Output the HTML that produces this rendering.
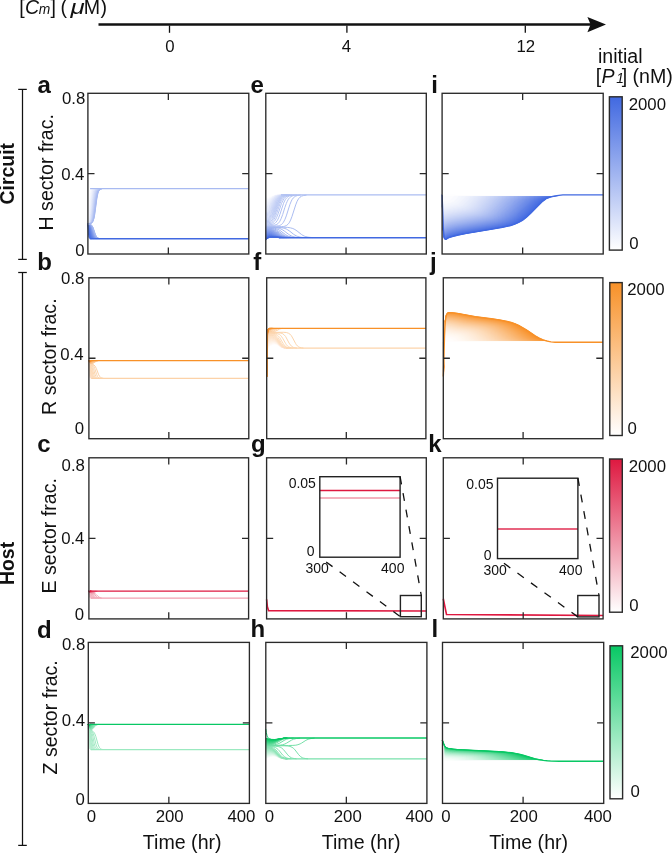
<!DOCTYPE html>
<html><head><meta charset="utf-8"><style>
html,body{margin:0;padding:0;background:#fff;width:672px;height:853px;overflow:hidden}
svg{display:block;font-family:"Liberation Sans",sans-serif;will-change:transform}
</style></head><body>
<svg width="672" height="853" viewBox="0 0 672 853" font-family="Liberation Sans, sans-serif" fill="#111">
<rect width="672" height="853" fill="#fff"/>
<defs></defs>
<line x1="98.5" y1="24.55" x2="592" y2="24.55" stroke="#111" stroke-width="2.6"/>
<polygon points="587.4,17 606,24.6 587.4,32.3 590.6,24.6" fill="#111"/>
<line x1="169.5" y1="25.5" x2="169.5" y2="32.8" stroke="#111" stroke-width="1.3"/>
<line x1="346.9" y1="25.5" x2="346.9" y2="32.8" stroke="#111" stroke-width="1.3"/>
<line x1="525.3" y1="25.5" x2="525.3" y2="32.8" stroke="#111" stroke-width="1.3"/>
<text x="165.24" y="52.10" font-size="16.8" font-weight="normal" font-style="normal" >0</text>
<text x="341.81" y="52.10" font-size="16.8" font-weight="normal" font-style="normal" >4</text>
<text x="516.52" y="52.10" font-size="16.8" font-weight="normal" font-style="normal" >12</text>
<text x="19.20" y="14.10" font-size="19.6" font-weight="normal" font-style="normal" >[</text>
<text x="24.92" y="14.10" font-size="19.6" font-weight="normal" font-style="italic" >C</text>
<text x="38.67" y="14.10" font-size="13.8" font-weight="normal" font-style="italic" >m</text>
<text x="50.55" y="14.10" font-size="19.6" font-weight="normal" font-style="normal">]</text>
<text x="60.58" y="14.10" font-size="19.6" font-weight="normal" font-style="normal" >(</text>
<text transform="translate(70.54,14.1) scale(1.320,1)" font-size="19.6" font-style="italic">μ</text>
<text x="83.79" y="14.10" font-size="19.6" font-weight="normal" font-style="normal" >M</text>
<text x="100.39" y="14.10" font-size="19.6" font-weight="normal" font-style="normal">)</text>
<line x1="22.5" y1="89.4" x2="22.5" y2="259.4" stroke="#111" stroke-width="1.25"/>
<line x1="18.2" y1="89.4" x2="26.8" y2="89.4" stroke="#111" stroke-width="1.25"/>
<line x1="18.2" y1="259.4" x2="26.8" y2="259.4" stroke="#111" stroke-width="1.25"/>
<line x1="22.5" y1="272.5" x2="22.5" y2="845.4" stroke="#111" stroke-width="1.25"/>
<line x1="18.2" y1="272.5" x2="26.8" y2="272.5" stroke="#111" stroke-width="1.25"/>
<line x1="18.2" y1="845.4" x2="26.8" y2="845.4" stroke="#111" stroke-width="1.25"/>
<text transform="translate(14.10,204.40) rotate(-90)" font-size="19.4" font-weight="bold">Circuit</text>
<text transform="translate(14.10,585.00) rotate(-90)" font-size="19.4" font-weight="bold">Host</text>
<path d="M87.9,223.9L88.6,196.1L89.1,190.6L89.6,189.2L90.1,188.8" stroke="rgb(255,255,255)" stroke-width="1.0" fill="none"/>
<path d="M87.9,223.9L88.4,219.2L89.3,200.6L89.8,193.8L90.1,191.8L90.6,189.8L91.0,189.1L91.5,188.8" stroke="rgb(252,252,254)" stroke-width="1.0" fill="none"/>
<path d="M87.9,223.9L88.4,222.0L88.9,217.9L90.1,198.4L90.6,193.1L90.8,191.6L91.3,189.9L91.8,189.2L92.5,188.8" stroke="rgb(249,250,254)" stroke-width="1.0" fill="none"/>
<path d="M87.9,223.9L88.4,222.9L88.6,222.0L89.1,218.9L89.6,213.4L90.6,198.5L91.0,193.5L91.3,192.0L91.8,190.1L92.2,189.3L93.0,188.9" stroke="rgb(245,247,253)" stroke-width="1.0" fill="none"/>
<path d="M87.9,223.9L88.4,223.3L88.9,222.0L89.6,217.4L91.0,197.9L91.5,193.4L91.8,192.0L92.2,190.2L92.7,189.4L93.2,189.0L93.7,188.8" stroke="rgb(242,245,253)" stroke-width="1.0" fill="none"/>
<path d="M87.9,223.9L88.6,223.1L89.1,222.0L89.8,217.9L90.3,212.8L91.3,199.7L92.0,193.0L92.7,190.2L93.2,189.4L93.7,189.0L94.2,188.9" stroke="rgb(239,242,252)" stroke-width="1.0" fill="none"/>
<path d="M87.9,223.9L88.6,223.4L89.1,222.6L89.6,221.0L90.1,218.1L90.6,213.5L91.8,198.3L92.5,192.6L93.0,190.7L93.5,189.7L93.9,189.2L94.7,188.9" stroke="rgb(236,240,252)" stroke-width="1.0" fill="none"/>
<path d="M87.9,223.9L88.6,223.5L89.1,222.9L89.6,221.8L90.1,219.8L90.8,214.0L92.2,196.9L93.0,192.0L93.5,190.4L93.9,189.6L94.4,189.2L95.1,188.9" stroke="rgb(232,237,251)" stroke-width="1.0" fill="none"/>
<path d="M87.9,223.9L88.6,223.6L89.3,222.8L89.8,221.7L90.3,219.7L91.0,214.2L92.5,197.7L93.2,192.6L93.7,190.8L94.2,189.8L94.9,189.1L95.6,188.9" stroke="rgb(229,235,251)" stroke-width="1.0" fill="none"/>
<path d="M87.9,223.9L88.9,223.5L89.6,222.7L90.1,221.6L90.6,219.6L91.3,214.3L92.7,198.3L93.2,194.4L93.7,191.9L94.2,190.5L94.7,189.7L95.4,189.1L96.1,188.9" stroke="rgb(226,232,250)" stroke-width="1.0" fill="none"/>
<path d="M87.9,223.9L88.9,223.6L89.6,222.9L90.1,222.1L90.6,220.6L91.0,218.1L91.5,214.3L93.0,198.8L93.7,193.4L94.2,191.4L94.9,189.8L95.6,189.1L96.6,188.8" stroke="rgb(223,230,250)" stroke-width="1.0" fill="none"/>
<path d="M87.9,223.9L88.9,223.6L89.6,223.1L90.3,221.9L90.8,220.4L91.3,217.9L91.8,214.2L93.2,199.1L93.9,193.8L94.4,191.6L95.1,190.0L95.9,189.2L96.8,188.9" stroke="rgb(220,227,249)" stroke-width="1.0" fill="none"/>
<path d="M87.9,223.9L89.1,223.6L89.8,223.0L90.6,221.8L91.0,220.2L91.5,217.7L92.0,214.0L93.5,199.3L94.2,194.0L94.7,191.9L95.4,190.1L96.1,189.3L97.3,188.8" stroke="rgb(216,224,249)" stroke-width="1.0" fill="none"/>
<path d="M87.9,223.9L89.1,223.6L89.8,223.2L90.6,222.2L91.0,220.9L91.5,218.8L92.0,215.8L93.7,199.5L94.2,195.7L94.7,193.0L95.1,191.3L95.9,189.8L96.6,189.2L97.6,188.9" stroke="rgb(213,222,248)" stroke-width="1.0" fill="none"/>
<path d="M87.9,223.9L89.1,223.7L90.1,223.1L90.8,222.0L91.3,220.7L91.8,218.6L92.2,215.5L93.9,199.6L94.9,193.2L95.4,191.4L96.1,189.9L96.8,189.3L98.0,188.8" stroke="rgb(210,219,248)" stroke-width="1.0" fill="none"/>
<path d="M87.9,223.9L89.3,223.6L90.3,223.0L91.0,221.8L91.5,220.4L92.0,218.3L92.5,215.2L94.2,199.6L95.1,193.3L95.6,191.5L96.3,190.0L97.1,189.3L98.3,188.9" stroke="rgb(207,217,247)" stroke-width="1.0" fill="none"/>
<path d="M87.9,223.9L89.3,223.6L90.3,223.1L91.0,222.1L91.5,221.0L92.2,218.0L92.7,214.9L94.4,199.6L95.4,193.4L95.9,191.6L96.6,190.1L97.1,189.5L97.6,189.2L98.8,188.8" stroke="rgb(203,214,247)" stroke-width="1.0" fill="none"/>
<path d="M87.9,223.9L89.3,223.7L90.3,223.2L91.0,222.4L91.8,220.7L92.5,217.6L93.0,214.5L94.7,199.5L95.6,193.4L96.1,191.7L96.8,190.1L97.3,189.6L97.8,189.2L99.0,188.9" stroke="rgb(200,212,246)" stroke-width="1.0" fill="none"/>
<path d="M87.9,223.9L89.6,223.6L90.6,223.1L91.3,222.2L92.0,220.5L92.5,218.5L93.0,215.8L94.9,199.4L95.9,193.5L96.3,191.7L97.1,190.2L98.0,189.3L99.2,188.9" stroke="rgb(197,209,246)" stroke-width="1.0" fill="none"/>
<path d="M87.9,223.9L89.6,223.7L90.6,223.2L91.3,222.5L92.0,221.0L92.7,218.2L93.2,215.4L95.1,199.2L96.1,193.5L96.8,191.1L97.6,189.9L98.5,189.2L99.7,188.8" stroke="rgb(194,207,245)" stroke-width="1.0" fill="none"/>
<path d="M87.9,223.9L89.6,223.7L90.8,223.1L91.5,222.3L92.2,220.7L93.0,217.8L93.5,215.0L95.4,199.0L96.3,193.5L97.1,191.2L97.8,189.9L98.8,189.2L100.0,188.9" stroke="rgb(191,204,245)" stroke-width="1.0" fill="none"/>
<path d="M87.9,223.9L89.6,223.7L90.8,223.2L91.8,222.1L92.5,220.4L93.2,217.4L93.7,214.5L95.6,198.8L96.6,193.4L97.3,191.2L98.0,190.0L99.0,189.2L100.2,188.9" stroke="rgb(187,202,244)" stroke-width="1.0" fill="none"/>
<path d="M87.9,223.9L89.6,223.7L90.8,223.3L91.8,222.3L92.5,220.9L93.2,218.2L93.7,215.6L95.9,198.6L96.8,193.4L97.6,191.2L98.3,190.0L99.2,189.2L100.5,188.9" stroke="rgb(184,199,244)" stroke-width="1.0" fill="none"/>
<path d="M87.9,223.9L89.8,223.7L91.0,223.2L92.0,222.2L92.7,220.6L93.5,217.9L93.9,215.2L96.1,198.4L97.1,193.3L97.8,191.2L98.5,190.0L99.5,189.2L100.9,188.8" stroke="rgb(181,197,243)" stroke-width="1.0" fill="none"/>
<path d="M87.9,223.9L89.8,223.7L91.0,223.3L92.0,222.4L92.7,221.0L93.5,218.6L94.2,214.7L96.1,199.8L96.6,196.6L97.3,193.2L98.0,191.1L98.8,190.0L99.7,189.2L101.2,188.9" stroke="rgb(178,194,243)" stroke-width="1.0" fill="none"/>
<path d="M87.9,223.9L90.1,223.7L91.3,223.2L92.2,222.2L93.0,220.7L93.7,218.2L94.2,215.7L96.3,199.5L96.8,196.4L97.6,193.1L98.3,191.1L99.0,190.0L100.0,189.2L101.4,188.9" stroke="rgb(174,191,242)" stroke-width="1.0" fill="none"/>
<path d="M87.9,223.9L90.1,223.7L91.3,223.3L92.2,222.4L93.0,221.1L93.7,218.8L94.4,215.2L96.6,199.1L97.1,196.2L97.8,193.0L98.5,191.1L99.2,190.0L100.2,189.3L101.7,188.9" stroke="rgb(171,189,242)" stroke-width="1.0" fill="none"/>
<path d="M87.9,223.9L90.1,223.7L91.3,223.3L92.2,222.5L93.2,220.8L93.9,218.4L94.7,214.7L96.8,198.8L97.8,193.8L98.5,191.6L99.5,190.0L100.5,189.3L101.9,188.9" stroke="rgb(168,186,241)" stroke-width="1.0" fill="none"/>
<path d="M87.9,223.9L88.6,235.2L89.1,237.7L89.3,238.2L89.8,238.6" stroke="rgb(65,105,225)" stroke-width="1.0" fill="none"/>
<path d="M87.9,223.9L88.9,233.2L89.3,236.5L89.8,237.9L90.3,238.5L90.8,238.6" stroke="rgb(68,108,226)" stroke-width="1.0" fill="none"/>
<path d="M87.9,223.9L88.4,226.5L89.6,235.7L89.8,236.8L90.3,238.0L90.8,238.4L91.3,238.6" stroke="rgb(71,110,226)" stroke-width="1.0" fill="none"/>
<path d="M87.9,223.9L88.6,226.9L89.6,233.8L90.1,236.3L90.3,237.1L90.8,238.1L91.3,238.5L91.8,238.6" stroke="rgb(75,113,227)" stroke-width="1.0" fill="none"/>
<path d="M87.9,223.9L88.4,225.0L88.9,227.2L90.3,236.0L91.0,237.9L91.5,238.4L92.0,238.6" stroke="rgb(78,115,227)" stroke-width="1.0" fill="none"/>
<path d="M87.9,223.9L88.4,224.7L88.9,226.3L90.3,234.7L90.8,236.6L91.5,238.0L92.0,238.4L92.5,238.6" stroke="rgb(81,118,228)" stroke-width="1.0" fill="none"/>
<path d="M87.9,223.9L88.6,225.0L89.1,226.6L90.6,234.6L91.0,236.5L91.8,237.9L92.2,238.4L93.0,238.6" stroke="rgb(84,120,228)" stroke-width="1.0" fill="none"/>
<path d="M87.9,223.9L88.6,224.7L89.3,226.9L90.8,234.5L91.3,236.4L92.0,237.9L92.5,238.3L93.2,238.6" stroke="rgb(88,123,229)" stroke-width="1.0" fill="none"/>
<path d="M87.9,223.9L88.6,224.6L89.3,226.3L89.8,228.2L91.0,234.5L91.8,236.9L92.5,238.1L93.0,238.4L93.7,238.6" stroke="rgb(91,125,229)" stroke-width="1.0" fill="none"/>
<path d="M87.9,223.9L88.4,224.2L88.9,224.8L89.6,226.5L91.3,234.5L92.0,236.9L92.7,238.0L93.2,238.4L93.9,238.6" stroke="rgb(94,128,230)" stroke-width="1.0" fill="none"/>
<path d="M87.9,223.9L88.4,224.1L88.9,224.6L89.6,226.1L90.3,228.8L91.5,234.6L92.2,236.8L93.0,238.0L93.5,238.3L94.2,238.6" stroke="rgb(97,130,230)" stroke-width="1.0" fill="none"/>
<path d="M87.9,223.9L88.6,224.3L89.1,224.8L89.8,226.3L90.6,229.0L91.8,234.6L92.5,236.8L93.0,237.7L93.5,238.1L94.7,238.6" stroke="rgb(100,133,231)" stroke-width="1.0" fill="none"/>
<path d="M87.9,223.9L88.6,224.2L89.1,224.7L89.8,225.9L90.6,228.3L92.0,234.7L92.7,236.8L93.2,237.6L93.7,238.1L94.9,238.6" stroke="rgb(104,136,231)" stroke-width="1.0" fill="none"/>
<path d="M87.9,223.9L88.6,224.2L89.1,224.5L89.6,225.2L90.1,226.2L90.8,228.6L92.2,234.8L93.0,236.8L93.5,237.6L93.9,238.1L95.1,238.6" stroke="rgb(107,138,232)" stroke-width="1.0" fill="none"/>
<path d="M87.9,223.9L88.6,224.1L89.1,224.4L89.6,225.0L90.1,225.9L90.8,228.0L92.5,234.9L93.2,236.9L93.7,237.6L94.2,238.1L94.9,238.4L95.6,238.6" stroke="rgb(110,141,232)" stroke-width="1.0" fill="none"/>
<path d="M87.9,223.9L88.6,224.1L89.3,224.6L89.8,225.2L90.3,226.1L91.0,228.3L92.5,234.2L93.5,236.9L93.9,237.6L94.4,238.1L95.1,238.4L95.9,238.6" stroke="rgb(113,143,233)" stroke-width="1.0" fill="none"/>
<path d="M87.9,223.9L88.6,224.1L89.3,224.5L90.1,225.4L90.6,226.4L91.3,228.6L92.7,234.4L93.7,236.9L94.2,237.6L94.7,238.1L95.4,238.4L96.1,238.6" stroke="rgb(117,146,233)" stroke-width="1.0" fill="none"/>
<path d="M87.9,223.9L88.6,224.0L89.3,224.4L90.1,225.2L90.6,226.1L91.3,228.1L93.0,234.5L93.9,237.0L94.4,237.6L94.9,238.1L95.6,238.4L96.3,238.6" stroke="rgb(120,148,234)" stroke-width="1.0" fill="none"/>
<path d="M87.9,223.9L88.6,224.0L89.3,224.4L90.3,225.4L91.3,227.6L93.0,233.9L93.9,236.6L94.4,237.4L95.1,238.1L95.9,238.4L96.6,238.6" stroke="rgb(123,151,234)" stroke-width="1.0" fill="none"/>
<path d="M87.9,223.9L89.3,224.3L90.1,224.9L90.6,225.6L91.5,227.9L93.2,234.1L93.9,236.1L94.4,237.0L95.1,237.9L95.9,238.3L96.8,238.6" stroke="rgb(126,153,235)" stroke-width="1.0" fill="none"/>
<path d="M87.9,223.9L89.3,224.3L90.1,224.8L90.6,225.4L91.5,227.5L93.5,234.3L94.2,236.2L94.7,237.1L95.4,237.9L96.1,238.3L97.1,238.6" stroke="rgb(129,156,235)" stroke-width="1.0" fill="none"/>
<path d="M87.9,223.9L88.9,224.1L89.6,224.4L90.3,224.9L90.8,225.6L91.8,227.8L93.5,233.7L94.4,236.3L94.9,237.1L95.6,237.9L96.3,238.3L97.3,238.6" stroke="rgb(133,158,236)" stroke-width="1.0" fill="none"/>
<path d="M87.9,223.9L88.9,224.0L89.6,224.3L90.3,224.8L90.8,225.4L91.5,226.8L92.0,228.1L93.7,233.9L94.7,236.4L95.1,237.2L95.9,237.9L96.6,238.3L97.8,238.6" stroke="rgb(136,161,236)" stroke-width="1.0" fill="none"/>
<path d="M87.9,223.9L89.1,224.1L89.8,224.4L90.6,225.0L91.0,225.6L92.0,227.7L93.9,234.1L94.9,236.5L95.4,237.2L96.1,237.9L96.8,238.3L98.0,238.6" stroke="rgb(139,163,237)" stroke-width="1.0" fill="none"/>
<path d="M87.9,223.9L89.1,224.1L89.8,224.4L90.6,224.9L91.0,225.4L91.8,226.7L92.2,228.0L94.2,234.3L95.1,236.6L95.6,237.3L96.3,238.0L97.1,238.3L98.3,238.6" stroke="rgb(142,166,237)" stroke-width="1.0" fill="none"/>
<path d="M87.9,223.9L89.1,224.1L89.8,224.3L90.6,224.8L91.3,225.6L92.2,227.6L94.2,233.8L95.1,236.2L95.9,237.3L96.6,238.0L97.3,238.3L98.5,238.6" stroke="rgb(146,169,238)" stroke-width="1.0" fill="none"/>
<path d="M87.9,223.9L89.8,224.3L90.6,224.7L91.3,225.5L92.0,226.7L92.5,227.9L94.4,234.0L95.4,236.3L96.1,237.4L96.8,238.0L97.6,238.3L98.8,238.6" stroke="rgb(149,171,238)" stroke-width="1.0" fill="none"/>
<path d="M87.9,223.9L89.8,224.2L90.6,224.6L91.3,225.3L92.0,226.5L92.5,227.6L94.7,234.2L95.6,236.4L96.3,237.4L97.1,238.0L98.0,238.4L99.0,238.6" stroke="rgb(152,174,239)" stroke-width="1.0" fill="none"/>
<path d="M87.9,223.9L89.1,224.0L90.1,224.3L90.8,224.8L91.5,225.5L92.2,226.7L92.7,227.8L94.9,234.4L95.9,236.5L96.6,237.5L97.3,238.0L98.3,238.4L99.2,238.6" stroke="rgb(155,176,239)" stroke-width="1.0" fill="none"/>
<path d="M87.9,223.9L89.1,224.0L90.1,224.3L90.8,224.7L91.5,225.4L92.2,226.5L92.7,227.5L94.9,234.0L96.1,236.6L96.8,237.5L97.6,238.1L98.5,238.4L99.5,238.6" stroke="rgb(158,179,240)" stroke-width="1.0" fill="none"/>
<path d="M87.9,223.9L89.3,224.0L90.3,224.4L91.0,224.8L91.8,225.5L92.5,226.7L93.0,227.8L95.1,234.2L96.1,236.3L96.8,237.3L97.6,237.9L98.5,238.4L99.7,238.6" stroke="rgb(162,181,240)" stroke-width="1.0" fill="none"/>
<path d="M87.9,223.9L89.3,224.0L90.3,224.3L91.0,224.7L91.8,225.4L92.5,226.5L93.0,227.5L95.4,234.4L96.3,236.4L97.1,237.4L97.8,238.0L98.8,238.4L100.0,238.6" stroke="rgb(165,184,241)" stroke-width="1.0" fill="none"/>
<path d="M90.1,188.72L248.8,188.72" stroke="rgb(168,186,241)" stroke-width="1.3" fill="none"/>
<path d="M89.8,238.73L248.8,238.73" stroke="rgb(65,105,225)" stroke-width="1.3" fill="none"/>
<path d="M265.8,195.7L266.3,196.5L267.0,197.3L267.7,197.6L268.4,197.7L269.7,197.5L273.3,196.0L275.4,195.5L278.8,195.1L284.1,195.0" stroke="rgb(255,255,255)" stroke-width="1.0" fill="none"/>
<path d="M265.8,196.6L266.3,197.3L267.0,197.9L267.5,198.2L268.2,198.2L269.4,197.9L273.0,196.2L275.4,195.5L278.8,195.1L284.1,195.0" stroke="rgb(253,253,255)" stroke-width="1.0" fill="none"/>
<path d="M265.8,197.5L266.3,198.1L267.0,198.6L267.5,198.8L268.2,198.8L269.4,198.4L272.8,196.5L275.2,195.7L278.3,195.2L283.4,195.0" stroke="rgb(250,251,254)" stroke-width="1.0" fill="none"/>
<path d="M265.8,198.4L266.8,199.2L267.2,199.4L268.0,199.4L269.2,199.0L272.8,196.7L274.9,195.8L278.1,195.2L282.7,195.0" stroke="rgb(248,249,254)" stroke-width="1.0" fill="none"/>
<path d="M265.8,199.3L266.8,200.0L267.2,200.1L268.0,200.1L269.2,199.5L272.5,197.0L274.7,196.0L276.2,195.6L277.8,195.3L282.7,195.0" stroke="rgb(245,247,253)" stroke-width="1.0" fill="none"/>
<path d="M265.8,200.1L266.8,200.8L267.2,200.9L268.0,200.7L269.2,200.1L272.5,197.3L274.5,196.2L275.9,195.7L277.4,195.4L281.7,195.0" stroke="rgb(243,246,253)" stroke-width="1.0" fill="none"/>
<path d="M265.8,201.0L266.3,201.4L267.0,201.6L267.5,201.6L268.2,201.3L269.4,200.5L272.8,197.4L274.0,196.6L275.2,196.1L277.8,195.4L281.2,195.1" stroke="rgb(241,244,253)" stroke-width="1.0" fill="none"/>
<path d="M265.8,201.9L266.3,202.2L267.0,202.4L267.5,202.4L268.2,202.1L269.4,201.1L272.8,197.7L274.0,196.9L275.2,196.2L277.6,195.5L281.0,195.1" stroke="rgb(238,242,252)" stroke-width="1.0" fill="none"/>
<path d="M265.8,202.8L266.5,203.2L267.0,203.2L267.7,203.1L268.4,202.7L269.4,201.8L272.8,198.1L274.0,197.1L275.2,196.4L276.4,195.9L277.8,195.5L281.2,195.1" stroke="rgb(236,240,252)" stroke-width="1.0" fill="none"/>
<path d="M265.8,203.7L266.5,204.0L267.0,204.1L267.7,203.9L268.4,203.5L269.7,202.3L272.8,198.5L274.0,197.4L275.2,196.6L276.4,196.0L277.8,195.6L281.4,195.1" stroke="rgb(233,238,252)" stroke-width="1.0" fill="none"/>
<path d="M265.8,204.5L266.5,204.9L267.0,204.9L267.7,204.7L268.4,204.3L269.7,203.0L273.0,198.7L274.2,197.5L275.4,196.7L276.6,196.1L278.1,195.6L279.8,195.3L281.9,195.1" stroke="rgb(231,236,251)" stroke-width="1.0" fill="none"/>
<path d="M265.8,205.4L266.5,205.7L267.2,205.7L268.0,205.5L268.7,204.9L269.9,203.5L273.3,198.9L274.5,197.6L275.7,196.7L277.1,196.0L278.6,195.6L280.2,195.3L282.7,195.1" stroke="rgb(229,234,251)" stroke-width="1.0" fill="none"/>
<path d="M265.8,206.3L266.5,206.6L267.2,206.6L268.0,206.3L268.7,205.8L269.9,204.4L273.5,199.1L274.7,197.8L275.9,196.8L277.4,196.1L278.8,195.6L280.5,195.3L282.7,195.1" stroke="rgb(226,232,250)" stroke-width="1.0" fill="none"/>
<path d="M265.8,207.2L266.8,207.5L267.5,207.4L268.2,207.1L268.9,206.4L270.1,204.9L273.7,199.3L274.9,197.9L276.2,196.9L277.6,196.1L279.0,195.6L281.0,195.3L283.4,195.1" stroke="rgb(224,230,250)" stroke-width="1.0" fill="none"/>
<path d="M265.8,208.1L266.8,208.4L267.5,208.3L268.2,208.0L268.9,207.4L270.4,205.4L274.0,199.5L275.2,198.0L276.4,197.0L277.8,196.2L279.3,195.6L281.0,195.3L283.4,195.1" stroke="rgb(221,228,250)" stroke-width="1.0" fill="none"/>
<path d="M265.8,208.9L266.8,209.2L267.5,209.2L268.2,208.9L269.2,208.0L270.6,206.0L273.0,201.6L274.2,199.7L275.4,198.2L276.6,197.1L278.1,196.2L279.5,195.7L281.4,195.3L284.1,195.1" stroke="rgb(219,227,249)" stroke-width="1.0" fill="none"/>
<path d="M265.8,209.8L266.8,210.1L267.7,210.0L268.4,209.6L269.4,208.7L270.9,206.5L273.3,202.0L274.5,200.0L275.7,198.4L276.9,197.2L278.3,196.3L279.8,195.7L281.7,195.3L284.1,195.1" stroke="rgb(217,225,249)" stroke-width="1.0" fill="none"/>
<path d="M265.8,210.7L266.8,211.0L267.7,210.9L268.7,210.4L269.4,209.7L270.9,207.5L274.7,200.2L275.9,198.5L277.1,197.3L278.6,196.3L280.0,195.7L281.7,195.4L284.1,195.1" stroke="rgb(214,223,249)" stroke-width="1.0" fill="none"/>
<path d="M265.8,211.6L266.8,211.9L267.7,211.8L268.7,211.3L269.7,210.4L271.1,208.1L274.9,200.5L276.2,198.7L277.4,197.4L278.8,196.4L280.2,195.8L281.9,195.4L284.8,195.1" stroke="rgb(212,221,248)" stroke-width="1.0" fill="none"/>
<path d="M265.8,212.5L267.0,212.8L268.0,212.6L268.9,212.1L269.9,211.1L271.3,208.7L275.2,200.8L276.4,198.9L277.6,197.6L279.0,196.5L280.5,195.8L282.7,195.3L284.8,195.1" stroke="rgb(209,219,248)" stroke-width="1.0" fill="none"/>
<path d="M265.8,213.3L267.0,213.7L268.2,213.5L269.2,212.9L270.1,211.8L271.6,209.4L275.4,201.1L276.6,199.1L278.1,197.5L279.5,196.4L281.0,195.8L282.7,195.4L285.5,195.1" stroke="rgb(207,217,247)" stroke-width="1.0" fill="none"/>
<path d="M265.8,214.2L267.0,214.5L268.2,214.4L269.2,213.8L270.1,212.8L270.9,211.8L271.8,210.0L274.7,203.4L275.9,200.9L277.1,199.0L278.3,197.6L279.8,196.5L281.2,195.8L283.4,195.3L285.5,195.1" stroke="rgb(204,215,247)" stroke-width="1.0" fill="none"/>
<path d="M265.8,215.1L267.0,215.4L268.2,215.3L269.4,214.6L270.4,213.6L271.1,212.5L272.1,210.7L274.9,203.8L276.2,201.3L277.4,199.2L278.8,197.5L280.2,196.5L281.7,195.8L283.4,195.4L286.3,195.1" stroke="rgb(202,213,247)" stroke-width="1.0" fill="none"/>
<path d="M265.8,216.0L267.2,216.3L268.4,216.1L269.7,215.4L270.6,214.3L271.3,213.2L272.3,211.4L276.4,201.6L277.6,199.5L279.0,197.7L280.5,196.5L281.9,195.9L284.1,195.3L287.0,195.1" stroke="rgb(200,211,246)" stroke-width="1.0" fill="none"/>
<path d="M265.8,216.9L267.2,217.2L268.7,217.0L269.9,216.2L270.9,215.1L271.8,213.6L272.8,211.6L275.7,204.3L276.9,201.6L278.1,199.4L279.3,197.9L280.7,196.7L282.7,195.8L284.8,195.3L287.0,195.1" stroke="rgb(197,209,246)" stroke-width="1.0" fill="none"/>
<path d="M265.8,217.7L267.2,218.0L268.7,217.9L269.9,217.2L271.1,215.9L272.1,214.4L273.0,212.4L276.2,204.3L277.4,201.5L278.6,199.4L279.8,197.9L281.2,196.6L282.7,195.9L284.8,195.3L287.7,195.1" stroke="rgb(195,208,246)" stroke-width="1.0" fill="none"/>
<path d="M265.8,218.6L267.5,218.9L268.9,218.7L269.7,218.4L270.4,217.9L271.6,216.5L272.5,214.8L273.5,212.7L276.4,205.0L277.6,202.1L278.8,199.8L280.2,197.9L281.7,196.6L283.4,195.8L285.5,195.3L287.7,195.1" stroke="rgb(192,206,245)" stroke-width="1.0" fill="none"/>
<path d="M265.8,219.5L267.7,219.8L269.2,219.6L269.9,219.3L270.6,218.8L271.8,217.4L272.8,215.8L273.7,213.8L278.1,202.3L279.3,200.0L280.7,198.0L281.9,196.9L282.7,196.4L284.1,195.8L286.3,195.3L288.4,195.1" stroke="rgb(190,204,245)" stroke-width="1.0" fill="none"/>
<path d="M265.8,220.4L268.0,220.7L269.7,220.4L271.1,219.6L272.3,218.2L273.3,216.6L274.5,213.9L277.6,205.2L278.8,202.2L280.0,199.9L281.4,197.9L282.7,196.8L283.4,196.4L284.8,195.7L287.0,195.3L289.2,195.1" stroke="rgb(188,202,244)" stroke-width="1.0" fill="none"/>
<path d="M265.8,221.3L268.0,221.6L269.7,221.5L271.1,220.8L272.3,219.8L273.5,218.1L274.7,215.6L279.0,203.6L280.2,200.9L281.4,198.9L282.7,197.5L283.4,196.9L284.8,196.0L287.0,195.4L289.9,195.1" stroke="rgb(185,200,244)" stroke-width="1.0" fill="none"/>
<path d="M265.8,222.1L268.2,222.5L270.1,222.4L271.6,221.9L273.0,220.7L274.2,219.1L275.4,216.7L276.6,213.7L280.2,203.2L281.4,200.6L282.7,198.7L284.1,197.1L285.5,196.2L287.7,195.5L290.6,195.1" stroke="rgb(183,198,244)" stroke-width="1.0" fill="none"/>
<path d="M265.8,223.0L268.7,223.4L270.9,223.4L271.8,223.1L272.8,222.7L274.2,221.5L275.4,219.9L276.6,217.5L278.1,213.8L281.4,203.8L282.7,201.0L284.1,198.6L285.5,197.1L287.0,196.2L289.2,195.4L292.0,195.1" stroke="rgb(180,196,243)" stroke-width="1.0" fill="none"/>
<path d="M265.8,223.9L269.4,224.4L272.1,224.3L273.3,224.0L274.2,223.6L275.2,223.0L275.9,222.3L277.4,220.4L278.6,217.9L279.8,214.7L283.4,203.8L284.1,202.0L285.5,199.3L287.0,197.5L287.7,196.9L289.2,196.0L291.3,195.4L294.2,195.1" stroke="rgb(178,194,243)" stroke-width="1.0" fill="none"/>
<path d="M265.8,224.8L270.4,225.3L273.7,225.2L274.9,225.1L276.2,224.7L277.1,224.2L278.1,223.5L279.0,222.4L279.8,221.4L281.2,218.5L282.7,214.5L284.8,207.6L286.3,203.5L287.0,201.8L288.4,199.1L289.9,197.4L290.6,196.8L292.0,196.0L294.2,195.4L297.1,195.1" stroke="rgb(176,192,242)" stroke-width="1.0" fill="none"/>
<path d="M265.8,225.7L272.5,226.1L276.9,226.0L278.3,225.8L279.5,225.5L280.7,225.0L281.7,224.3L282.7,223.3L283.4,222.3L284.8,219.7L286.3,215.9L289.9,204.5L291.3,201.1L292.0,199.7L293.5,197.7L294.2,197.1L295.7,196.1L297.8,195.4L300.7,195.1" stroke="rgb(173,190,242)" stroke-width="1.0" fill="none"/>
<path d="M265.8,226.5L276.2,226.8L281.4,226.7L283.4,226.5L284.8,226.2L286.3,225.6L287.0,225.1L288.4,223.8L289.2,222.8L290.6,220.1L292.0,216.4L295.7,204.9L297.1,201.3L298.5,198.8L300.0,197.2L301.4,196.2L303.6,195.5L306.5,195.1" stroke="rgb(171,189,242)" stroke-width="1.0" fill="none"/>
<path d="M265.8,227.2L283.4,227.2L287.7,227.4L290.6,227.9L292.8,228.5L294.9,229.5L297.1,231.0L301.4,234.4L302.9,235.4L304.3,236.1L305.8,236.6L307.9,237.1L310.1,237.4L313.0,237.6" stroke="rgb(168,187,241)" stroke-width="1.0" fill="none"/>
<path d="M265.8,227.5L273.3,227.4L278.1,227.4L281.4,227.7L284.1,228.2L286.3,229.0L287.7,229.8L289.9,231.3L293.5,234.2L294.9,235.1L296.4,235.9L297.8,236.5L300.0,237.1L302.2,237.4L305.0,237.6" stroke="rgb(166,185,241)" stroke-width="1.0" fill="none"/>
<path d="M265.8,227.8L270.6,227.7L274.2,227.7L277.1,228.0L279.3,228.4L281.0,229.0L282.7,229.9L284.8,231.4L288.4,234.2L289.9,235.2L291.3,235.9L292.8,236.5L294.9,237.1L297.1,237.4L300.0,237.6" stroke="rgb(164,183,241)" stroke-width="1.0" fill="none"/>
<path d="M265.8,228.1L269.4,228.0L272.1,228.0L274.5,228.3L276.4,228.8L278.1,229.4L279.8,230.3L285.5,234.6L287.0,235.5L288.4,236.2L289.9,236.7L292.0,237.2L296.4,237.6" stroke="rgb(161,181,240)" stroke-width="1.0" fill="none"/>
<path d="M265.8,228.4L268.4,228.3L270.9,228.4L272.8,228.6L274.5,229.1L276.2,229.7L277.6,230.5L283.4,234.7L285.5,235.9L287.0,236.5L289.2,237.1L291.3,237.4L294.2,237.6" stroke="rgb(159,179,240)" stroke-width="1.0" fill="none"/>
<path d="M265.8,228.7L269.9,228.7L271.6,228.9L273.3,229.4L274.7,229.9L276.2,230.7L281.4,234.5L284.1,236.0L285.5,236.6L287.7,237.1L289.9,237.4L292.8,237.6" stroke="rgb(156,177,239)" stroke-width="1.0" fill="none"/>
<path d="M265.8,229.0L269.4,229.0L271.1,229.3L272.5,229.7L275.2,231.0L280.5,234.7L281.9,235.6L283.4,236.2L284.8,236.7L287.0,237.2L291.3,237.6" stroke="rgb(154,175,239)" stroke-width="1.0" fill="none"/>
<path d="M265.8,229.3L269.2,229.3L271.8,229.9L274.2,231.0L279.8,234.8L281.2,235.6L282.7,236.3L284.1,236.7L286.3,237.2L290.6,237.6" stroke="rgb(152,173,239)" stroke-width="1.0" fill="none"/>
<path d="M265.8,229.6L267.5,229.5L269.2,229.7L270.6,229.9L272.1,230.4L274.5,231.7L279.5,235.1L281.0,235.9L282.7,236.5L285.5,237.2L289.9,237.6" stroke="rgb(149,171,238)" stroke-width="1.0" fill="none"/>
<path d="M265.8,229.9L268.9,229.9L270.4,230.2L271.8,230.7L274.0,231.8L279.0,235.2L281.9,236.5L284.8,237.2L289.2,237.6" stroke="rgb(147,170,238)" stroke-width="1.0" fill="none"/>
<path d="M265.8,230.2L267.5,230.1L268.9,230.2L270.4,230.5L271.6,230.9L273.7,232.0L278.8,235.3L281.7,236.5L284.8,237.2L289.2,237.6" stroke="rgb(144,168,238)" stroke-width="1.0" fill="none"/>
<path d="M265.8,230.5L268.7,230.5L270.1,230.8L271.3,231.2L273.5,232.2L278.3,235.3L281.2,236.5L284.1,237.2L288.4,237.6" stroke="rgb(142,166,237)" stroke-width="1.0" fill="none"/>
<path d="M265.8,230.8L268.7,230.8L271.1,231.4L273.3,232.4L278.1,235.4L281.0,236.6L284.1,237.2L288.4,237.6" stroke="rgb(140,164,237)" stroke-width="1.0" fill="none"/>
<path d="M265.8,231.0L267.2,231.0L268.7,231.1L271.1,231.7L273.0,232.6L277.8,235.4L280.7,236.6L284.1,237.3L287.7,237.6" stroke="rgb(137,162,236)" stroke-width="1.0" fill="none"/>
<path d="M265.8,231.3L268.4,231.3L270.9,231.9L272.8,232.7L277.6,235.5L280.5,236.6L283.4,237.2L287.7,237.6" stroke="rgb(135,160,236)" stroke-width="1.0" fill="none"/>
<path d="M265.8,231.6L268.2,231.6L270.6,232.1L272.5,232.9L277.4,235.6L280.2,236.7L283.4,237.3L287.0,237.6" stroke="rgb(132,158,236)" stroke-width="1.0" fill="none"/>
<path d="M265.8,231.9L268.2,231.8L270.6,232.3L272.5,233.2L277.4,235.7L280.2,236.7L283.4,237.3L287.0,237.6" stroke="rgb(130,156,235)" stroke-width="1.0" fill="none"/>
<path d="M265.8,232.2L268.2,232.1L270.4,232.5L272.3,233.3L277.1,235.8L280.0,236.8L283.4,237.4L287.0,237.6" stroke="rgb(128,154,235)" stroke-width="1.0" fill="none"/>
<path d="M265.8,232.5L268.0,232.4L269.9,232.7L271.8,233.3L276.4,235.6L278.8,236.5L281.9,237.2L286.3,237.6" stroke="rgb(125,152,234)" stroke-width="1.0" fill="none"/>
<path d="M265.8,232.8L267.7,232.6L269.7,232.9L271.6,233.5L276.2,235.7L278.8,236.6L281.9,237.3L286.3,237.6" stroke="rgb(123,151,234)" stroke-width="1.0" fill="none"/>
<path d="M265.8,233.1L267.7,232.9L269.7,233.1L271.6,233.7L276.2,235.8L278.6,236.6L281.7,237.3L285.5,237.6" stroke="rgb(120,149,234)" stroke-width="1.0" fill="none"/>
<path d="M265.8,233.4L267.7,233.2L269.7,233.4L271.3,233.9L275.9,235.9L278.3,236.7L281.4,237.3L285.5,237.6" stroke="rgb(118,147,233)" stroke-width="1.0" fill="none"/>
<path d="M265.8,233.7L267.7,233.5L269.7,233.6L271.3,234.1L275.7,235.9L278.3,236.8L281.4,237.3L285.5,237.6" stroke="rgb(116,145,233)" stroke-width="1.0" fill="none"/>
<path d="M265.8,234.0L267.7,233.7L269.7,233.9L271.3,234.3L275.7,236.1L278.1,236.8L281.0,237.3L284.8,237.6" stroke="rgb(113,143,233)" stroke-width="1.0" fill="none"/>
<path d="M265.8,234.3L267.7,234.0L269.7,234.1L271.3,234.6L275.4,236.1L277.8,236.8L281.0,237.3L284.8,237.6" stroke="rgb(111,141,232)" stroke-width="1.0" fill="none"/>
<path d="M265.8,234.6L267.7,234.3L269.7,234.4L271.3,234.8L275.2,236.1L277.6,236.8L280.5,237.3L284.1,237.6" stroke="rgb(108,139,232)" stroke-width="1.0" fill="none"/>
<path d="M265.8,234.9L267.7,234.5L269.7,234.6L271.1,234.9L275.2,236.3L277.6,236.9L280.5,237.3L284.1,237.6" stroke="rgb(106,137,231)" stroke-width="1.0" fill="none"/>
<path d="M265.8,235.2L267.7,234.8L269.7,234.8L271.1,235.1L275.2,236.4L277.6,237.0L280.5,237.4L284.1,237.6" stroke="rgb(103,135,231)" stroke-width="1.0" fill="none"/>
<path d="M265.8,235.5L267.7,235.0L269.7,235.0L271.1,235.3L275.2,236.5L277.4,237.0L280.0,237.3L283.4,237.6" stroke="rgb(101,133,231)" stroke-width="1.0" fill="none"/>
<path d="M265.8,235.8L267.7,235.3L269.7,235.3L271.1,235.5L277.4,237.0L280.0,237.4L283.4,237.6" stroke="rgb(99,132,230)" stroke-width="1.0" fill="none"/>
<path d="M265.8,236.1L267.7,235.5L269.7,235.5L271.3,235.7L277.1,237.0L279.8,237.4L282.7,237.6" stroke="rgb(96,130,230)" stroke-width="1.0" fill="none"/>
<path d="M265.8,236.4L267.7,235.8L269.7,235.7L271.3,235.9L277.1,237.1L282.7,237.6" stroke="rgb(94,128,230)" stroke-width="1.0" fill="none"/>
<path d="M265.8,236.7L267.7,236.0L269.7,235.8L271.3,236.0L277.4,237.2L282.7,237.6" stroke="rgb(91,126,229)" stroke-width="1.0" fill="none"/>
<path d="M265.8,237.0L267.7,236.2L269.9,236.0L277.1,237.2L281.9,237.6" stroke="rgb(89,124,229)" stroke-width="1.0" fill="none"/>
<path d="M265.8,237.3L267.7,236.5L269.9,236.2L271.6,236.4L277.1,237.2L281.7,237.6" stroke="rgb(87,122,228)" stroke-width="1.0" fill="none"/>
<path d="M265.8,237.6L267.7,236.7L269.9,236.4L271.6,236.5L277.4,237.3L281.4,237.6" stroke="rgb(84,120,228)" stroke-width="1.0" fill="none"/>
<path d="M265.8,237.9L267.7,236.9L268.7,236.6L269.9,236.5L271.8,236.6L277.4,237.3L281.0,237.6" stroke="rgb(82,118,228)" stroke-width="1.0" fill="none"/>
<path d="M265.8,238.2L267.7,237.1L268.7,236.8L269.9,236.7L271.6,236.7L276.9,237.3L280.7,237.6" stroke="rgb(79,116,227)" stroke-width="1.0" fill="none"/>
<path d="M265.8,238.5L266.8,237.8L268.0,237.2L268.9,236.9L270.1,236.8L271.8,236.8L276.9,237.3L280.5,237.6" stroke="rgb(77,114,227)" stroke-width="1.0" fill="none"/>
<path d="M265.8,238.8L266.8,238.0L267.7,237.5L268.9,237.1L270.1,236.9L272.1,236.9L280.2,237.6" stroke="rgb(75,113,227)" stroke-width="1.0" fill="none"/>
<path d="M265.8,239.0L266.8,238.3L267.7,237.7L268.9,237.3L270.1,237.1L272.3,237.0L280.0,237.6" stroke="rgb(72,111,226)" stroke-width="1.0" fill="none"/>
<path d="M265.8,239.3L266.8,238.5L267.7,237.9L268.9,237.4L270.1,237.2L272.3,237.1L279.8,237.6" stroke="rgb(70,109,226)" stroke-width="1.0" fill="none"/>
<path d="M265.8,239.6L266.8,238.7L267.7,238.1L268.9,237.6L270.1,237.3L272.5,237.2L279.5,237.6" stroke="rgb(67,107,225)" stroke-width="1.0" fill="none"/>
<path d="M265.8,239.9L266.8,239.0L267.7,238.3L268.9,237.7L270.1,237.4L272.5,237.2L279.0,237.6" stroke="rgb(65,105,225)" stroke-width="1.0" fill="none"/>
<path d="M281.0,194.94L426.3,194.94" stroke="rgb(171,189,242)" stroke-width="1.3" fill="none"/>
<path d="M279.0,237.73L426.3,237.73" stroke="rgb(65,105,225)" stroke-width="1.3" fill="none"/>
<path d="M442.1,194.9L443.3,228.9L443.7,234.0L444.1,237.2L444.5,238.7L445.3,239.3L446.1,239.2L447.7,238.2L450.2,237.2L454.2,236.0L458.2,235.0L466.3,233.4L490.4,229.4L502.5,227.2L510.6,225.5L514.6,224.2L518.6,222.4L522.7,220.1L526.7,217.0L530.7,213.3L538.8,204.9L542.8,201.1L546.8,198.3L550.8,196.9L554.9,196.0L558.9,195.4L562.9,194.9L603.2,194.9L603.2,194.9L442.1,194.9Z" stroke="rgb(65,105,225)" stroke-width="1.0" fill="rgb(65,105,225)"/>
<path d="M442.1,194.9L443.3,228.8L443.7,233.8L444.1,237.0L444.5,238.4L445.3,238.9L446.1,238.9L447.7,237.8L450.2,236.9L454.2,235.6L458.2,234.6L466.3,233.1L490.4,229.0L502.5,226.8L506.5,226.0L510.6,225.1L514.6,223.7L518.6,221.8L522.7,219.3L526.7,216.1L530.7,212.3L538.8,203.8L542.8,200.3L546.8,197.8L550.8,196.6L554.9,195.8L558.9,195.2L562.9,194.9L603.2,194.9L603.2,194.9L442.1,194.9Z" stroke="rgb(68,108,226)" stroke-width="1.0" fill="rgb(68,108,226)"/>
<path d="M442.1,194.9L443.3,228.8L443.7,233.7L444.1,236.8L444.5,238.1L445.3,238.6L446.1,238.5L447.7,237.5L450.2,236.5L454.2,235.3L458.2,234.3L466.3,232.7L490.4,228.7L502.5,226.5L506.5,225.7L510.6,224.6L514.6,223.2L518.6,221.2L522.7,218.5L526.7,215.2L530.7,211.2L538.8,202.8L542.8,199.5L546.8,197.4L550.8,196.3L554.9,195.6L558.9,195.1L562.9,194.9L603.2,194.9L603.2,194.9L442.1,194.9Z" stroke="rgb(71,110,226)" stroke-width="1.0" fill="rgb(71,110,226)"/>
<path d="M442.1,194.9L443.3,228.7L443.7,233.5L444.1,236.6L444.5,237.8L445.3,238.3L446.1,238.2L447.7,237.1L450.2,236.1L454.2,234.9L458.2,233.9L466.3,232.4L490.4,228.3L502.5,226.1L506.5,225.3L510.6,224.2L514.6,222.6L518.6,220.5L522.7,217.7L526.7,214.2L538.8,201.8L542.8,198.8L546.8,197.1L550.8,196.1L554.9,195.4L558.9,195.0L603.2,194.9L603.2,194.9L442.1,194.9Z" stroke="rgb(75,113,227)" stroke-width="1.0" fill="rgb(75,113,227)"/>
<path d="M442.1,194.9L443.3,228.7L443.7,233.4L444.1,236.4L444.5,237.5L445.3,237.9L446.1,237.8L447.7,236.7L450.2,235.8L454.2,234.6L458.2,233.6L462.2,232.8L490.4,228.0L502.5,225.7L506.5,224.9L510.6,223.7L514.6,222.1L518.6,219.8L522.7,216.8L526.7,213.2L534.7,204.8L538.8,201.0L542.8,198.1L546.8,196.7L550.8,195.9L554.9,195.3L558.9,194.9L603.2,194.9L603.2,194.9L442.1,194.9Z" stroke="rgb(78,115,227)" stroke-width="1.0" fill="rgb(78,115,227)"/>
<path d="M442.1,194.9L443.3,228.6L443.7,233.2L444.1,236.1L444.5,237.1L445.3,237.6L446.1,237.4L447.7,236.4L450.2,235.4L454.2,234.2L458.2,233.2L466.3,231.7L490.4,227.6L502.5,225.4L506.5,224.4L510.6,223.2L514.6,221.4L518.6,219.1L522.7,215.9L526.7,212.2L534.7,203.6L538.8,200.1L542.8,197.6L546.8,196.4L550.8,195.7L554.9,195.1L558.9,194.9L603.2,194.9L603.2,194.9L442.1,194.9Z" stroke="rgb(81,118,228)" stroke-width="1.0" fill="rgb(81,118,228)"/>
<path d="M442.1,194.9L443.3,228.6L443.7,233.0L444.1,235.9L444.5,236.8L445.3,237.2L446.1,237.0L447.7,236.0L450.2,235.1L454.2,233.8L458.2,232.9L462.2,232.1L486.4,228.0L498.5,225.8L502.5,225.0L506.5,224.0L510.6,222.7L514.6,220.8L518.6,218.3L522.7,215.0L526.7,211.1L534.7,202.6L538.8,199.3L542.8,197.2L546.8,196.2L550.8,195.5L554.9,195.0L603.2,194.9L603.2,194.9L442.1,194.9Z" stroke="rgb(84,120,228)" stroke-width="1.0" fill="rgb(84,120,228)"/>
<path d="M442.1,194.9L443.3,228.5L443.7,232.9L444.1,235.7L444.5,236.5L445.3,236.9L446.1,236.6L447.7,235.6L450.2,234.7L454.2,233.5L458.2,232.5L462.2,231.7L486.4,227.6L498.5,225.4L502.5,224.6L506.5,223.6L510.6,222.2L514.6,220.1L518.6,217.4L522.7,214.0L534.7,201.6L538.8,198.5L542.8,196.9L546.8,195.9L550.8,195.3L554.9,194.9L603.2,194.9L603.2,194.9L442.1,194.9Z" stroke="rgb(88,123,229)" stroke-width="1.0" fill="rgb(88,123,229)"/>
<path d="M442.1,194.9L442.7,214.0L443.3,228.4L443.7,232.7L444.1,235.4L444.5,236.1L445.3,236.5L446.1,236.3L446.9,235.6L447.7,235.2L450.2,234.3L456.2,232.6L462.2,231.3L486.4,227.2L498.5,225.0L502.5,224.2L506.5,223.1L510.6,221.6L514.6,219.5L518.6,216.6L522.7,213.0L530.7,204.5L534.7,200.7L538.8,197.9L542.8,196.6L546.8,195.7L550.8,195.1L554.9,194.9L603.2,194.9L603.2,194.9L442.1,194.9Z" stroke="rgb(91,125,229)" stroke-width="1.0" fill="rgb(91,125,229)"/>
<path d="M442.1,194.9L442.7,214.0L443.3,228.3L443.7,232.5L444.1,235.1L444.5,235.8L445.3,236.1L446.1,235.9L446.9,235.2L447.7,234.8L450.2,233.9L454.2,232.7L458.2,231.8L462.2,231.0L486.4,226.8L498.5,224.6L502.5,223.7L506.5,222.6L510.6,221.0L514.6,218.7L518.6,215.6L522.7,211.9L530.7,203.3L534.7,199.8L538.8,197.4L542.8,196.3L546.8,195.5L550.8,195.0L603.2,194.9L603.2,194.9L442.1,194.9Z" stroke="rgb(94,128,230)" stroke-width="1.0" fill="rgb(94,128,230)"/>
<path d="M442.1,194.9L442.7,214.0L443.3,228.2L443.7,232.3L444.1,234.9L444.5,235.4L445.3,235.8L446.1,235.5L446.9,234.8L447.7,234.5L450.2,233.5L454.2,232.4L458.2,231.4L462.2,230.6L486.4,226.5L498.5,224.2L502.5,223.3L506.5,222.1L510.6,220.3L514.6,217.9L518.6,214.7L522.7,210.8L530.7,202.2L534.7,198.9L538.8,197.0L542.8,196.0L546.8,195.3L550.8,194.9L603.2,194.9L603.2,194.9L442.1,194.9Z" stroke="rgb(97,130,230)" stroke-width="1.0" fill="rgb(97,130,230)"/>
<path d="M442.1,194.9L442.9,219.6L443.3,228.1L443.7,232.2L444.1,234.6L444.5,235.1L445.3,235.4L446.1,235.0L446.9,234.4L448.9,233.6L452.2,232.5L456.2,231.5L462.2,230.2L486.4,226.1L498.5,223.8L502.5,222.9L506.5,221.6L510.6,219.7L514.6,217.1L518.6,213.7L530.7,201.2L534.7,198.2L538.8,196.7L542.8,195.8L546.8,195.2L550.8,194.9L603.2,194.9L603.2,194.9L442.1,194.9Z" stroke="rgb(100,133,231)" stroke-width="1.0" fill="rgb(100,133,231)"/>
<path d="M442.1,194.9L442.9,219.6L443.3,228.0L443.7,232.0L444.1,234.3L444.5,234.7L445.3,235.0L446.1,234.6L446.9,234.0L448.9,233.2L452.2,232.1L456.2,231.1L462.2,229.9L486.4,225.7L498.5,223.4L502.5,222.4L506.5,221.0L510.6,219.0L514.6,216.2L518.6,212.7L526.7,204.1L530.7,200.2L534.7,197.6L538.8,196.3L542.8,195.6L546.8,195.0L550.8,194.9L603.2,194.9L603.2,194.9L442.1,194.9Z" stroke="rgb(104,136,231)" stroke-width="1.0" fill="rgb(104,136,231)"/>
<path d="M442.1,194.9L442.9,219.6L443.3,227.9L443.7,231.8L444.1,234.0L444.5,234.4L445.3,234.6L446.9,233.6L448.9,232.8L452.2,231.7L456.2,230.7L462.2,229.5L486.4,225.3L498.5,223.0L502.5,221.9L506.5,220.4L510.6,218.2L514.6,215.2L518.6,211.5L526.7,202.8L530.7,199.3L534.7,197.1L538.8,196.1L542.8,195.4L546.8,194.9L603.2,194.9L603.2,194.9L442.1,194.9Z" stroke="rgb(107,138,232)" stroke-width="1.0" fill="rgb(107,138,232)"/>
<path d="M442.1,194.9L442.9,219.6L443.3,227.7L443.7,231.6L444.1,233.6L444.5,234.0L444.9,234.2L445.3,234.2L446.9,233.2L448.9,232.4L452.2,231.3L456.2,230.3L462.2,229.1L482.4,225.6L494.5,223.4L498.5,222.5L502.5,221.4L506.5,219.8L510.6,217.4L514.6,214.2L518.6,210.4L526.7,201.7L530.7,198.5L534.7,196.7L538.8,195.8L542.8,195.2L546.8,194.9L603.2,194.9L603.2,194.9L442.1,194.9Z" stroke="rgb(110,141,232)" stroke-width="1.0" fill="rgb(110,141,232)"/>
<path d="M442.1,194.9L442.9,219.7L443.3,227.5L443.7,231.4L444.1,233.3L444.9,233.8L445.3,233.8L446.9,232.8L448.9,232.0L452.2,230.9L456.2,229.9L462.2,228.7L482.4,225.2L494.5,222.9L498.5,222.1L502.5,220.9L506.5,219.1L510.6,216.6L514.6,213.2L526.7,200.7L530.7,197.8L534.7,196.4L538.8,195.6L542.8,195.0L546.8,194.9L603.2,194.9L603.2,194.9L442.1,194.9Z" stroke="rgb(113,143,233)" stroke-width="1.0" fill="rgb(113,143,233)"/>
<path d="M442.1,194.9L442.9,219.7L443.3,227.4L443.7,231.2L444.1,232.9L444.9,233.4L445.3,233.4L446.9,232.4L450.2,231.1L456.2,229.5L462.2,228.3L482.4,224.8L494.5,222.5L498.5,221.6L502.5,220.3L506.5,218.4L510.6,215.7L514.6,212.2L522.7,203.5L526.7,199.7L530.7,197.2L534.7,196.1L538.8,195.4L542.8,194.9L603.2,194.9L603.2,194.9L442.1,194.9Z" stroke="rgb(117,146,233)" stroke-width="1.0" fill="rgb(117,146,233)"/>
<path d="M442.1,194.9L442.9,219.7L443.3,227.2L443.7,230.9L444.1,232.6L444.9,233.0L445.3,233.0L446.9,231.9L448.9,231.1L452.2,230.1L456.2,229.1L462.2,227.9L482.4,224.4L494.5,222.1L498.5,221.1L502.5,219.7L506.5,217.6L510.6,214.7L514.6,211.0L522.7,202.2L526.7,198.8L530.7,196.8L534.7,195.8L538.8,195.2L542.8,194.9L603.2,194.9L603.2,194.9L442.1,194.9Z" stroke="rgb(120,148,234)" stroke-width="1.0" fill="rgb(120,148,234)"/>
<path d="M442.1,194.9L442.9,219.7L443.3,227.1L443.7,230.7L444.1,232.2L444.9,232.6L445.3,232.6L446.9,231.5L448.9,230.7L452.2,229.7L456.2,228.7L462.2,227.5L482.4,224.0L494.5,221.6L498.5,220.6L502.5,219.1L506.5,216.8L510.6,213.7L514.6,209.7L522.7,201.0L526.7,197.9L530.7,196.4L534.7,195.6L538.8,195.0L542.8,194.9L603.2,194.9L603.2,194.9L442.1,194.9Z" stroke="rgb(123,151,234)" stroke-width="1.0" fill="rgb(123,151,234)"/>
<path d="M442.1,194.9L442.9,219.8L443.3,226.9L443.7,230.5L444.1,231.8L444.9,232.2L445.3,232.1L446.9,231.1L448.9,230.3L452.2,229.3L456.2,228.3L490.4,222.0L494.5,221.2L498.5,220.1L502.5,218.4L506.5,215.9L510.6,212.6L514.6,208.4L518.6,204.0L522.7,200.0L526.7,197.3L530.7,196.1L534.7,195.4L538.8,194.9L603.2,194.9L603.2,194.9L442.1,194.9Z" stroke="rgb(126,153,235)" stroke-width="1.0" fill="rgb(126,153,235)"/>
<path d="M442.1,194.9L442.9,219.8L443.3,226.7L443.7,230.2L444.1,231.4L444.9,231.8L445.3,231.7L446.9,230.6L448.9,229.8L452.2,228.8L456.2,227.8L490.4,221.6L494.5,220.7L498.5,219.5L502.5,217.6L506.5,215.0L510.6,211.5L518.6,202.7L522.7,199.0L526.7,196.8L530.7,195.8L534.7,195.2L538.8,194.9L603.2,194.9L603.2,194.9L442.1,194.9Z" stroke="rgb(129,156,235)" stroke-width="1.0" fill="rgb(129,156,235)"/>
<path d="M442.1,194.9L442.9,219.8L443.3,226.5L443.7,229.9L444.1,231.0L444.5,231.3L444.9,231.4L445.3,231.2L446.9,230.2L448.9,229.4L454.2,227.9L458.2,227.0L478.3,223.4L490.4,221.1L494.5,220.2L498.5,218.9L502.5,216.9L506.5,214.0L510.6,210.2L518.6,201.4L522.7,198.1L526.7,196.4L530.7,195.6L534.7,195.0L538.8,194.9L603.2,194.9L603.2,194.9L442.1,194.9Z" stroke="rgb(133,158,236)" stroke-width="1.0" fill="rgb(133,158,236)"/>
<path d="M442.1,194.9L442.9,219.8L443.3,226.3L443.7,229.7L444.1,230.6L444.5,230.9L444.9,230.9L446.9,229.7L448.9,229.0L454.2,227.4L458.2,226.6L478.3,223.0L490.4,220.6L494.5,219.7L498.5,218.2L502.5,216.0L506.5,212.9L510.6,208.9L514.6,204.4L518.6,200.2L522.7,197.4L526.7,196.1L530.7,195.4L534.7,194.9L603.2,194.9L603.2,194.9L442.1,194.9Z" stroke="rgb(136,161,236)" stroke-width="1.0" fill="rgb(136,161,236)"/>
<path d="M442.1,194.9L442.9,219.8L443.3,226.2L443.7,229.4L444.1,230.2L444.5,230.4L444.9,230.5L446.1,229.7L447.7,228.9L450.2,228.1L454.2,227.0L458.2,226.1L478.3,222.5L490.4,220.2L494.5,219.1L498.5,217.5L502.5,215.1L506.5,211.8L510.6,207.5L514.6,203.0L518.6,199.2L522.7,196.9L526.7,195.8L530.7,195.2L534.7,194.9L603.2,194.9L603.2,194.9L442.1,194.9Z" stroke="rgb(139,163,237)" stroke-width="1.0" fill="rgb(139,163,237)"/>
<path d="M442.1,194.9L442.9,219.8L443.3,226.0L443.7,229.1L444.1,229.8L444.5,230.0L444.9,230.0L446.1,229.2L447.7,228.5L450.2,227.6L454.2,226.6L458.2,225.7L478.3,222.1L486.4,220.5L490.4,219.7L494.5,218.6L498.5,216.8L502.5,214.1L506.5,210.6L514.6,201.6L518.6,198.2L522.7,196.4L526.7,195.5L530.7,195.0L603.2,194.9L603.2,194.9L442.1,194.9Z" stroke="rgb(142,166,237)" stroke-width="1.0" fill="rgb(142,166,237)"/>
<path d="M442.1,194.9L442.9,219.8L443.3,225.8L443.7,228.7L444.1,229.3L444.5,229.6L444.9,229.6L446.1,228.7L447.7,228.0L450.2,227.2L454.2,226.1L458.2,225.2L478.3,221.6L486.4,220.0L490.4,219.2L494.5,217.9L498.5,215.9L502.5,213.1L506.5,209.3L514.6,200.4L518.6,197.4L522.7,196.1L526.7,195.3L530.7,194.9L603.2,194.9L603.2,194.9L442.1,194.9Z" stroke="rgb(146,169,238)" stroke-width="1.0" fill="rgb(146,169,238)"/>
<path d="M442.1,194.9L442.9,219.8L443.3,225.6L443.7,228.4L444.1,228.9L444.5,229.1L444.9,229.1L446.1,228.2L448.9,227.1L454.2,225.6L458.2,224.8L478.3,221.1L486.4,219.6L490.4,218.6L494.5,217.3L498.5,215.1L502.5,211.9L506.5,207.8L510.6,203.3L514.6,199.2L518.6,196.8L522.7,195.8L526.7,195.1L530.7,194.9L603.2,194.9L603.2,194.9L442.1,194.9Z" stroke="rgb(149,171,238)" stroke-width="1.0" fill="rgb(149,171,238)"/>
<path d="M442.1,194.9L442.9,219.8L443.3,225.3L443.7,228.0L444.1,228.5L444.5,228.6L444.9,228.6L446.1,227.7L448.9,226.6L454.2,225.2L486.4,219.1L490.4,218.1L494.5,216.5L498.5,214.1L502.5,210.7L510.6,201.8L514.6,198.2L518.6,196.4L522.7,195.5L526.7,195.0L603.2,194.9L603.2,194.9L442.1,194.9Z" stroke="rgb(152,174,239)" stroke-width="1.0" fill="rgb(152,174,239)"/>
<path d="M442.1,194.9L442.9,219.8L443.3,225.1L443.7,227.6L444.1,228.0L444.5,228.2L444.9,228.1L446.1,227.2L447.7,226.6L452.2,225.2L458.2,223.8L474.3,220.9L486.4,218.5L490.4,217.5L494.5,215.7L498.5,213.1L502.5,209.4L510.6,200.4L514.6,197.3L518.6,196.0L522.7,195.2L526.7,194.9L603.2,194.9L603.2,194.9L442.1,194.9Z" stroke="rgb(155,176,239)" stroke-width="1.0" fill="rgb(155,176,239)"/>
<path d="M442.1,194.9L442.9,219.7L443.3,224.9L443.7,227.2L444.1,227.6L444.5,227.7L444.9,227.6L446.1,226.7L447.7,226.1L450.2,225.2L454.2,224.2L482.4,218.9L486.4,218.0L490.4,216.8L494.5,214.9L498.5,211.9L502.5,208.0L506.5,203.4L510.6,199.2L514.6,196.7L518.6,195.7L522.7,195.0L526.7,194.9L603.2,194.9L603.2,194.9L442.1,194.9Z" stroke="rgb(158,179,240)" stroke-width="1.0" fill="rgb(158,179,240)"/>
<path d="M442.1,194.9L442.9,219.7L443.3,224.6L443.7,226.8L444.1,227.1L444.5,227.2L444.9,227.0L446.1,226.2L447.7,225.5L450.2,224.7L454.2,223.7L482.4,218.3L486.4,217.4L490.4,216.1L494.5,213.9L498.5,210.7L502.5,206.4L506.5,201.8L510.6,198.1L514.6,196.2L518.6,195.4L522.7,194.9L603.2,194.9L603.2,194.9L442.1,194.9Z" stroke="rgb(162,181,240)" stroke-width="1.0" fill="rgb(162,181,240)"/>
<path d="M442.1,194.9L442.9,219.6L443.3,224.4L443.7,226.3L444.1,226.6L444.5,226.7L446.1,225.7L446.9,225.3L448.9,224.6L452.2,223.7L456.2,222.8L474.3,219.4L482.4,217.8L486.4,216.8L490.4,215.4L494.5,212.9L498.5,209.4L506.5,200.3L510.6,197.2L514.6,195.9L518.6,195.2L522.7,194.9L603.2,194.9L603.2,194.9L442.1,194.9Z" stroke="rgb(165,184,241)" stroke-width="1.0" fill="rgb(165,184,241)"/>
<path d="M442.1,194.9L442.9,219.5L443.3,224.1L443.7,225.8L444.1,226.1L444.5,226.2L446.1,225.1L446.9,224.8L448.9,224.1L452.2,223.2L456.2,222.3L474.3,218.9L482.4,217.3L486.4,216.2L490.4,214.5L494.5,211.8L498.5,207.9L502.5,203.3L506.5,199.0L510.6,196.6L514.6,195.5L518.6,195.0L522.7,194.9L603.2,194.9L603.2,194.9L442.1,194.9Z" stroke="rgb(168,186,241)" stroke-width="1.0" fill="rgb(168,186,241)"/>
<path d="M442.1,194.9L442.9,219.4L443.3,223.8L443.7,225.3L444.1,225.6L444.5,225.6L445.3,225.0L446.9,224.3L448.9,223.5L452.2,222.6L456.2,221.7L478.3,217.5L482.4,216.7L486.4,215.6L490.4,213.6L494.5,210.5L498.5,206.3L502.5,201.6L506.5,197.8L510.6,196.1L514.6,195.3L518.6,194.9L603.2,194.9L603.2,194.9L442.1,194.9Z" stroke="rgb(171,189,242)" stroke-width="1.0" fill="rgb(171,189,242)"/>
<path d="M442.1,194.9L442.9,219.3L443.3,223.5L443.7,224.8L444.1,225.1L444.5,225.1L446.1,224.0L447.7,223.4L452.2,222.1L456.2,221.2L478.3,217.0L482.4,216.1L486.4,214.8L490.4,212.6L494.5,209.1L502.5,200.0L506.5,196.9L510.6,195.7L514.6,195.0L518.6,194.9L603.2,194.9L603.2,194.9L442.1,194.9Z" stroke="rgb(174,191,242)" stroke-width="1.0" fill="rgb(174,191,242)"/>
<path d="M442.1,194.9L442.9,219.1L443.3,223.2L443.7,224.3L444.1,224.5L444.5,224.5L445.3,223.9L447.7,222.8L452.2,221.5L478.3,216.4L482.4,215.5L486.4,214.0L490.4,211.4L494.5,207.7L498.5,203.0L502.5,198.7L506.5,196.3L510.6,195.4L514.6,194.9L603.2,194.9L603.2,194.9L442.1,194.9Z" stroke="rgb(178,194,243)" stroke-width="1.0" fill="rgb(178,194,243)"/>
<path d="M442.1,194.9L442.9,219.0L443.3,222.9L443.7,223.8L444.1,224.0L444.5,223.9L445.3,223.3L446.9,222.5L448.9,221.8L452.2,221.0L474.3,216.6L478.3,215.8L482.4,214.8L486.4,213.0L490.4,210.1L494.5,206.0L498.5,201.2L502.5,197.4L506.5,195.9L510.6,195.1L514.6,194.9L603.2,194.9L603.2,194.9L442.1,194.9Z" stroke="rgb(181,197,243)" stroke-width="1.0" fill="rgb(181,197,243)"/>
<path d="M442.1,194.9L442.9,218.7L443.3,222.5L443.7,223.3L444.1,223.4L444.5,223.3L445.3,222.7L446.9,222.0L448.9,221.3L452.2,220.4L474.3,216.0L478.3,215.2L482.4,214.1L486.4,212.0L490.4,208.7L498.5,199.5L502.5,196.6L506.5,195.5L510.6,194.9L603.2,194.9L603.2,194.9L442.1,194.9Z" stroke="rgb(184,199,244)" stroke-width="1.0" fill="rgb(184,199,244)"/>
<path d="M442.1,194.9L442.9,218.5L443.3,222.1L443.7,222.7L444.1,222.8L445.3,222.0L446.9,221.3L448.9,220.7L452.2,219.8L474.3,215.4L478.3,214.6L482.4,213.2L486.4,210.8L490.4,207.1L494.5,202.4L498.5,198.1L502.5,196.0L506.5,195.2L510.6,194.9L603.2,194.9L603.2,194.9L442.1,194.9Z" stroke="rgb(187,202,244)" stroke-width="1.0" fill="rgb(187,202,244)"/>
<path d="M442.1,194.9L442.5,209.0L442.9,218.2L443.3,221.6L443.7,222.1L444.1,222.2L445.3,221.4L446.1,221.0L450.2,219.7L454.2,218.8L474.3,214.8L478.3,213.9L482.4,212.3L486.4,209.5L490.4,205.3L494.5,200.5L498.5,196.9L502.5,195.6L506.5,195.0L510.6,194.9L603.2,194.9L603.2,194.9L442.1,194.9Z" stroke="rgb(191,204,245)" stroke-width="1.0" fill="rgb(191,204,245)"/>
<path d="M442.1,194.9L442.5,209.0L442.9,218.0L443.3,221.1L443.7,221.5L444.1,221.6L444.9,221.0L446.1,220.4L450.2,219.1L454.2,218.2L470.3,215.0L474.3,214.2L478.3,213.1L482.4,211.2L486.4,208.0L494.5,198.8L498.5,196.2L502.5,195.3L506.5,194.9L603.2,194.9L603.2,194.9L442.1,194.9Z" stroke="rgb(194,207,245)" stroke-width="1.0" fill="rgb(194,207,245)"/>
<path d="M442.1,194.9L442.5,209.0L442.9,217.7L443.3,220.6L443.7,220.9L444.1,220.9L444.9,220.3L446.1,219.7L450.2,218.4L454.2,217.5L466.3,215.2L474.3,213.5L478.3,212.3L482.4,210.0L486.4,206.3L490.4,201.5L494.5,197.3L498.5,195.7L502.5,195.0L603.2,194.9L603.2,194.9L442.1,194.9Z" stroke="rgb(197,209,246)" stroke-width="1.0" fill="rgb(197,209,246)"/>
<path d="M442.1,194.9L442.7,214.6L442.9,217.4L443.3,220.0L443.7,220.3L444.1,220.2L444.9,219.6L446.1,219.1L450.2,217.8L454.2,216.9L466.3,214.5L474.3,212.8L478.3,211.3L482.4,208.6L486.4,204.3L490.4,199.5L494.5,196.4L498.5,195.3L502.5,194.9L603.2,194.9L603.2,194.9L442.1,194.9Z" stroke="rgb(200,212,246)" stroke-width="1.0" fill="rgb(200,212,246)"/>
<path d="M442.1,194.9L442.7,214.5L442.9,217.1L443.3,219.4L443.7,219.6L444.1,219.5L444.9,218.9L446.1,218.4L448.9,217.4L452.2,216.6L466.3,213.8L474.3,212.0L478.3,210.2L482.4,206.9L490.4,197.8L494.5,195.8L498.5,195.0L603.2,194.9L603.2,194.9L442.1,194.9Z" stroke="rgb(203,214,247)" stroke-width="1.0" fill="rgb(203,214,247)"/>
<path d="M442.1,194.9L442.7,214.3L442.9,216.8L443.3,218.7L443.7,218.9L444.9,218.2L446.1,217.6L450.2,216.4L470.3,212.2L474.3,211.1L478.3,208.9L482.4,205.1L486.4,200.1L490.4,196.5L494.5,195.3L498.5,194.9L603.2,194.9L603.2,194.9L442.1,194.9Z" stroke="rgb(207,217,247)" stroke-width="1.0" fill="rgb(207,217,247)"/>
<path d="M442.1,194.9L442.7,214.1L442.9,216.4L443.3,218.0L443.7,218.2L445.3,217.2L448.9,216.0L452.2,215.2L470.3,211.4L474.3,210.1L478.3,207.3L482.4,202.9L486.4,198.1L490.4,195.8L494.5,195.0L603.2,194.9L603.2,194.9L442.1,194.9Z" stroke="rgb(210,219,248)" stroke-width="1.0" fill="rgb(210,219,248)"/>
<path d="M442.1,194.9L442.7,213.8L442.9,216.0L443.3,217.3L443.7,217.4L444.5,216.8L445.3,216.4L448.9,215.2L462.2,212.4L470.3,210.6L474.3,208.9L478.3,205.5L482.4,200.6L486.4,196.5L490.4,195.3L494.5,194.9L603.2,194.9L603.2,194.9L442.1,194.9Z" stroke="rgb(213,222,248)" stroke-width="1.0" fill="rgb(213,222,248)"/>
<path d="M442.1,194.9L442.7,213.4L442.9,215.5L443.3,216.5L443.7,216.6L444.5,216.0L445.3,215.6L448.9,214.4L466.3,210.7L470.3,209.7L474.3,207.4L478.3,203.3L482.4,198.3L486.4,195.7L490.4,195.0L603.2,194.9L603.2,194.9L442.1,194.9Z" stroke="rgb(216,224,249)" stroke-width="1.0" fill="rgb(216,224,249)"/>
<path d="M442.1,194.9L442.7,213.1L442.9,215.0L443.3,215.7L443.7,215.7L444.5,215.1L446.1,214.4L448.9,213.6L466.3,209.9L470.3,208.5L474.3,205.6L478.3,200.7L482.4,196.5L486.4,195.2L490.4,194.9L603.2,194.9L603.2,194.9L442.1,194.9Z" stroke="rgb(220,227,249)" stroke-width="1.0" fill="rgb(220,227,249)"/>
<path d="M442.1,194.9L442.5,209.2L442.7,212.7L442.9,214.4L443.3,214.9L443.7,214.8L444.1,214.4L445.3,213.8L448.9,212.7L466.3,208.9L470.3,207.1L474.3,203.3L478.3,198.2L482.4,195.6L486.4,194.9L603.2,194.9L603.2,194.9L442.1,194.9Z" stroke="rgb(223,230,250)" stroke-width="1.0" fill="rgb(223,230,250)"/>
<path d="M442.1,194.9L442.5,209.2L442.9,213.7L443.3,214.0L444.9,213.1L447.7,212.1L462.2,208.9L466.3,207.8L470.3,205.3L474.3,200.5L478.3,196.3L482.4,195.1L486.4,194.9L603.2,194.9L603.2,194.9L442.1,194.9Z" stroke="rgb(226,232,250)" stroke-width="1.0" fill="rgb(226,232,250)"/>
<path d="M442.1,194.9L442.5,209.1L442.7,211.7L442.9,212.8L443.3,213.0L444.5,212.2L446.9,211.3L462.2,207.9L466.3,206.4L470.3,202.9L474.3,197.7L478.3,195.4L482.4,194.9L603.2,194.9L603.2,194.9L442.1,194.9Z" stroke="rgb(229,235,251)" stroke-width="1.0" fill="rgb(229,235,251)"/>
<path d="M442.1,194.9L442.5,208.8L442.7,211.1L442.9,211.8L443.3,211.9L443.7,211.6L444.9,211.0L447.7,210.1L458.2,207.8L462.2,206.8L466.3,204.6L470.3,199.8L474.3,195.8L478.3,194.9L603.2,194.9L603.2,194.9L442.1,194.9Z" stroke="rgb(232,237,251)" stroke-width="1.0" fill="rgb(232,237,251)"/>
<path d="M442.1,194.9L442.5,208.3L442.7,210.4L442.9,210.7L443.3,210.7L443.7,210.4L444.9,209.8L446.9,209.1L458.2,206.6L462.2,205.4L466.3,201.9L470.3,196.8L474.3,195.1L478.3,194.9L603.2,194.9L603.2,194.9L442.1,194.9Z" stroke="rgb(236,240,252)" stroke-width="1.0" fill="rgb(236,240,252)"/>
<path d="M442.1,194.9L442.5,207.8L442.7,209.4L442.9,209.5L444.5,208.7L446.9,207.9L458.2,205.3L462.2,203.3L466.3,198.3L470.3,195.3L474.3,194.9L603.2,194.9L603.2,194.9L442.1,194.9Z" stroke="rgb(239,242,252)" stroke-width="1.0" fill="rgb(239,242,252)"/>
<path d="M442.1,194.9L442.5,207.1L442.7,208.1L442.9,208.2L444.1,207.4L446.1,206.7L456.2,204.4L458.2,203.7L462.2,199.9L466.3,195.6L470.3,194.9L603.2,194.9L603.2,194.9L442.1,194.9Z" stroke="rgb(242,245,253)" stroke-width="1.0" fill="rgb(242,245,253)"/>
<path d="M442.1,194.9L442.3,202.9L442.5,206.1L442.7,206.5L442.9,206.5L443.7,206.0L445.3,205.4L454.2,203.3L456.2,202.5L458.2,200.9L462.2,195.8L466.3,194.9L603.2,194.9L603.2,194.9L442.1,194.9Z" stroke="rgb(245,247,253)" stroke-width="1.0" fill="rgb(245,247,253)"/>
<path d="M442.1,194.9L442.3,202.6L442.5,204.5L442.7,204.6L443.3,204.2L444.5,203.7L452.2,201.8L454.2,200.9L456.2,198.7L458.2,196.0L462.2,194.9L603.2,194.9L603.2,194.9L442.1,194.9Z" stroke="rgb(249,250,254)" stroke-width="1.0" fill="rgb(249,250,254)"/>
<path d="M442.1,194.9L442.3,201.4L442.5,202.0L443.3,201.6L444.1,201.3L450.2,199.7L452.2,197.9L454.2,195.4L456.2,194.9L603.2,194.9L603.2,194.9L442.1,194.9Z" stroke="rgb(252,252,254)" stroke-width="1.0" fill="rgb(252,252,254)"/>
<path d="M442.1,194.9L603.2,194.9L603.2,194.9L442.1,194.9Z" stroke="rgb(255,255,255)" stroke-width="1.0" fill="rgb(255,255,255)"/>
<path d="M442.1,194.9L443.3,228.9L443.7,234.0L444.1,237.2L444.5,238.7L445.3,239.3L446.1,239.2L447.7,238.2L450.2,237.2L454.2,236.0L458.2,235.0L466.3,233.4L490.4,229.4L502.5,227.2L510.6,225.5L514.6,224.2L518.6,222.4L522.7,220.1L526.7,217.0L530.7,213.3L538.8,204.9L542.8,201.1L546.8,198.3L550.8,196.9L554.9,196.0L558.9,195.4L562.9,194.9L603.2,194.9" stroke="rgb(65,105,225)" stroke-width="1.4" fill="none"/>
<path d="M88.9,360.7L89.4,370.1L89.9,375.3L90.3,377.3L90.8,378.0L91.3,378.3" stroke="rgb(255,255,255)" stroke-width="1.0" fill="none"/>
<path d="M88.9,360.7L89.4,370.0L89.9,375.3L90.3,377.3L90.8,378.0L91.3,378.3" stroke="rgb(255,253,251)" stroke-width="1.0" fill="none"/>
<path d="M88.9,360.7L89.4,370.0L89.9,375.2L90.3,377.3L90.8,378.0L91.3,378.3" stroke="rgb(255,251,248)" stroke-width="1.0" fill="none"/>
<path d="M88.9,360.7L89.4,369.9L89.9,375.2L90.3,377.3L90.8,378.0L91.3,378.3" stroke="rgb(255,249,244)" stroke-width="1.0" fill="none"/>
<path d="M88.9,360.7L89.4,369.8L89.9,375.1L90.3,377.3L90.8,378.0L91.3,378.2" stroke="rgb(255,248,240)" stroke-width="1.0" fill="none"/>
<path d="M88.9,360.7L89.4,369.7L89.9,375.0L90.3,377.2L90.8,378.0L91.3,378.2" stroke="rgb(254,246,237)" stroke-width="1.0" fill="none"/>
<path d="M88.9,360.7L89.4,369.5L89.9,374.9L90.3,377.2L90.8,378.0L91.3,378.2" stroke="rgb(254,244,233)" stroke-width="1.0" fill="none"/>
<path d="M88.9,360.7L89.4,369.3L89.9,374.7L90.3,377.1L90.8,377.9L91.3,378.2" stroke="rgb(254,242,229)" stroke-width="1.0" fill="none"/>
<path d="M88.9,360.7L89.4,369.1L89.9,374.5L90.3,377.0L90.8,377.9L91.3,378.2" stroke="rgb(254,240,226)" stroke-width="1.0" fill="none"/>
<path d="M88.9,360.7L89.4,368.7L89.9,374.3L90.1,375.9L90.6,377.5L91.1,378.1L91.5,378.3" stroke="rgb(254,238,222)" stroke-width="1.0" fill="none"/>
<path d="M88.9,360.7L89.6,371.5L90.1,375.6L90.6,377.4L91.1,378.0L91.5,378.2" stroke="rgb(254,236,219)" stroke-width="1.0" fill="none"/>
<path d="M88.9,360.7L89.6,370.9L90.1,375.2L90.6,377.2L91.1,378.0L91.5,378.2" stroke="rgb(254,234,215)" stroke-width="1.0" fill="none"/>
<path d="M88.9,360.7L89.6,370.2L90.1,374.7L90.3,376.0L90.8,377.5L91.3,378.1L91.8,378.3" stroke="rgb(254,233,211)" stroke-width="1.0" fill="none"/>
<path d="M88.9,360.7L89.9,371.8L90.3,375.5L90.8,377.2L91.3,377.9L91.8,378.2" stroke="rgb(253,231,208)" stroke-width="1.0" fill="none"/>
<path d="M88.9,360.7L90.3,374.6L90.6,375.9L91.1,377.4L91.5,378.0L92.0,378.2" stroke="rgb(253,229,204)" stroke-width="1.0" fill="none"/>
<path d="M88.9,360.7L90.6,374.9L90.8,376.0L91.3,377.4L91.8,378.0L92.3,378.2" stroke="rgb(253,227,200)" stroke-width="1.0" fill="none"/>
<path d="M88.9,360.7L89.6,365.4L90.6,373.3L91.1,375.9L91.3,376.7L91.8,377.7L92.3,378.1L92.7,378.2" stroke="rgb(253,225,197)" stroke-width="1.0" fill="none"/>
<path d="M88.9,360.7L89.6,364.1L90.8,372.8L91.3,375.4L92.0,377.4L92.5,377.9L93.2,378.2" stroke="rgb(253,223,193)" stroke-width="1.0" fill="none"/>
<path d="M88.9,360.7L90.1,365.5L91.3,373.1L91.8,375.5L92.5,377.4L93.0,377.9L93.7,378.2" stroke="rgb(253,221,189)" stroke-width="1.0" fill="none"/>
<path d="M88.9,360.7L90.3,365.0L92.0,374.0L92.5,375.9L93.2,377.4L93.7,377.9L94.4,378.2" stroke="rgb(253,220,186)" stroke-width="1.0" fill="none"/>
<path d="M88.9,360.7L90.3,363.9L91.1,366.0L92.7,374.0L93.2,375.7L93.7,376.9L94.2,377.6L94.7,377.9L95.4,378.2" stroke="rgb(253,218,182)" stroke-width="1.0" fill="none"/>
<path d="M88.9,360.7L89.6,362.1L91.1,364.5L91.8,366.2L93.7,374.1L94.4,376.2L94.9,377.1L95.4,377.6L96.1,378.1L96.8,378.2" stroke="rgb(253,216,178)" stroke-width="1.0" fill="none"/>
<path d="M88.9,360.7L89.9,362.4L91.8,364.7L92.5,365.9L93.5,368.6L94.9,374.0L95.9,376.5L96.8,377.6L97.5,378.0L98.3,378.2" stroke="rgb(252,214,175)" stroke-width="1.0" fill="none"/>
<path d="M88.9,360.7L89.4,361.6L90.1,362.6L92.7,364.8L93.7,366.1L94.7,368.3L96.6,374.4L97.5,376.5L98.0,377.1L98.7,377.7L99.5,378.0L100.4,378.2" stroke="rgb(252,212,171)" stroke-width="1.0" fill="none"/>
<path d="M88.9,360.7L89.6,362.0L90.6,363.1L91.5,363.7L93.9,364.9L95.1,366.1L96.3,368.4L98.7,374.8L99.7,376.5L100.4,377.3L101.1,377.7L102.1,378.1L103.1,378.2" stroke="rgb(252,210,168)" stroke-width="1.0" fill="none"/>
<path d="M88.9,360.7L89.6,362.0L90.3,362.8L91.1,363.2L92.0,363.4L92.7,363.3L93.5,363.0L96.3,361.3L98.3,360.8" stroke="rgb(252,208,164)" stroke-width="1.0" fill="none"/>
<path d="M88.9,360.7L89.4,361.6L90.1,362.5L90.8,363.1L91.8,363.3L93.0,363.1L95.9,361.2L97.5,360.8" stroke="rgb(252,207,160)" stroke-width="1.0" fill="none"/>
<path d="M88.9,360.7L89.4,361.6L90.1,362.5L90.8,363.0L91.5,363.2L92.0,363.2L92.7,362.9L95.4,361.2L96.8,360.8" stroke="rgb(252,205,157)" stroke-width="1.0" fill="none"/>
<path d="M88.9,360.7L89.4,361.6L90.1,362.5L90.8,363.0L91.5,363.1L92.5,362.8L94.9,361.2L96.3,360.8" stroke="rgb(252,203,153)" stroke-width="1.0" fill="none"/>
<path d="M88.9,360.7L89.4,361.6L90.1,362.5L90.6,362.9L91.3,363.0L92.3,362.7L94.4,361.2L95.9,360.8" stroke="rgb(252,201,149)" stroke-width="1.0" fill="none"/>
<path d="M88.9,360.7L89.9,362.2L90.3,362.7L91.1,362.9L91.5,362.9L92.0,362.7L93.9,361.3L95.4,360.8" stroke="rgb(251,199,146)" stroke-width="1.0" fill="none"/>
<path d="M88.9,360.7L89.9,362.2L90.3,362.6L91.1,362.8L91.8,362.6L93.7,361.2L94.9,360.8" stroke="rgb(251,197,142)" stroke-width="1.0" fill="none"/>
<path d="M88.9,360.7L89.9,362.2L90.3,362.6L90.8,362.7L91.5,362.5L93.5,361.1L94.7,360.8" stroke="rgb(251,195,138)" stroke-width="1.0" fill="none"/>
<path d="M88.9,360.7L89.9,362.2L90.3,362.5L90.8,362.6L91.5,362.3L93.0,361.2L94.2,360.8" stroke="rgb(251,193,135)" stroke-width="1.0" fill="none"/>
<path d="M88.9,360.7L89.6,361.9L90.1,362.4L90.6,362.5L91.3,362.3L92.7,361.2L93.9,360.8" stroke="rgb(251,192,131)" stroke-width="1.0" fill="none"/>
<path d="M88.9,360.7L89.6,361.9L90.1,362.3L90.6,362.4L91.1,362.3L92.5,361.2L93.5,360.8" stroke="rgb(251,190,127)" stroke-width="1.0" fill="none"/>
<path d="M88.9,360.7L89.6,361.9L90.3,362.3L90.8,362.2L92.3,361.2L93.2,360.8" stroke="rgb(251,188,124)" stroke-width="1.0" fill="none"/>
<path d="M88.9,360.7L89.6,361.9L89.9,362.1L90.3,362.2L90.8,362.1L92.0,361.2L93.0,360.8" stroke="rgb(251,186,120)" stroke-width="1.0" fill="none"/>
<path d="M88.9,360.7L89.6,361.8L90.1,362.1L90.6,362.1L91.8,361.2L92.7,360.8" stroke="rgb(250,184,117)" stroke-width="1.0" fill="none"/>
<path d="M88.9,360.7L89.6,361.8L90.1,362.1L90.6,361.9L91.8,361.1L92.5,360.8" stroke="rgb(250,182,113)" stroke-width="1.0" fill="none"/>
<path d="M88.9,360.7L89.6,361.8L90.1,362.0L90.6,361.8L91.5,361.1L92.3,360.8" stroke="rgb(250,180,109)" stroke-width="1.0" fill="none"/>
<path d="M88.9,360.7L89.6,361.8L90.1,361.9L91.5,361.0L92.3,360.8" stroke="rgb(250,179,106)" stroke-width="1.0" fill="none"/>
<path d="M88.9,360.7L89.4,361.5L89.9,361.8L90.3,361.7L91.3,361.0L92.0,360.8" stroke="rgb(250,177,102)" stroke-width="1.0" fill="none"/>
<path d="M88.9,360.7L89.4,361.5L89.9,361.8L91.8,360.8" stroke="rgb(250,175,98)" stroke-width="1.0" fill="none"/>
<path d="M88.9,360.7L89.4,361.5L89.9,361.7L91.1,361.0L91.8,360.8" stroke="rgb(250,173,95)" stroke-width="1.0" fill="none"/>
<path d="M88.9,360.7L89.4,361.5L89.9,361.6L91.5,360.8" stroke="rgb(250,171,91)" stroke-width="1.0" fill="none"/>
<path d="M88.9,360.7L89.4,361.4L89.6,361.6L89.9,361.6L90.8,361.0L91.5,360.8" stroke="rgb(250,169,87)" stroke-width="1.0" fill="none"/>
<path d="M88.9,360.7L89.1,361.1L89.6,361.5L91.3,360.8" stroke="rgb(249,167,84)" stroke-width="1.0" fill="none"/>
<path d="M88.9,360.7L89.1,361.1L89.6,361.5L91.3,360.8" stroke="rgb(249,166,80)" stroke-width="1.0" fill="none"/>
<path d="M88.9,360.7L89.1,361.1L89.6,361.5L91.1,360.8" stroke="rgb(249,164,76)" stroke-width="1.0" fill="none"/>
<path d="M88.9,360.7L89.1,361.1L89.6,361.4L91.1,360.8" stroke="rgb(249,162,73)" stroke-width="1.0" fill="none"/>
<path d="M88.9,360.7L89.1,361.1L89.6,361.4L91.1,360.8" stroke="rgb(249,160,69)" stroke-width="1.0" fill="none"/>
<path d="M88.9,360.7L89.1,361.1L89.4,361.3L89.6,361.4L90.8,360.8" stroke="rgb(249,158,66)" stroke-width="1.0" fill="none"/>
<path d="M88.9,360.7L89.1,361.1L89.4,361.3L89.6,361.3L90.8,360.8" stroke="rgb(249,156,62)" stroke-width="1.0" fill="none"/>
<path d="M88.9,360.7L89.4,361.3L89.6,361.3L90.8,360.8" stroke="rgb(249,154,58)" stroke-width="1.0" fill="none"/>
<path d="M88.9,360.7L89.4,361.3L90.8,360.8" stroke="rgb(248,152,55)" stroke-width="1.0" fill="none"/>
<path d="M88.9,360.7L89.4,361.3L90.6,360.8" stroke="rgb(248,151,51)" stroke-width="1.0" fill="none"/>
<path d="M88.9,360.7L89.4,361.2L90.6,360.8" stroke="rgb(248,149,47)" stroke-width="1.0" fill="none"/>
<path d="M88.9,360.7L89.1,361.1L89.4,361.2L90.6,360.8" stroke="rgb(248,147,44)" stroke-width="1.0" fill="none"/>
<path d="M88.9,360.7L89.1,361.1L89.4,361.2L90.6,360.8" stroke="rgb(248,145,40)" stroke-width="1.0" fill="none"/>
<path d="M91.3,378.36L248.8,378.36" stroke="rgb(252,210,168)" stroke-width="1.3" fill="none"/>
<path d="M90.6,360.66L248.8,360.66" stroke="rgb(248,145,40)" stroke-width="1.3" fill="none"/>
<path d="M266.7,376.4L266.9,361.4L267.2,354.2L267.7,349.0L268.1,347.6L269.1,346.7L272.0,345.1L273.9,344.5L275.3,344.3L276.3,344.5L277.2,344.8L280.3,346.6L282.0,347.3L284.1,347.9L286.3,348.1" stroke="rgb(255,255,255)" stroke-width="1.0" fill="none"/>
<path d="M266.7,376.4L266.9,361.1L267.2,353.7L267.4,350.1L267.7,348.4L268.1,346.9L269.1,346.1L271.7,344.7L273.6,344.1L275.1,344.0L276.0,344.1L277.0,344.5L280.3,346.5L282.0,347.3L284.1,347.8L286.3,348.1" stroke="rgb(255,253,251)" stroke-width="1.0" fill="none"/>
<path d="M266.7,376.4L266.9,360.7L267.2,353.2L267.4,349.5L267.7,347.7L268.1,346.3L269.1,345.5L271.7,344.2L273.6,343.6L275.1,343.6L276.0,343.8L277.0,344.2L280.1,346.3L281.7,347.2L283.4,347.7L286.3,348.1" stroke="rgb(255,251,248)" stroke-width="1.0" fill="none"/>
<path d="M266.7,376.4L266.9,360.3L267.2,352.7L267.4,349.0L267.7,347.1L268.1,345.7L268.6,345.1L269.1,344.8L271.5,343.7L273.4,343.2L274.8,343.1L275.8,343.4L276.7,343.8L280.1,346.2L281.7,347.1L283.4,347.7L286.3,348.1" stroke="rgb(255,249,244)" stroke-width="1.0" fill="none"/>
<path d="M266.7,376.4L266.9,360.0L267.2,352.1L267.4,348.4L267.7,346.5L268.1,345.0L268.6,344.5L269.1,344.2L271.5,343.2L273.4,342.7L274.8,342.7L275.8,343.0L276.7,343.5L280.1,346.1L281.7,347.1L283.4,347.6L286.3,348.0" stroke="rgb(255,248,240)" stroke-width="1.0" fill="none"/>
<path d="M266.7,376.4L266.9,359.6L267.2,351.6L267.4,347.8L267.7,345.9L268.1,344.4L268.6,343.9L269.1,343.6L271.5,342.7L273.4,342.3L274.8,342.3L275.8,342.7L276.7,343.2L279.8,345.8L281.5,346.9L283.4,347.6L286.3,348.0" stroke="rgb(254,246,237)" stroke-width="1.0" fill="none"/>
<path d="M266.7,376.4L266.9,359.3L267.2,351.1L267.4,347.2L267.7,345.3L268.1,343.8L268.6,343.3L269.1,343.0L271.2,342.2L273.1,341.8L274.6,341.9L275.5,342.2L276.5,342.7L279.8,345.7L281.5,346.9L283.4,347.6L286.3,348.0" stroke="rgb(254,244,233)" stroke-width="1.0" fill="none"/>
<path d="M266.7,376.4L266.9,358.9L267.2,350.6L267.4,346.6L267.7,344.6L268.1,343.1L268.6,342.6L269.1,342.4L271.2,341.6L273.1,341.3L274.6,341.5L275.5,341.8L276.5,342.4L279.8,345.6L281.5,346.8L283.4,347.6L286.3,348.0" stroke="rgb(254,242,229)" stroke-width="1.0" fill="none"/>
<path d="M266.7,376.4L266.9,358.5L267.2,350.1L267.4,346.0L267.7,344.0L268.1,342.5L268.6,342.0L269.1,341.8L271.5,341.0L273.1,340.8L274.6,341.1L275.5,341.5L276.5,342.1L279.8,345.5L281.7,346.9L282.7,347.3L284.1,347.7L287.0,348.1" stroke="rgb(254,240,226)" stroke-width="1.0" fill="none"/>
<path d="M266.7,376.4L266.9,358.2L267.2,349.5L267.4,345.4L267.7,343.4L268.1,341.9L268.6,341.4L269.1,341.2L271.5,340.5L273.1,340.4L274.6,340.6L275.5,341.1L276.5,341.8L279.8,345.4L281.5,346.7L282.7,347.3L284.1,347.7L287.0,348.1" stroke="rgb(254,238,222)" stroke-width="1.0" fill="none"/>
<path d="M266.7,376.4L266.9,357.8L267.2,349.0L267.4,344.8L267.7,342.8L268.1,341.2L268.6,340.8L269.1,340.5L271.2,340.0L272.9,339.9L274.3,340.1L275.3,340.6L276.3,341.3L279.8,345.2L281.5,346.6L282.7,347.3L284.1,347.7L287.0,348.1" stroke="rgb(254,236,219)" stroke-width="1.0" fill="none"/>
<path d="M266.7,376.4L266.9,357.5L267.2,348.5L267.4,344.2L267.7,342.1L268.1,340.6L268.6,340.1L269.1,339.9L271.2,339.4L272.9,339.4L274.3,339.7L275.3,340.2L276.3,340.9L279.8,345.1L281.5,346.6L282.7,347.2L284.1,347.7L287.0,348.1" stroke="rgb(254,234,215)" stroke-width="1.0" fill="none"/>
<path d="M266.7,376.4L266.9,357.1L267.2,348.0L267.4,343.6L267.7,341.5L268.1,340.0L268.6,339.5L269.1,339.3L271.2,338.9L272.9,338.9L274.3,339.2L275.3,339.8L276.3,340.6L279.8,345.0L281.5,346.5L282.7,347.2L284.1,347.7L287.0,348.1" stroke="rgb(254,233,211)" stroke-width="1.0" fill="none"/>
<path d="M266.7,376.4L266.9,356.8L267.2,347.5L267.4,343.0L267.7,340.9L268.1,339.3L268.6,338.9L269.1,338.7L271.2,338.3L272.9,338.4L274.3,338.8L275.3,339.4L276.3,340.2L279.8,344.8L281.5,346.4L282.7,347.1L284.1,347.6L287.0,348.1" stroke="rgb(253,231,208)" stroke-width="1.0" fill="none"/>
<path d="M266.7,376.4L266.9,356.4L267.2,346.9L267.4,342.4L267.7,340.3L268.1,338.7L268.6,338.2L269.1,338.1L271.2,337.8L272.9,337.8L274.3,338.3L275.3,338.9L276.3,339.8L279.8,344.6L281.5,346.3L282.7,347.1L284.1,347.6L287.0,348.0" stroke="rgb(253,229,204)" stroke-width="1.0" fill="none"/>
<path d="M266.7,376.4L266.9,356.0L267.2,346.4L267.4,341.8L267.7,339.6L268.1,338.0L268.6,337.6L269.1,337.5L271.2,337.2L272.9,337.3L274.3,337.8L275.5,338.6L276.5,339.6L280.1,344.6L281.7,346.3L282.7,347.0L284.1,347.6L287.0,348.0" stroke="rgb(253,227,200)" stroke-width="1.0" fill="none"/>
<path d="M266.7,376.4L266.9,355.7L267.2,345.9L267.4,341.2L267.7,339.0L268.1,337.4L268.4,337.1L268.8,336.9L271.2,336.6L273.1,336.8L274.6,337.3L275.5,338.0L276.5,339.0L280.1,344.2L281.0,345.4L282.0,346.3L282.7,346.8L284.1,347.5L285.6,347.8L287.7,348.1" stroke="rgb(253,225,197)" stroke-width="1.0" fill="none"/>
<path d="M266.7,376.4L266.9,355.3L267.2,345.4L267.4,340.6L267.7,338.4L268.1,336.8L268.6,336.3L269.1,336.2L271.5,336.0L273.4,336.2L274.8,336.8L276.0,337.7L277.0,338.8L280.6,344.3L282.2,346.2L283.4,347.0L284.8,347.6L287.7,348.0" stroke="rgb(253,223,193)" stroke-width="1.0" fill="none"/>
<path d="M266.7,376.4L266.9,355.0L267.2,344.8L267.4,340.0L267.7,337.8L268.1,336.1L268.6,335.7L269.1,335.6L272.0,335.4L273.9,335.7L275.3,336.3L276.5,337.3L277.4,338.4L281.0,344.1L282.7,346.0L283.4,346.6L284.8,347.4L286.3,347.8L288.4,348.0" stroke="rgb(253,221,189)" stroke-width="1.0" fill="none"/>
<path d="M266.7,376.4L266.9,354.6L267.2,344.3L267.4,339.4L267.7,337.1L268.1,335.5L268.6,335.1L269.1,334.9L272.2,334.8L274.1,335.0L275.8,335.6L277.0,336.4L278.2,337.8L281.7,343.7L283.4,345.8L284.8,346.9L286.3,347.5L287.7,347.9L289.9,348.1" stroke="rgb(253,220,186)" stroke-width="1.0" fill="none"/>
<path d="M266.7,376.4L266.9,354.3L267.2,343.8L267.4,338.8L267.7,336.5L267.9,335.4L268.1,334.8L268.6,334.4L269.1,334.3L273.1,334.1L275.5,334.4L277.2,335.1L278.4,336.0L279.6,337.4L283.4,343.9L284.8,345.8L286.3,346.9L287.7,347.5L289.1,347.9L291.3,348.1" stroke="rgb(253,218,182)" stroke-width="1.0" fill="none"/>
<path d="M266.7,376.4L266.9,353.9L267.2,343.3L267.4,338.3L267.7,335.9L267.9,334.7L268.4,333.9L268.8,333.7L269.8,333.6L275.3,333.5L277.7,333.8L279.4,334.5L280.6,335.4L281.7,336.8L282.7,338.3L285.6,343.5L286.3,344.6L287.7,346.2L288.4,346.7L289.9,347.4L291.3,347.8L293.4,348.1" stroke="rgb(253,216,178)" stroke-width="1.0" fill="none"/>
<path d="M266.7,376.4L266.9,353.5L267.2,342.8L267.4,337.7L267.7,335.2L267.9,334.1L268.4,333.3L268.8,333.1L269.8,333.0L278.2,332.8L280.8,333.1L282.7,333.7L284.1,334.8L285.6,336.5L289.1,343.1L290.6,345.2L291.3,346.0L292.0,346.6L293.4,347.4L294.9,347.8L297.0,348.0" stroke="rgb(252,214,175)" stroke-width="1.0" fill="none"/>
<path d="M266.7,376.4L266.9,353.2L267.2,342.2L267.4,337.1L267.7,334.6L267.9,333.5L268.4,332.6L268.8,332.5L269.8,332.4L283.4,332.3L286.3,332.5L288.4,333.2L289.9,334.1L291.3,335.6L292.7,338.0L295.6,343.5L296.3,344.6L297.7,346.2L298.5,346.8L299.9,347.5L301.3,347.8L303.5,348.1" stroke="rgb(252,212,171)" stroke-width="1.0" fill="none"/>
<path d="M266.7,376.4L266.9,352.9L267.2,341.9L267.4,336.6L267.7,334.2L267.9,333.0L268.1,332.5L268.6,332.1L272.7,331.8L274.6,331.5L276.0,330.9L279.6,329.1L281.0,328.6L282.5,328.4" stroke="rgb(252,210,168)" stroke-width="1.0" fill="none"/>
<path d="M266.7,376.4L266.9,352.9L267.2,341.8L267.4,336.5L267.7,334.1L267.9,332.9L268.1,332.3L268.6,331.9L272.2,331.3L273.6,330.8L277.0,329.0L278.4,328.6L279.8,328.4" stroke="rgb(252,208,164)" stroke-width="1.0" fill="none"/>
<path d="M266.7,376.4L266.9,352.8L267.2,341.7L267.4,336.4L267.7,333.9L267.9,332.7L268.1,332.2L268.6,331.7L271.2,330.9L275.1,329.0L276.3,328.7L277.9,328.4" stroke="rgb(252,207,160)" stroke-width="1.0" fill="none"/>
<path d="M266.7,376.4L266.9,352.8L267.2,341.6L267.4,336.3L267.7,333.8L267.9,332.5L268.1,331.9L268.6,331.4L272.7,329.4L274.3,328.8L276.3,328.4" stroke="rgb(252,205,157)" stroke-width="1.0" fill="none"/>
<path d="M266.7,376.4L266.9,352.7L267.2,341.5L267.4,336.1L267.7,333.6L268.1,331.7L268.8,330.9L271.2,329.6L272.4,329.0L273.6,328.7L275.3,328.4" stroke="rgb(252,203,153)" stroke-width="1.0" fill="none"/>
<path d="M266.7,376.4L266.9,352.6L267.2,341.3L267.4,336.0L267.7,333.3L268.1,331.4L268.8,330.5L270.3,329.7L271.7,329.0L272.9,328.7L274.6,328.4" stroke="rgb(252,201,149)" stroke-width="1.0" fill="none"/>
<path d="M266.7,376.4L266.9,352.5L267.2,341.2L267.4,335.8L267.7,333.1L268.1,331.1L268.8,330.2L270.0,329.5L271.2,329.0L272.4,328.6L273.9,328.4" stroke="rgb(251,199,146)" stroke-width="1.0" fill="none"/>
<path d="M266.7,376.4L266.9,352.5L267.2,341.1L267.4,335.6L267.7,333.0L268.1,330.9L268.8,330.0L269.8,329.4L271.0,328.9L273.6,328.4" stroke="rgb(251,197,142)" stroke-width="1.0" fill="none"/>
<path d="M266.7,376.4L266.9,352.4L267.2,341.0L267.4,335.5L267.7,332.8L268.1,330.7L268.8,329.8L269.8,329.3L270.8,328.9L273.1,328.4" stroke="rgb(251,195,138)" stroke-width="1.0" fill="none"/>
<path d="M266.7,376.4L266.9,352.4L267.2,340.9L267.4,335.4L267.7,332.7L268.1,330.6L268.8,329.7L270.5,328.9L272.9,328.4" stroke="rgb(251,193,135)" stroke-width="1.0" fill="none"/>
<path d="M266.7,376.4L266.9,352.3L267.2,340.8L267.4,335.3L267.7,332.6L268.1,330.5L268.8,329.6L270.5,328.8L272.9,328.4" stroke="rgb(251,192,131)" stroke-width="1.0" fill="none"/>
<path d="M266.7,376.4L266.9,352.2L267.2,340.7L267.4,335.2L267.7,332.5L268.1,330.4L268.6,329.7L269.3,329.2L270.3,328.9L272.7,328.4" stroke="rgb(251,190,127)" stroke-width="1.0" fill="none"/>
<path d="M266.7,376.4L266.9,352.2L267.2,340.7L267.4,335.1L267.7,332.4L268.1,330.3L268.6,329.6L270.0,328.9L272.4,328.4" stroke="rgb(251,188,124)" stroke-width="1.0" fill="none"/>
<path d="M266.7,376.4L266.9,352.1L267.2,340.6L267.4,335.0L267.7,332.3L268.1,330.2L268.6,329.6L270.0,328.9L272.4,328.4" stroke="rgb(251,186,120)" stroke-width="1.0" fill="none"/>
<path d="M266.7,376.4L266.9,352.1L267.2,340.5L267.4,334.9L267.7,332.2L268.1,330.2L268.6,329.5L270.0,328.8L272.4,328.4" stroke="rgb(250,184,117)" stroke-width="1.0" fill="none"/>
<path d="M266.7,376.4L266.9,352.0L267.2,340.4L267.4,334.9L267.7,332.2L268.1,330.1L268.6,329.5L270.0,328.8L272.2,328.4" stroke="rgb(250,182,113)" stroke-width="1.0" fill="none"/>
<path d="M266.7,376.4L266.9,352.0L267.2,340.4L267.4,334.8L267.7,332.1L268.1,330.0L268.6,329.4L270.0,328.8L272.2,328.4" stroke="rgb(250,180,109)" stroke-width="1.0" fill="none"/>
<path d="M266.7,376.4L266.9,351.9L267.2,340.3L267.4,334.7L267.7,332.0L268.1,330.0L268.6,329.4L270.0,328.8L272.2,328.4" stroke="rgb(250,179,106)" stroke-width="1.0" fill="none"/>
<path d="M266.7,376.4L266.9,351.9L267.2,340.2L267.4,334.6L267.7,331.9L268.1,329.9L268.6,329.3L269.8,328.8L272.0,328.4" stroke="rgb(250,177,102)" stroke-width="1.0" fill="none"/>
<path d="M266.7,376.4L266.9,351.8L267.2,340.2L267.4,334.6L267.7,331.9L268.1,329.9L268.6,329.3L269.8,328.8L272.0,328.4" stroke="rgb(250,175,98)" stroke-width="1.0" fill="none"/>
<path d="M266.7,376.4L266.9,351.8L267.2,340.1L267.4,334.5L267.7,331.8L268.1,329.8L268.6,329.2L269.8,328.7L272.0,328.4" stroke="rgb(250,173,95)" stroke-width="1.0" fill="none"/>
<path d="M266.7,376.4L266.9,351.7L267.2,340.0L267.4,334.4L267.7,331.7L268.1,329.7L268.6,329.2L269.8,328.7L271.7,328.4" stroke="rgb(250,171,91)" stroke-width="1.0" fill="none"/>
<path d="M266.7,376.4L266.9,351.7L267.2,339.9L267.4,334.4L267.7,331.7L268.1,329.7L268.6,329.1L269.8,328.7L271.7,328.4" stroke="rgb(250,169,87)" stroke-width="1.0" fill="none"/>
<path d="M266.7,376.4L266.9,351.6L267.2,339.9L267.4,334.3L267.7,331.6L268.1,329.6L268.6,329.1L269.8,328.7L271.7,328.4" stroke="rgb(249,167,84)" stroke-width="1.0" fill="none"/>
<path d="M266.7,376.4L266.9,351.6L267.2,339.8L267.4,334.2L267.7,331.5L268.1,329.6L268.6,329.0L269.6,328.7L271.5,328.4" stroke="rgb(249,166,80)" stroke-width="1.0" fill="none"/>
<path d="M266.7,376.4L266.9,351.5L267.2,339.7L267.4,334.1L267.7,331.5L267.9,330.2L268.4,329.2L269.3,328.7L271.5,328.4" stroke="rgb(249,164,76)" stroke-width="1.0" fill="none"/>
<path d="M266.7,376.4L266.9,351.5L267.2,339.7L267.4,334.1L267.7,331.4L267.9,330.1L268.4,329.1L269.3,328.7L271.2,328.4" stroke="rgb(249,162,73)" stroke-width="1.0" fill="none"/>
<path d="M266.7,376.4L266.9,351.4L267.2,339.6L267.4,334.0L267.7,331.3L267.9,330.0L268.4,329.1L269.1,328.7L271.2,328.4" stroke="rgb(249,160,69)" stroke-width="1.0" fill="none"/>
<path d="M266.7,376.4L266.9,351.4L267.2,339.5L267.4,333.9L267.7,331.3L267.9,330.0L268.4,329.0L269.1,328.7L271.0,328.4" stroke="rgb(249,158,66)" stroke-width="1.0" fill="none"/>
<path d="M266.7,376.4L266.9,351.3L267.2,339.5L267.4,333.9L267.7,331.2L267.9,329.9L268.4,329.0L269.1,328.6L271.0,328.4" stroke="rgb(249,156,62)" stroke-width="1.0" fill="none"/>
<path d="M266.7,376.4L266.9,351.3L267.2,339.4L267.4,333.8L267.7,331.1L267.9,329.8L268.1,329.2L268.4,328.9L268.8,328.7L270.8,328.4" stroke="rgb(249,154,58)" stroke-width="1.0" fill="none"/>
<path d="M266.7,376.4L266.9,351.2L267.2,339.3L267.4,333.7L267.7,331.0L267.9,329.8L268.1,329.2L268.4,328.9L268.8,328.6L270.5,328.4" stroke="rgb(248,152,55)" stroke-width="1.0" fill="none"/>
<path d="M266.7,376.4L266.9,351.2L267.2,339.3L267.4,333.6L267.7,331.0L267.9,329.7L268.1,329.1L268.4,328.8L268.8,328.6L270.3,328.4" stroke="rgb(248,151,51)" stroke-width="1.0" fill="none"/>
<path d="M266.7,376.4L266.9,351.1L267.2,339.2L267.4,333.6L267.7,330.9L267.9,329.7L268.1,329.1L268.6,328.6L270.0,328.4" stroke="rgb(248,149,47)" stroke-width="1.0" fill="none"/>
<path d="M266.7,376.4L266.9,351.1L267.2,339.1L267.4,333.5L267.7,330.8L267.9,329.6L268.1,329.0L268.6,328.6L269.6,328.4" stroke="rgb(248,147,44)" stroke-width="1.0" fill="none"/>
<path d="M266.7,376.4L266.9,351.0L267.2,339.1L267.4,333.4L267.7,330.8L267.9,329.5L268.4,328.7L269.1,328.4" stroke="rgb(248,145,40)" stroke-width="1.0" fill="none"/>
<path d="M286.3,348.19L425.9,348.19" stroke="rgb(252,212,171)" stroke-width="1.3" fill="none"/>
<path d="M269.1,328.28L425.9,328.28" stroke="rgb(248,145,40)" stroke-width="1.3" fill="none"/>
<path d="M443.3,376.4L443.5,372.6L444.5,335.7L444.9,326.9L445.3,321.4L445.7,318.3L446.1,316.1L446.5,314.8L447.3,313.4L448.1,312.6L453.3,312.9L457.3,313.4L475.2,316.7L491.2,318.8L499.2,319.9L507.1,321.5L511.1,322.5L515.1,323.8L519.1,325.7L527.1,330.3L535.1,335.8L539.1,338.1L543.0,339.9L547.0,341.1L551.0,341.9L555.0,342.2L602.9,342.2L602.9,342.2L443.3,342.2Z" stroke="rgb(248,145,40)" stroke-width="1.0" fill="rgb(248,145,40)"/>
<path d="M443.3,376.4L443.5,372.5L444.5,335.5L444.9,326.8L445.3,321.4L445.7,318.4L446.1,316.2L446.5,315.0L447.3,313.5L448.1,312.8L453.3,313.1L457.3,313.6L475.2,317.0L491.2,319.0L499.2,320.2L507.1,321.8L511.1,322.9L515.1,324.3L519.1,326.2L527.1,330.9L535.1,336.5L539.1,338.6L543.0,340.3L547.0,341.4L551.0,342.1L555.0,342.2L602.9,342.2L602.9,342.2L443.3,342.2Z" stroke="rgb(248,147,44)" stroke-width="1.0" fill="rgb(248,147,44)"/>
<path d="M443.3,376.4L443.5,372.4L444.1,347.6L444.9,326.6L445.3,321.4L446.1,316.3L446.5,315.1L447.3,313.7L448.1,313.1L451.3,313.2L455.3,313.6L459.3,314.2L471.2,316.5L475.2,317.2L495.2,319.8L503.1,321.2L507.1,322.1L511.1,323.2L515.1,324.7L519.1,326.8L527.1,331.6L535.1,337.1L539.1,339.1L543.0,340.7L547.0,341.6L551.0,342.2L602.9,342.2L602.9,342.2L443.3,342.2Z" stroke="rgb(248,149,47)" stroke-width="1.0" fill="rgb(248,149,47)"/>
<path d="M443.3,376.4L443.5,372.3L444.1,347.4L444.9,326.5L445.3,321.4L446.1,316.4L446.5,315.3L447.3,313.9L448.1,313.3L453.3,313.6L457.3,314.1L471.2,316.8L475.2,317.4L491.2,319.5L499.2,320.7L507.1,322.4L511.1,323.6L515.1,325.2L519.1,327.4L523.1,329.7L527.1,332.3L531.1,335.1L535.1,337.7L539.1,339.5L543.0,341.0L547.0,341.8L551.0,342.2L602.9,342.2L602.9,342.2L443.3,342.2Z" stroke="rgb(248,151,51)" stroke-width="1.0" fill="rgb(248,151,51)"/>
<path d="M443.3,376.4L443.5,372.2L444.1,347.1L444.9,326.4L445.3,321.4L446.1,316.5L446.5,315.4L447.3,314.0L448.1,313.5L453.3,313.8L457.3,314.3L471.2,317.0L475.2,317.7L495.2,320.3L503.1,321.8L507.1,322.8L511.1,324.0L515.1,325.7L523.1,330.3L531.1,335.8L535.1,338.2L539.1,340.0L543.0,341.2L547.0,342.0L551.0,342.2L602.9,342.2L602.9,342.2L443.3,342.2Z" stroke="rgb(248,152,55)" stroke-width="1.0" fill="rgb(248,152,55)"/>
<path d="M443.3,376.4L443.5,372.1L444.1,346.9L444.9,326.3L445.3,321.4L446.1,316.6L446.5,315.6L447.3,314.2L448.1,313.8L451.3,313.9L455.3,314.3L459.3,314.9L471.2,317.3L475.2,317.9L495.2,320.6L503.1,322.1L507.1,323.1L511.1,324.4L515.1,326.3L523.1,330.9L531.1,336.5L535.1,338.7L539.1,340.4L543.0,341.5L547.0,342.1L602.9,342.2L602.9,342.2L443.3,342.2Z" stroke="rgb(249,154,58)" stroke-width="1.0" fill="rgb(249,154,58)"/>
<path d="M443.3,376.4L443.5,372.0L444.1,346.7L444.9,326.2L445.3,321.5L445.7,318.6L446.1,316.7L446.5,315.7L447.3,314.4L448.1,314.0L451.3,314.1L455.3,314.5L459.3,315.2L471.2,317.6L495.2,320.9L503.1,322.4L507.1,323.5L511.1,324.8L515.1,326.8L523.1,331.6L531.1,337.1L535.1,339.2L539.1,340.7L543.0,341.7L547.0,342.2L602.9,342.2L602.9,342.2L443.3,342.2Z" stroke="rgb(249,156,62)" stroke-width="1.0" fill="rgb(249,156,62)"/>
<path d="M443.3,376.4L444.1,346.5L444.9,326.1L445.3,321.5L445.7,318.6L446.1,316.8L446.5,315.9L447.3,314.6L448.1,314.2L451.3,314.4L455.3,314.8L459.3,315.5L471.2,317.8L495.2,321.1L503.1,322.8L507.1,323.8L511.1,325.3L515.1,327.4L523.1,332.3L527.1,335.2L531.1,337.7L535.1,339.7L539.1,341.0L543.0,341.9L547.0,342.2L602.9,342.2L602.9,342.2L443.3,342.2Z" stroke="rgb(249,158,66)" stroke-width="1.0" fill="rgb(249,158,66)"/>
<path d="M443.3,376.4L444.1,346.2L444.9,326.0L445.3,321.5L445.7,318.7L446.1,317.0L446.5,316.0L447.3,314.8L448.1,314.5L451.3,314.6L455.3,315.1L459.3,315.7L471.2,318.1L487.2,320.2L495.2,321.4L503.1,323.1L507.1,324.2L511.1,325.8L515.1,328.0L519.1,330.4L523.1,333.0L527.1,335.9L531.1,338.3L535.1,340.1L539.1,341.3L543.0,342.1L547.0,342.2L602.9,342.2L602.9,342.2L443.3,342.2Z" stroke="rgb(249,160,69)" stroke-width="1.0" fill="rgb(249,160,69)"/>
<path d="M443.3,376.4L444.1,346.0L444.9,325.9L445.3,321.5L445.7,318.8L446.1,317.1L446.5,316.2L447.3,315.0L448.1,314.7L451.3,314.9L455.3,315.3L459.3,316.0L471.2,318.4L487.2,320.5L495.2,321.7L499.2,322.5L503.1,323.4L507.1,324.6L511.1,326.4L519.1,331.0L527.1,336.6L531.1,338.8L535.1,340.5L539.1,341.6L543.0,342.2L602.9,342.2L602.9,342.2L443.3,342.2Z" stroke="rgb(249,162,73)" stroke-width="1.0" fill="rgb(249,162,73)"/>
<path d="M443.3,376.4L444.1,345.8L444.9,325.8L445.3,321.5L445.7,318.8L446.1,317.2L446.5,316.4L447.3,315.2L448.1,315.0L451.3,315.1L455.3,315.6L471.2,318.6L491.2,321.3L499.2,322.8L503.1,323.8L507.1,325.1L511.1,326.9L519.1,331.6L527.1,337.3L531.1,339.3L535.1,340.9L539.1,341.8L543.0,342.2L602.9,342.2L602.9,342.2L443.3,342.2Z" stroke="rgb(249,164,76)" stroke-width="1.0" fill="rgb(249,164,76)"/>
<path d="M443.3,376.4L444.1,345.6L444.9,325.7L445.3,321.5L445.7,318.9L446.1,317.4L446.5,316.5L447.3,315.4L448.1,315.2L450.1,315.3L455.3,315.9L471.2,318.9L491.2,321.6L499.2,323.1L503.1,324.2L507.1,325.5L511.1,327.5L519.1,332.4L523.1,335.3L527.1,337.9L531.1,339.8L535.1,341.2L539.1,342.0L543.0,342.2L602.9,342.2L602.9,342.2L443.3,342.2Z" stroke="rgb(249,166,80)" stroke-width="1.0" fill="rgb(249,166,80)"/>
<path d="M443.3,376.4L444.1,345.4L444.5,333.5L444.9,325.6L445.3,321.6L445.7,319.0L446.1,317.5L446.5,316.7L447.3,315.6L448.1,315.5L450.1,315.5L455.3,316.1L471.2,319.2L491.2,321.9L499.2,323.5L503.1,324.6L507.1,326.0L511.1,328.1L515.1,330.5L519.1,333.1L523.1,336.0L527.1,338.5L531.1,340.3L535.1,341.4L539.1,342.1L602.9,342.2L602.9,342.2L443.3,342.2Z" stroke="rgb(249,167,84)" stroke-width="1.0" fill="rgb(249,167,84)"/>
<path d="M443.3,376.4L444.1,345.1L444.5,333.3L444.9,325.5L445.3,321.6L445.7,319.1L446.1,317.7L446.5,316.9L447.3,315.8L448.1,315.7L450.1,315.8L455.3,316.4L471.2,319.5L491.2,322.2L499.2,323.8L503.1,325.0L507.1,326.5L511.1,328.7L515.1,331.1L523.1,336.8L527.1,339.0L531.1,340.7L535.1,341.7L539.1,342.2L602.9,342.2L602.9,342.2L443.3,342.2Z" stroke="rgb(250,169,87)" stroke-width="1.0" fill="rgb(250,169,87)"/>
<path d="M443.3,376.4L444.1,344.9L444.5,333.1L444.9,325.5L445.3,321.6L445.7,319.2L446.1,317.9L446.5,317.0L447.3,316.1L448.9,316.0L451.3,316.2L455.3,316.7L471.2,319.7L487.2,321.9L495.2,323.3L499.2,324.2L503.1,325.4L507.1,327.1L515.1,331.8L523.1,337.5L527.1,339.5L531.1,341.0L535.1,341.9L539.1,342.2L602.9,342.2L602.9,342.2L443.3,342.2Z" stroke="rgb(250,171,91)" stroke-width="1.0" fill="rgb(250,171,91)"/>
<path d="M443.3,376.4L444.1,344.7L444.5,333.0L444.9,325.4L445.3,321.7L445.7,319.3L446.1,318.0L446.5,317.2L447.3,316.3L451.3,316.4L455.3,317.0L467.2,319.3L471.2,320.0L483.2,321.6L491.2,322.8L495.2,323.6L499.2,324.6L503.1,325.8L507.1,327.7L515.1,332.6L519.1,335.5L523.1,338.1L527.1,340.0L531.1,341.3L535.1,342.1L602.9,342.2L602.9,342.2L443.3,342.2Z" stroke="rgb(250,173,95)" stroke-width="1.0" fill="rgb(250,173,95)"/>
<path d="M443.3,376.4L444.1,344.5L444.5,332.8L444.9,325.4L445.3,321.7L445.7,319.4L446.5,317.4L447.3,316.5L451.3,316.7L455.3,317.2L467.2,319.6L471.2,320.3L483.2,321.9L491.2,323.1L495.2,323.9L499.2,325.0L503.1,326.3L507.1,328.3L511.1,330.7L515.1,333.3L519.1,336.3L523.1,338.7L527.1,340.5L531.1,341.6L535.1,342.2L602.9,342.2L602.9,342.2L443.3,342.2Z" stroke="rgb(250,175,98)" stroke-width="1.0" fill="rgb(250,175,98)"/>
<path d="M443.3,376.4L444.1,344.3L444.5,332.6L444.9,325.4L445.3,321.8L445.7,319.5L446.5,317.6L447.3,316.8L450.1,316.9L453.3,317.2L457.3,317.9L467.2,319.9L471.2,320.6L487.2,322.8L495.2,324.3L499.2,325.4L503.1,326.8L507.1,329.0L511.1,331.4L519.1,337.1L523.1,339.3L527.1,340.9L531.1,341.9L535.1,342.2L602.9,342.2L602.9,342.2L443.3,342.2Z" stroke="rgb(250,177,102)" stroke-width="1.0" fill="rgb(250,177,102)"/>
<path d="M443.3,376.4L444.1,344.0L444.5,332.4L444.9,325.4L445.3,321.8L445.7,319.6L446.5,317.8L447.3,317.1L450.1,317.2L453.3,317.5L457.3,318.2L467.2,320.2L487.2,323.1L495.2,324.7L499.2,325.8L503.1,327.4L507.1,329.6L511.1,332.1L519.1,337.8L523.1,339.8L527.1,341.2L531.1,342.0L535.1,342.2L602.9,342.2L602.9,342.2L443.3,342.2Z" stroke="rgb(250,179,106)" stroke-width="1.0" fill="rgb(250,179,106)"/>
<path d="M443.3,376.4L444.1,343.8L444.5,332.2L444.9,325.4L445.3,321.9L445.7,319.8L446.5,318.0L447.3,317.3L450.1,317.5L453.3,317.8L457.3,318.5L467.2,320.5L487.2,323.4L491.2,324.1L495.2,325.0L499.2,326.2L503.1,328.0L507.1,330.3L511.1,332.9L515.1,335.8L519.1,338.5L523.1,340.3L527.1,341.5L531.1,342.2L602.9,342.2L602.9,342.2L443.3,342.2Z" stroke="rgb(250,180,109)" stroke-width="1.0" fill="rgb(250,180,109)"/>
<path d="M443.3,376.4L444.1,343.6L444.5,332.1L444.9,325.4L445.3,321.9L445.7,319.9L446.5,318.2L447.3,317.6L451.3,317.8L455.3,318.4L467.2,320.8L487.2,323.7L491.2,324.5L495.2,325.4L499.2,326.7L503.1,328.6L507.1,331.0L511.1,333.7L515.1,336.7L519.1,339.1L523.1,340.8L527.1,341.8L531.1,342.2L602.9,342.2L602.9,342.2L443.3,342.2Z" stroke="rgb(250,182,113)" stroke-width="1.0" fill="rgb(250,182,113)"/>
<path d="M443.3,376.4L444.1,343.4L444.5,331.9L444.9,325.4L445.3,322.0L445.7,320.1L446.5,318.4L447.3,317.9L451.3,318.1L455.3,318.7L467.2,321.1L483.2,323.4L487.2,324.0L491.2,324.8L495.2,325.8L499.2,327.2L503.1,329.3L507.1,331.8L515.1,337.5L519.1,339.6L523.1,341.2L527.1,342.0L531.1,342.2L602.9,342.2L602.9,342.2L443.3,342.2Z" stroke="rgb(250,184,117)" stroke-width="1.0" fill="rgb(250,184,117)"/>
<path d="M443.3,376.4L444.1,343.2L444.5,331.7L444.9,325.4L445.3,322.1L445.7,320.2L446.5,318.6L447.3,318.2L450.1,318.3L453.3,318.7L467.2,321.5L483.2,323.7L491.2,325.2L495.2,326.3L499.2,327.8L503.1,330.0L507.1,332.5L515.1,338.2L519.1,340.2L523.1,341.5L527.1,342.2L602.9,342.2L602.9,342.2L443.3,342.2Z" stroke="rgb(251,186,120)" stroke-width="1.0" fill="rgb(251,186,120)"/>
<path d="M443.3,376.4L444.1,343.0L444.5,331.6L444.9,325.4L445.3,322.1L445.7,320.4L446.5,318.8L447.3,318.5L450.1,318.6L453.3,319.0L467.2,321.8L483.2,324.0L491.2,325.6L495.2,326.7L499.2,328.4L503.1,330.7L507.1,333.3L511.1,336.3L515.1,338.9L519.1,340.7L523.1,341.8L527.1,342.2L602.9,342.2L602.9,342.2L443.3,342.2Z" stroke="rgb(251,188,124)" stroke-width="1.0" fill="rgb(251,188,124)"/>
<path d="M443.3,376.4L444.1,342.7L444.5,331.4L444.9,325.4L445.3,322.2L445.7,320.6L446.5,319.1L447.3,318.8L450.1,318.9L453.3,319.3L467.2,322.1L483.2,324.3L487.2,325.1L491.2,326.0L495.2,327.2L499.2,329.1L503.1,331.5L507.1,334.2L511.1,337.2L515.1,339.5L519.1,341.1L523.1,342.0L527.1,342.2L602.9,342.2L602.9,342.2L443.3,342.2Z" stroke="rgb(251,190,127)" stroke-width="1.0" fill="rgb(251,190,127)"/>
<path d="M443.3,376.4L444.1,342.5L444.5,331.3L444.9,325.4L445.3,322.3L445.7,320.8L446.5,319.3L447.3,319.1L450.1,319.2L453.3,319.7L467.2,322.4L483.2,324.7L487.2,325.5L491.2,326.4L495.2,327.7L499.2,329.8L503.1,332.2L511.1,338.0L515.1,340.1L519.1,341.5L523.1,342.2L602.9,342.2L602.9,342.2L443.3,342.2Z" stroke="rgb(251,192,131)" stroke-width="1.0" fill="rgb(251,192,131)"/>
<path d="M443.3,376.4L444.1,342.3L444.5,331.1L444.9,325.5L445.3,322.4L445.7,321.0L446.5,319.6L447.3,319.4L448.9,319.5L453.3,320.0L463.2,322.0L467.2,322.7L483.2,325.0L487.2,325.8L491.2,326.9L495.2,328.3L499.2,330.5L503.1,333.0L507.1,336.0L511.1,338.7L515.1,340.7L519.1,341.8L523.1,342.2L602.9,342.2L602.9,342.2L443.3,342.2Z" stroke="rgb(251,193,135)" stroke-width="1.0" fill="rgb(251,193,135)"/>
<path d="M443.3,376.4L444.1,342.0L444.5,331.0L444.9,325.5L445.3,322.6L445.7,321.2L446.1,320.3L446.5,319.8L447.3,319.7L448.9,319.8L453.3,320.3L463.2,322.4L467.2,323.1L479.2,324.7L483.2,325.4L487.2,326.2L491.2,327.3L495.2,328.9L499.2,331.3L503.1,333.9L507.1,336.9L511.1,339.4L515.1,341.1L519.1,342.0L523.1,342.2L602.9,342.2L602.9,342.2L443.3,342.2Z" stroke="rgb(251,195,138)" stroke-width="1.0" fill="rgb(251,195,138)"/>
<path d="M443.3,376.4L444.1,341.8L444.5,330.9L444.9,325.5L445.3,322.7L445.7,321.4L446.1,320.6L446.5,320.1L448.1,320.1L451.3,320.4L455.3,321.0L463.2,322.7L467.2,323.4L479.2,325.1L483.2,325.8L487.2,326.7L491.2,327.8L495.2,329.6L499.2,332.1L503.1,334.8L507.1,337.8L511.1,340.1L515.1,341.5L519.1,342.2L602.9,342.2L602.9,342.2L443.3,342.2Z" stroke="rgb(251,197,142)" stroke-width="1.0" fill="rgb(251,197,142)"/>
<path d="M443.3,376.4L443.9,349.1L444.5,330.7L444.9,325.6L445.3,322.8L445.7,321.6L446.1,320.8L446.5,320.4L448.9,320.4L453.3,321.0L463.2,323.1L479.2,325.4L483.2,326.2L487.2,327.1L491.2,328.4L495.2,330.4L499.2,332.9L507.1,338.7L511.1,340.7L515.1,341.8L519.1,342.2L602.9,342.2L602.9,342.2L443.3,342.2Z" stroke="rgb(251,199,146)" stroke-width="1.0" fill="rgb(251,199,146)"/>
<path d="M443.3,376.4L443.9,348.9L444.5,330.6L444.9,325.6L445.3,323.0L445.7,321.8L446.1,321.1L446.5,320.7L450.1,320.9L453.3,321.4L463.2,323.5L479.2,325.8L483.2,326.6L487.2,327.6L491.2,329.0L495.2,331.2L499.2,333.7L503.1,336.8L507.1,339.4L511.1,341.1L515.1,342.1L519.1,342.2L602.9,342.2L602.9,342.2L443.3,342.2Z" stroke="rgb(252,201,149)" stroke-width="1.0" fill="rgb(252,201,149)"/>
<path d="M443.3,376.4L443.9,348.6L444.5,330.5L444.9,325.7L445.3,323.2L445.7,322.1L446.1,321.3L446.5,321.0L448.9,321.1L451.3,321.4L455.3,322.1L463.2,323.8L479.2,326.2L483.2,327.0L487.2,328.0L491.2,329.6L495.2,332.0L499.2,334.7L503.1,337.8L507.1,340.1L511.1,341.5L515.1,342.2L602.9,342.2L602.9,342.2L443.3,342.2Z" stroke="rgb(252,203,153)" stroke-width="1.0" fill="rgb(252,203,153)"/>
<path d="M443.3,376.4L443.9,348.4L444.5,330.5L444.9,325.8L445.3,323.4L445.7,322.3L446.1,321.6L446.5,321.4L448.9,321.5L451.3,321.8L463.2,324.2L479.2,326.6L483.2,327.4L487.2,328.6L491.2,330.4L495.2,332.9L503.1,338.7L507.1,340.7L511.1,341.9L515.1,342.2L602.9,342.2L602.9,342.2L443.3,342.2Z" stroke="rgb(252,205,157)" stroke-width="1.0" fill="rgb(252,205,157)"/>
<path d="M443.3,376.4L443.9,348.1L444.5,330.4L444.9,325.8L445.3,323.6L445.7,322.5L446.1,321.9L446.5,321.7L448.9,321.8L451.3,322.1L463.2,324.6L475.2,326.3L479.2,327.0L483.2,327.9L487.2,329.1L491.2,331.2L495.2,333.7L499.2,336.8L503.1,339.5L507.1,341.2L511.1,342.1L602.9,342.2L602.9,342.2L443.3,342.2Z" stroke="rgb(252,207,160)" stroke-width="1.0" fill="rgb(252,207,160)"/>
<path d="M443.3,376.4L443.9,347.9L444.5,330.4L444.9,325.9L445.3,323.8L445.7,322.8L446.1,322.2L446.5,322.1L448.9,322.2L451.3,322.5L463.2,324.9L475.2,326.7L479.2,327.4L483.2,328.4L487.2,329.8L491.2,332.0L495.2,334.7L499.2,337.8L503.1,340.2L507.1,341.6L511.1,342.2L602.9,342.2L602.9,342.2L443.3,342.2Z" stroke="rgb(252,208,164)" stroke-width="1.0" fill="rgb(252,208,164)"/>
<path d="M443.3,376.4L443.9,347.6L444.5,330.4L444.9,326.0L445.3,324.0L445.7,323.0L446.1,322.5L448.1,322.5L451.3,322.9L463.2,325.3L475.2,327.1L479.2,327.9L483.2,328.9L487.2,330.5L491.2,332.9L495.2,335.8L499.2,338.8L503.1,340.9L507.1,342.0L511.1,342.2L602.9,342.2L602.9,342.2L443.3,342.2Z" stroke="rgb(252,210,168)" stroke-width="1.0" fill="rgb(252,210,168)"/>
<path d="M443.3,376.4L443.9,347.4L444.5,330.4L444.9,326.2L445.3,324.3L445.7,323.3L446.1,322.9L448.1,322.9L451.3,323.3L459.3,325.0L463.2,325.7L475.2,327.5L479.2,328.3L483.2,329.5L487.2,331.3L491.2,333.9L495.2,336.9L499.2,339.6L503.1,341.4L507.1,342.2L602.9,342.2L602.9,342.2L443.3,342.2Z" stroke="rgb(252,212,171)" stroke-width="1.0" fill="rgb(252,212,171)"/>
<path d="M443.3,376.4L443.9,347.1L444.5,330.4L444.9,326.3L445.3,324.5L445.7,323.6L446.1,323.2L448.1,323.3L451.3,323.7L459.3,325.4L475.2,327.9L479.2,328.8L483.2,330.1L487.2,332.2L491.2,334.8L495.2,338.0L499.2,340.4L503.1,341.8L507.1,342.2L602.9,342.2L602.9,342.2L443.3,342.2Z" stroke="rgb(252,214,175)" stroke-width="1.0" fill="rgb(252,214,175)"/>
<path d="M443.3,376.4L443.9,346.8L444.5,330.5L444.9,326.5L445.3,324.8L445.7,323.9L446.1,323.6L448.1,323.7L451.3,324.1L459.3,325.9L471.2,327.7L475.2,328.4L479.2,329.4L483.2,330.8L487.2,333.1L491.2,336.0L495.2,339.1L499.2,341.1L503.1,342.1L602.9,342.2L602.9,342.2L443.3,342.2Z" stroke="rgb(253,216,178)" stroke-width="1.0" fill="rgb(253,216,178)"/>
<path d="M443.3,376.4L443.9,346.6L444.5,330.5L444.9,326.6L445.3,325.1L445.7,324.2L446.1,324.0L448.1,324.1L451.3,324.5L459.3,326.3L471.2,328.1L475.2,328.9L479.2,329.9L483.2,331.6L487.2,334.1L491.2,337.2L495.2,339.9L499.2,341.6L503.1,342.2L602.9,342.2L602.9,342.2L443.3,342.2Z" stroke="rgb(253,218,182)" stroke-width="1.0" fill="rgb(253,218,182)"/>
<path d="M443.3,376.4L443.9,346.3L444.5,330.5L444.9,326.9L445.3,325.4L445.7,324.6L446.1,324.5L448.1,324.5L450.1,324.8L459.3,326.8L471.2,328.6L475.2,329.4L479.2,330.5L483.2,332.5L487.2,335.2L491.2,338.4L495.2,340.7L499.2,342.0L503.1,342.2L602.9,342.2L602.9,342.2L443.3,342.2Z" stroke="rgb(253,220,186)" stroke-width="1.0" fill="rgb(253,220,186)"/>
<path d="M443.3,376.4L443.9,346.0L444.1,338.7L444.5,330.6L444.9,327.1L445.3,325.7L445.7,325.0L446.1,324.9L448.1,325.0L450.1,325.2L459.3,327.2L471.2,329.1L475.2,329.9L479.2,331.2L483.2,333.5L487.2,336.4L491.2,339.5L495.2,341.4L499.2,342.2L602.9,342.2L602.9,342.2L443.3,342.2Z" stroke="rgb(253,221,189)" stroke-width="1.0" fill="rgb(253,221,189)"/>
<path d="M443.3,376.4L444.1,338.5L444.5,330.7L444.9,327.4L445.3,326.0L445.7,325.4L447.3,325.3L450.1,325.7L459.3,327.7L471.2,329.6L475.2,330.5L479.2,332.1L483.2,334.6L487.2,337.7L491.2,340.4L495.2,341.9L499.2,342.2L602.9,342.2L602.9,342.2L443.3,342.2Z" stroke="rgb(253,223,193)" stroke-width="1.0" fill="rgb(253,223,193)"/>
<path d="M443.3,376.4L444.1,338.3L444.5,330.8L444.9,327.7L445.3,326.3L445.7,325.9L447.3,325.8L450.1,326.2L457.3,327.8L467.2,329.4L471.2,330.1L475.2,331.2L479.2,333.0L483.2,335.8L487.2,339.0L491.2,341.2L495.2,342.2L602.9,342.2L602.9,342.2L443.3,342.2Z" stroke="rgb(253,225,197)" stroke-width="1.0" fill="rgb(253,225,197)"/>
<path d="M443.3,376.4L444.1,338.2L444.5,330.9L444.9,328.0L445.3,326.7L445.7,326.3L446.5,326.2L448.9,326.5L457.3,328.3L467.2,329.9L471.2,330.7L475.2,331.9L479.2,334.1L487.2,340.1L491.2,341.8L495.2,342.2L602.9,342.2L602.9,342.2L443.3,342.2Z" stroke="rgb(253,227,200)" stroke-width="1.0" fill="rgb(253,227,200)"/>
<path d="M443.3,376.4L444.1,338.0L444.5,331.0L444.9,328.3L445.3,327.1L445.7,326.8L446.5,326.7L448.9,327.0L457.3,328.8L467.2,330.4L471.2,331.3L475.2,332.8L479.2,335.3L483.2,338.5L487.2,341.0L491.2,342.1L602.9,342.2L602.9,342.2L443.3,342.2Z" stroke="rgb(253,229,204)" stroke-width="1.0" fill="rgb(253,229,204)"/>
<path d="M443.3,376.4L444.1,338.0L444.5,331.2L444.9,328.6L445.3,327.5L445.7,327.3L446.5,327.2L448.9,327.5L457.3,329.4L467.2,331.0L471.2,332.0L475.2,333.8L479.2,336.6L483.2,339.8L487.2,341.7L491.2,342.2L602.9,342.2L602.9,342.2L443.3,342.2Z" stroke="rgb(253,231,208)" stroke-width="1.0" fill="rgb(253,231,208)"/>
<path d="M443.3,376.4L444.1,337.9L444.5,331.4L444.9,329.0L445.3,328.0L445.7,327.8L446.5,327.8L448.9,328.1L455.3,329.6L463.2,330.8L467.2,331.6L471.2,332.8L475.2,335.1L479.2,338.2L483.2,340.9L487.2,342.1L602.9,342.2L602.9,342.2L443.3,342.2Z" stroke="rgb(254,233,211)" stroke-width="1.0" fill="rgb(254,233,211)"/>
<path d="M443.3,376.4L443.7,353.3L444.1,337.9L444.5,331.7L444.9,329.4L445.3,328.6L445.7,328.4L446.5,328.3L448.9,328.7L455.3,330.2L463.2,331.4L467.2,332.3L471.2,333.7L475.2,336.4L479.2,339.7L483.2,341.7L487.2,342.2L602.9,342.2L602.9,342.2L443.3,342.2Z" stroke="rgb(254,234,215)" stroke-width="1.0" fill="rgb(254,234,215)"/>
<path d="M443.3,376.4L443.7,352.9L444.1,338.0L444.5,332.1L444.9,329.9L445.3,329.2L445.7,329.0L446.5,328.9L448.1,329.1L455.3,330.8L463.2,332.1L467.2,333.1L471.2,335.0L479.2,340.9L483.2,342.2L602.9,342.2L602.9,342.2L443.3,342.2Z" stroke="rgb(254,236,219)" stroke-width="1.0" fill="rgb(254,236,219)"/>
<path d="M443.3,376.4L443.7,352.6L444.1,338.1L444.5,332.5L444.9,330.4L445.3,329.8L445.7,329.6L446.5,329.6L448.1,329.8L453.3,331.0L463.2,332.8L467.2,334.0L471.2,336.4L475.2,339.7L479.2,341.8L483.2,342.2L602.9,342.2L602.9,342.2L443.3,342.2Z" stroke="rgb(254,238,222)" stroke-width="1.0" fill="rgb(254,238,222)"/>
<path d="M443.3,376.4L443.7,352.3L444.1,338.2L444.5,332.9L444.9,331.0L445.3,330.4L445.7,330.3L446.5,330.2L448.1,330.5L453.3,331.7L459.3,332.7L463.2,333.6L467.2,335.1L475.2,341.1L479.2,342.2L602.9,342.2L602.9,342.2L443.3,342.2Z" stroke="rgb(254,240,226)" stroke-width="1.0" fill="rgb(254,240,226)"/>
<path d="M443.3,376.4L443.7,352.0L444.1,338.3L444.5,333.4L444.9,331.7L445.3,331.1L445.7,331.0L447.3,331.1L453.3,332.5L459.3,333.5L463.2,334.5L467.2,336.7L471.2,340.1L475.2,342.0L479.2,342.2L602.9,342.2L602.9,342.2L443.3,342.2Z" stroke="rgb(254,242,229)" stroke-width="1.0" fill="rgb(254,242,229)"/>
<path d="M443.3,376.4L443.7,351.7L444.1,338.6L444.5,333.9L444.9,332.4L445.3,331.9L445.7,331.8L447.3,331.9L451.3,332.9L459.3,334.3L463.2,335.7L471.2,341.5L475.2,342.2L602.9,342.2L602.9,342.2L443.3,342.2Z" stroke="rgb(254,244,233)" stroke-width="1.0" fill="rgb(254,244,233)"/>
<path d="M443.3,376.4L443.7,351.4L444.1,339.0L444.5,334.6L444.9,333.2L445.3,332.8L445.7,332.6L447.3,332.8L451.3,333.8L457.3,334.8L459.3,335.3L463.2,337.4L467.2,340.8L471.2,342.2L602.9,342.2L602.9,342.2L443.3,342.2Z" stroke="rgb(254,246,237)" stroke-width="1.0" fill="rgb(254,246,237)"/>
<path d="M443.3,376.4L443.7,351.2L444.1,339.5L444.5,335.5L444.9,334.2L445.3,333.7L445.7,333.6L446.5,333.6L450.1,334.5L455.3,335.4L457.3,335.9L459.3,336.7L463.2,339.8L467.2,342.1L471.2,342.2L602.9,342.2L602.9,342.2L443.3,342.2Z" stroke="rgb(255,248,240)" stroke-width="1.0" fill="rgb(255,248,240)"/>
<path d="M443.3,376.4L443.7,351.1L444.1,340.2L444.5,336.5L444.9,335.2L445.3,334.8L445.7,334.7L446.5,334.8L448.9,335.4L455.3,336.7L457.3,337.4L463.2,341.9L467.2,342.2L602.9,342.2L602.9,342.2L443.3,342.2Z" stroke="rgb(255,249,244)" stroke-width="1.0" fill="rgb(255,249,244)"/>
<path d="M443.3,376.4L443.7,351.3L444.1,341.2L444.5,337.8L444.9,336.5L445.3,336.1L445.7,336.0L453.3,337.6L455.3,338.6L457.3,340.3L459.3,341.8L463.2,342.2L602.9,342.2L602.9,342.2L443.3,342.2Z" stroke="rgb(255,251,248)" stroke-width="1.0" fill="rgb(255,251,248)"/>
<path d="M443.3,376.4L443.5,361.7L443.9,346.1L444.1,342.7L444.5,339.4L444.9,338.3L445.3,337.9L446.1,337.9L448.9,338.4L451.3,339.1L455.3,342.0L457.3,342.2L602.9,342.2L602.9,342.2L443.3,342.2Z" stroke="rgb(255,253,251)" stroke-width="1.0" fill="rgb(255,253,251)"/>
<path d="M443.3,376.4L443.7,354.7L444.1,346.8L444.5,343.9L444.9,342.8L445.3,342.4L445.7,342.2L448.1,342.2L602.9,342.2L602.9,342.2L443.3,342.2Z" stroke="rgb(255,255,255)" stroke-width="1.0" fill="rgb(255,255,255)"/>
<path d="M443.3,376.4L443.5,372.6L444.5,335.7L444.9,326.9L445.3,321.4L445.7,318.3L446.1,316.1L446.5,314.8L447.3,313.4L448.1,312.6L453.3,312.9L457.3,313.4L475.2,316.7L491.2,318.8L499.2,319.9L507.1,321.5L511.1,322.5L515.1,323.8L519.1,325.7L527.1,330.3L535.1,335.8L539.1,338.1L543.0,339.9L547.0,341.1L551.0,341.9L555.0,342.2L602.9,342.2" stroke="rgb(248,145,40)" stroke-width="1.4" fill="none"/>
<path d="M88.9,591.1L89.6,596.2L90.1,597.5L90.3,597.8L90.8,598.0" stroke="rgb(255,255,255)" stroke-width="1.0" fill="none"/>
<path d="M88.9,591.1L89.6,596.2L90.1,597.5L90.3,597.8L90.8,598.0" stroke="rgb(254,251,252)" stroke-width="1.0" fill="none"/>
<path d="M88.9,591.1L89.6,596.1L90.1,597.5L90.3,597.8L90.8,598.0" stroke="rgb(254,247,249)" stroke-width="1.0" fill="none"/>
<path d="M88.9,591.1L89.6,596.1L90.1,597.4L90.3,597.8L90.8,598.0" stroke="rgb(253,243,245)" stroke-width="1.0" fill="none"/>
<path d="M88.9,591.1L89.6,596.1L90.1,597.4L90.3,597.7L90.8,598.0" stroke="rgb(253,239,242)" stroke-width="1.0" fill="none"/>
<path d="M88.9,591.1L89.6,596.0L90.1,597.4L90.3,597.7L90.8,598.0" stroke="rgb(252,235,239)" stroke-width="1.0" fill="none"/>
<path d="M88.9,591.1L89.6,596.0L90.1,597.4L90.3,597.7L90.8,598.0" stroke="rgb(252,232,236)" stroke-width="1.0" fill="none"/>
<path d="M88.9,591.1L89.4,594.6L89.9,596.8L90.3,597.7L90.8,598.0" stroke="rgb(251,228,232)" stroke-width="1.0" fill="none"/>
<path d="M88.9,591.1L89.4,594.5L89.9,596.7L90.3,597.6L91.1,598.1" stroke="rgb(251,224,229)" stroke-width="1.0" fill="none"/>
<path d="M88.9,591.1L89.4,594.4L89.9,596.6L90.3,597.6L91.1,598.0" stroke="rgb(250,220,226)" stroke-width="1.0" fill="none"/>
<path d="M88.9,591.1L89.9,596.5L90.3,597.5L91.1,598.0" stroke="rgb(249,216,223)" stroke-width="1.0" fill="none"/>
<path d="M88.9,591.1L89.9,596.3L90.3,597.4L91.1,598.0" stroke="rgb(249,212,219)" stroke-width="1.0" fill="none"/>
<path d="M88.9,591.1L89.6,595.0L90.1,596.8L90.6,597.6L91.3,598.0" stroke="rgb(248,208,216)" stroke-width="1.0" fill="none"/>
<path d="M88.9,591.1L90.1,596.5L90.6,597.5L91.3,598.0" stroke="rgb(248,204,213)" stroke-width="1.0" fill="none"/>
<path d="M88.9,591.1L89.9,595.2L90.3,596.7L90.8,597.6L91.5,598.0" stroke="rgb(247,200,210)" stroke-width="1.0" fill="none"/>
<path d="M88.9,591.1L90.6,596.9L91.1,597.6L91.8,598.0" stroke="rgb(247,196,206)" stroke-width="1.0" fill="none"/>
<path d="M88.9,591.1L90.8,596.8L91.5,597.8L92.3,598.1" stroke="rgb(246,192,203)" stroke-width="1.0" fill="none"/>
<path d="M88.9,591.1L89.6,592.7L91.1,596.6L91.8,597.6L92.5,598.0" stroke="rgb(245,188,200)" stroke-width="1.0" fill="none"/>
<path d="M88.9,591.1L89.9,592.8L91.3,596.2L91.8,597.1L92.5,597.8L93.2,598.0" stroke="rgb(245,185,197)" stroke-width="1.0" fill="none"/>
<path d="M88.9,591.1L90.3,593.1L92.3,597.0L93.0,597.7L93.9,598.0" stroke="rgb(244,181,193)" stroke-width="1.0" fill="none"/>
<path d="M88.9,591.1L91.1,593.6L92.5,596.2L93.2,597.2L93.9,597.8L94.6,598.0" stroke="rgb(244,177,190)" stroke-width="1.0" fill="none"/>
<path d="M88.9,591.1L89.6,591.9L91.8,593.7L94.2,597.2L94.9,597.7L95.8,598.0" stroke="rgb(243,173,187)" stroke-width="1.0" fill="none"/>
<path d="M88.9,591.1L89.9,592.1L92.0,593.3L92.7,593.9L94.9,596.6L95.6,597.3L96.3,597.7L97.3,598.0" stroke="rgb(243,169,184)" stroke-width="1.0" fill="none"/>
<path d="M88.9,591.1L89.6,591.9L90.3,592.3L93.0,593.4L93.9,593.9L94.6,594.6L96.6,596.7L97.3,597.3L98.2,597.8L99.2,598.0" stroke="rgb(242,165,181)" stroke-width="1.0" fill="none"/>
<path d="M88.9,591.1L89.6,591.8L90.6,592.4L91.5,592.8L94.2,593.4L95.4,593.9L96.3,594.6L98.2,596.5L99.2,597.2L100.2,597.7L101.6,598.0" stroke="rgb(242,161,177)" stroke-width="1.0" fill="none"/>
<path d="M88.9,591.1L89.6,591.8L90.3,592.3L91.1,592.5L92.0,592.6L93.2,592.5L95.8,591.6L97.5,591.2" stroke="rgb(241,157,174)" stroke-width="1.0" fill="none"/>
<path d="M88.9,591.1L90.1,592.2L90.8,592.5L91.8,592.6L93.0,592.4L95.4,591.6L96.8,591.3" stroke="rgb(240,153,171)" stroke-width="1.0" fill="none"/>
<path d="M88.9,591.1L90.1,592.1L90.8,592.4L91.5,592.5L92.5,592.4L94.9,591.5L96.3,591.2" stroke="rgb(240,149,168)" stroke-width="1.0" fill="none"/>
<path d="M88.9,591.1L89.4,591.6L90.1,592.1L90.8,592.4L91.5,592.5L92.5,592.3L94.4,591.6L95.8,591.2" stroke="rgb(239,145,164)" stroke-width="1.0" fill="none"/>
<path d="M88.9,591.1L89.4,591.6L90.1,592.1L91.3,592.4L92.0,592.3L94.2,591.5L95.4,591.2" stroke="rgb(239,141,161)" stroke-width="1.0" fill="none"/>
<path d="M88.9,591.1L89.9,592.0L91.1,592.4L91.8,592.3L93.7,591.5L94.9,591.2" stroke="rgb(238,138,158)" stroke-width="1.0" fill="none"/>
<path d="M88.9,591.1L89.9,592.0L90.3,592.2L91.1,592.3L91.8,592.2L93.5,591.5L94.4,591.3" stroke="rgb(238,134,155)" stroke-width="1.0" fill="none"/>
<path d="M88.9,591.1L89.9,592.0L90.8,592.3L91.5,592.1L93.0,591.5L93.9,591.3" stroke="rgb(237,130,151)" stroke-width="1.0" fill="none"/>
<path d="M88.9,591.1L89.6,591.8L90.6,592.2L91.3,592.1L92.7,591.5L93.7,591.3" stroke="rgb(237,126,148)" stroke-width="1.0" fill="none"/>
<path d="M88.9,591.1L89.6,591.8L90.6,592.1L91.1,592.1L92.5,591.5L93.5,591.2" stroke="rgb(236,122,145)" stroke-width="1.0" fill="none"/>
<path d="M88.9,591.1L89.6,591.8L90.3,592.1L91.1,592.0L93.0,591.3" stroke="rgb(235,118,142)" stroke-width="1.0" fill="none"/>
<path d="M88.9,591.1L89.6,591.8L90.3,592.0L90.8,592.0L92.7,591.3" stroke="rgb(235,114,138)" stroke-width="1.0" fill="none"/>
<path d="M88.9,591.1L89.6,591.8L90.3,592.0L92.5,591.3" stroke="rgb(234,110,135)" stroke-width="1.0" fill="none"/>
<path d="M88.9,591.1L89.6,591.8L90.1,591.9L90.6,591.9L92.3,591.3" stroke="rgb(234,106,132)" stroke-width="1.0" fill="none"/>
<path d="M88.9,591.1L89.6,591.8L90.1,591.9L92.3,591.2" stroke="rgb(233,102,129)" stroke-width="1.0" fill="none"/>
<path d="M88.9,591.1L89.6,591.7L90.1,591.8L92.0,591.2" stroke="rgb(233,98,126)" stroke-width="1.0" fill="none"/>
<path d="M88.9,591.1L89.4,591.6L89.9,591.8L90.3,591.7L91.8,591.2" stroke="rgb(232,94,122)" stroke-width="1.0" fill="none"/>
<path d="M88.9,591.1L89.4,591.6L89.9,591.8L91.5,591.3" stroke="rgb(232,91,119)" stroke-width="1.0" fill="none"/>
<path d="M88.9,591.1L89.4,591.6L89.9,591.7L91.5,591.2" stroke="rgb(231,87,116)" stroke-width="1.0" fill="none"/>
<path d="M88.9,591.1L89.4,591.6L89.9,591.7L91.3,591.2" stroke="rgb(230,83,113)" stroke-width="1.0" fill="none"/>
<path d="M88.9,591.1L89.4,591.5L89.9,591.7L91.3,591.2" stroke="rgb(230,79,109)" stroke-width="1.0" fill="none"/>
<path d="M88.9,591.1L89.6,591.6L91.1,591.2" stroke="rgb(229,75,106)" stroke-width="1.0" fill="none"/>
<path d="M88.9,591.1L89.6,591.6L91.1,591.2" stroke="rgb(229,71,103)" stroke-width="1.0" fill="none"/>
<path d="M88.9,591.1L89.1,591.4L89.6,591.6L90.8,591.3" stroke="rgb(228,67,100)" stroke-width="1.0" fill="none"/>
<path d="M88.9,591.1L89.1,591.4L89.6,591.6L90.8,591.2" stroke="rgb(228,63,96)" stroke-width="1.0" fill="none"/>
<path d="M88.9,591.1L89.1,591.4L89.6,591.5L90.6,591.3" stroke="rgb(227,59,93)" stroke-width="1.0" fill="none"/>
<path d="M88.9,591.1L89.1,591.4L89.6,591.5L90.6,591.3" stroke="rgb(226,55,90)" stroke-width="1.0" fill="none"/>
<path d="M88.9,591.1L89.1,591.4L89.6,591.5L90.6,591.2" stroke="rgb(226,51,87)" stroke-width="1.0" fill="none"/>
<path d="M88.9,591.1L89.4,591.5L90.6,591.2" stroke="rgb(225,47,83)" stroke-width="1.0" fill="none"/>
<path d="M88.9,591.1L89.4,591.5L90.3,591.3" stroke="rgb(225,44,80)" stroke-width="1.0" fill="none"/>
<path d="M88.9,591.1L89.4,591.4L90.3,591.2" stroke="rgb(224,40,77)" stroke-width="1.0" fill="none"/>
<path d="M88.9,591.1L89.4,591.4L90.3,591.2" stroke="rgb(224,36,74)" stroke-width="1.0" fill="none"/>
<path d="M88.9,591.1L89.4,591.4L90.3,591.2" stroke="rgb(223,32,70)" stroke-width="1.0" fill="none"/>
<path d="M88.9,591.1L89.4,591.4L90.3,591.2" stroke="rgb(223,28,67)" stroke-width="1.0" fill="none"/>
<path d="M88.9,591.1L89.4,591.4L90.1,591.3" stroke="rgb(222,24,64)" stroke-width="1.0" fill="none"/>
<path d="M90.8,598.16L248.6,598.16" stroke="rgb(242,161,177)" stroke-width="1.3" fill="none"/>
<path d="M90.1,591.11L248.6,591.11" stroke="rgb(222,24,64)" stroke-width="1.3" fill="none"/>
<path d="M88.3,724.3L88.8,738.0L89.3,745.4L89.7,748.3L90.2,749.2L90.7,749.5" stroke="rgb(255,255,255)" stroke-width="1.0" fill="none"/>
<path d="M88.3,724.3L88.8,737.9L89.3,745.3L89.7,748.2L90.2,749.2L90.7,749.5" stroke="rgb(251,254,252)" stroke-width="1.0" fill="none"/>
<path d="M88.3,724.3L88.8,737.8L89.3,745.3L89.7,748.2L90.2,749.2L90.7,749.5" stroke="rgb(247,253,250)" stroke-width="1.0" fill="none"/>
<path d="M88.3,724.3L88.8,737.7L89.3,745.2L89.7,748.2L90.2,749.2L90.7,749.5" stroke="rgb(242,252,247)" stroke-width="1.0" fill="none"/>
<path d="M88.3,724.3L88.8,737.6L89.3,745.1L89.7,748.1L90.2,749.2L90.7,749.5" stroke="rgb(238,251,244)" stroke-width="1.0" fill="none"/>
<path d="M88.3,724.3L88.8,737.4L89.3,745.0L89.5,746.9L90.0,748.8L90.5,749.4L91.0,749.6" stroke="rgb(234,250,242)" stroke-width="1.0" fill="none"/>
<path d="M88.3,724.3L88.8,737.2L89.3,744.8L89.5,746.8L90.0,748.7L90.5,749.4L91.0,749.6" stroke="rgb(230,249,239)" stroke-width="1.0" fill="none"/>
<path d="M88.3,724.3L88.8,736.9L89.3,744.6L89.5,746.7L90.0,748.7L90.5,749.3L91.0,749.6" stroke="rgb(226,248,237)" stroke-width="1.0" fill="none"/>
<path d="M88.3,724.3L88.8,736.5L89.3,744.3L89.5,746.5L90.0,748.6L90.5,749.3L91.0,749.5" stroke="rgb(222,248,234)" stroke-width="1.0" fill="none"/>
<path d="M88.3,724.3L88.8,736.1L89.3,744.0L89.5,746.2L90.0,748.5L90.5,749.3L91.0,749.5" stroke="rgb(217,247,231)" stroke-width="1.0" fill="none"/>
<path d="M88.3,724.3L89.0,740.0L89.5,745.8L90.0,748.3L90.5,749.2L91.0,749.5" stroke="rgb(213,246,229)" stroke-width="1.0" fill="none"/>
<path d="M88.3,724.3L89.0,739.2L89.5,745.3L89.7,747.0L90.2,748.7L90.7,749.3L91.2,749.6" stroke="rgb(209,245,226)" stroke-width="1.0" fill="none"/>
<path d="M88.3,724.3L89.0,738.2L89.5,744.6L89.7,746.5L90.2,748.5L90.7,749.2L91.2,749.5" stroke="rgb(205,244,223)" stroke-width="1.0" fill="none"/>
<path d="M88.3,724.3L89.3,740.6L89.7,745.7L90.0,747.2L90.5,748.7L91.0,749.3L91.4,749.5" stroke="rgb(201,243,221)" stroke-width="1.0" fill="none"/>
<path d="M88.3,724.3L89.7,744.5L90.0,746.3L90.5,748.3L91.0,749.2L91.7,749.5" stroke="rgb(196,242,218)" stroke-width="1.0" fill="none"/>
<path d="M88.3,724.3L90.0,744.9L90.2,746.5L90.7,748.3L91.2,749.1L91.9,749.5" stroke="rgb(192,241,216)" stroke-width="1.0" fill="none"/>
<path d="M88.3,724.3L90.2,744.8L90.5,746.3L91.0,748.2L91.4,749.1L92.2,749.5" stroke="rgb(188,240,213)" stroke-width="1.0" fill="none"/>
<path d="M88.3,724.3L89.0,729.8L90.2,742.0L90.7,745.7L91.0,746.9L91.4,748.4L91.9,749.1L92.6,749.5" stroke="rgb(184,239,210)" stroke-width="1.0" fill="none"/>
<path d="M88.3,724.3L89.5,731.8L90.7,742.6L91.2,745.8L91.7,747.7L92.2,748.8L92.6,749.2L93.4,749.5" stroke="rgb(180,238,208)" stroke-width="1.0" fill="none"/>
<path d="M88.3,724.3L89.7,731.3L91.2,742.1L91.9,746.4L92.4,747.9L92.9,748.8L93.4,749.2L94.1,749.5" stroke="rgb(175,237,205)" stroke-width="1.0" fill="none"/>
<path d="M88.3,724.3L90.5,732.8L92.2,743.8L92.6,746.1L93.1,747.7L93.6,748.6L94.3,749.3L95.1,749.5" stroke="rgb(171,236,202)" stroke-width="1.0" fill="none"/>
<path d="M88.3,724.3L89.0,726.9L90.5,730.8L91.2,733.3L93.1,743.9L93.9,746.8L94.3,748.0L94.8,748.7L95.5,749.3L96.5,749.5" stroke="rgb(167,235,200)" stroke-width="1.0" fill="none"/>
<path d="M88.3,724.3L89.3,727.4L91.4,731.7L92.2,733.7L92.9,736.7L94.3,743.9L95.1,746.5L95.5,747.7L96.3,748.7L97.0,749.2L98.0,749.5" stroke="rgb(163,234,197)" stroke-width="1.0" fill="none"/>
<path d="M88.3,724.3L89.0,726.8L89.7,728.4L90.5,729.5L92.4,731.9L93.4,733.9L94.3,737.2L96.0,744.4L97.0,747.1L97.5,748.0L98.2,748.8L98.9,749.2L100.1,749.5" stroke="rgb(159,234,195)" stroke-width="1.0" fill="none"/>
<path d="M88.3,724.3L89.0,726.7L90.0,728.7L91.0,729.8L93.6,731.9L94.3,732.9L94.8,733.8L95.8,736.4L98.0,744.2L99.2,747.2L99.9,748.2L100.6,748.8L101.6,749.3L102.8,749.5" stroke="rgb(155,233,192)" stroke-width="1.0" fill="none"/>
<path d="M88.3,724.3L89.0,726.7L89.7,728.2L90.5,729.0L91.0,729.3L91.4,729.4L92.2,729.2L92.9,728.7L95.1,726.1L96.0,725.2L97.0,724.8L98.4,724.4" stroke="rgb(150,232,189)" stroke-width="1.0" fill="none"/>
<path d="M88.3,724.3L88.8,726.0L89.5,727.7L90.2,728.7L90.7,729.1L91.2,729.2L91.7,729.1L92.4,728.7L94.3,726.3L95.3,725.3L96.3,724.8L97.7,724.5" stroke="rgb(146,231,187)" stroke-width="1.0" fill="none"/>
<path d="M88.3,724.3L88.8,726.0L89.5,727.7L90.2,728.7L91.0,729.0L91.4,729.0L92.2,728.5L94.1,726.0L94.8,725.3L95.8,724.8L97.0,724.5" stroke="rgb(142,230,184)" stroke-width="1.0" fill="none"/>
<path d="M88.3,724.3L88.8,726.0L89.5,727.7L90.2,728.6L91.0,728.9L91.4,728.7L91.9,728.3L93.6,726.1L94.3,725.3L95.3,724.7L96.5,724.4" stroke="rgb(138,229,181)" stroke-width="1.0" fill="none"/>
<path d="M88.3,724.3L88.8,726.0L89.5,727.7L90.0,728.3L90.7,728.7L91.2,728.5L91.7,728.1L93.4,725.8L94.1,725.1L95.1,724.6L96.0,724.4" stroke="rgb(134,228,179)" stroke-width="1.0" fill="none"/>
<path d="M88.3,724.3L89.3,727.2L89.7,728.0L90.5,728.5L91.0,728.4L91.4,728.0L92.9,726.0L93.6,725.2L94.3,724.7L95.3,724.5" stroke="rgb(129,227,176)" stroke-width="1.0" fill="none"/>
<path d="M88.3,724.3L88.8,726.0L89.3,727.2L89.7,727.9L90.0,728.1L90.5,728.3L91.2,727.8L92.6,725.8L93.4,725.1L94.1,724.7L95.1,724.4" stroke="rgb(125,226,174)" stroke-width="1.0" fill="none"/>
<path d="M88.3,724.3L88.8,726.0L89.3,727.2L89.7,727.8L90.2,728.1L90.5,728.1L91.0,727.7L92.9,725.2L93.6,724.7L94.6,724.4" stroke="rgb(121,225,171)" stroke-width="1.0" fill="none"/>
<path d="M88.3,724.3L88.8,726.0L89.3,727.1L89.7,727.8L90.2,727.9L91.0,727.3L91.9,725.9L92.6,725.1L93.4,724.7L94.1,724.5" stroke="rgb(117,224,168)" stroke-width="1.0" fill="none"/>
<path d="M88.3,724.3L89.0,726.6L89.5,727.4L90.0,727.7L90.2,727.7L90.7,727.3L91.7,725.9L92.4,725.0L93.1,724.6L93.9,724.4" stroke="rgb(113,223,166)" stroke-width="1.0" fill="none"/>
<path d="M88.3,724.3L89.0,726.6L89.5,727.3L90.0,727.5L90.5,727.2L91.7,725.5L92.2,725.0L92.6,724.7L93.4,724.5" stroke="rgb(108,222,163)" stroke-width="1.0" fill="none"/>
<path d="M88.3,724.3L89.0,726.5L89.3,727.0L89.7,727.4L90.2,727.2L91.9,725.0L92.4,724.7L93.1,724.4" stroke="rgb(104,221,160)" stroke-width="1.0" fill="none"/>
<path d="M88.3,724.3L89.0,726.5L89.3,726.9L89.7,727.2L90.2,726.9L91.7,725.0L92.2,724.7L92.9,724.4" stroke="rgb(100,221,158)" stroke-width="1.0" fill="none"/>
<path d="M88.3,724.3L89.0,726.5L89.5,727.0L90.0,726.9L91.4,725.0L91.9,724.7L92.6,724.4" stroke="rgb(96,220,155)" stroke-width="1.0" fill="none"/>
<path d="M88.3,724.3L89.0,726.4L89.5,726.9L90.0,726.6L91.2,725.0L91.7,724.7L92.4,724.4" stroke="rgb(92,219,153)" stroke-width="1.0" fill="none"/>
<path d="M88.3,724.3L89.0,726.4L89.3,726.7L89.5,726.7L90.0,726.4L91.2,724.9L92.2,724.4" stroke="rgb(88,218,150)" stroke-width="1.0" fill="none"/>
<path d="M88.3,724.3L89.0,726.3L89.3,726.6L89.5,726.6L91.0,724.9L91.9,724.4" stroke="rgb(83,217,147)" stroke-width="1.0" fill="none"/>
<path d="M88.3,724.3L88.8,725.8L89.3,726.4L89.7,726.2L91.0,724.8L91.7,724.5" stroke="rgb(79,216,145)" stroke-width="1.0" fill="none"/>
<path d="M88.3,724.3L88.8,725.8L89.0,726.2L89.3,726.3L89.7,726.0L90.7,724.9L91.7,724.4" stroke="rgb(75,215,142)" stroke-width="1.0" fill="none"/>
<path d="M88.3,724.3L88.8,725.8L89.0,726.1L89.3,726.2L89.5,726.1L90.7,724.8L91.4,724.4" stroke="rgb(71,214,139)" stroke-width="1.0" fill="none"/>
<path d="M88.3,724.3L88.8,725.8L89.0,726.1L89.3,726.1L90.5,724.8L91.2,724.5" stroke="rgb(67,213,137)" stroke-width="1.0" fill="none"/>
<path d="M88.3,724.3L88.8,725.7L89.0,726.0L89.3,726.0L89.5,725.8L90.5,724.8L91.2,724.4" stroke="rgb(62,212,134)" stroke-width="1.0" fill="none"/>
<path d="M88.3,724.3L88.5,725.2L88.8,725.7L89.0,725.9L89.3,725.9L90.2,724.9L91.0,724.5" stroke="rgb(58,211,132)" stroke-width="1.0" fill="none"/>
<path d="M88.3,724.3L88.5,725.1L88.8,725.7L89.0,725.8L89.3,725.8L90.2,724.8L91.0,724.4" stroke="rgb(54,210,129)" stroke-width="1.0" fill="none"/>
<path d="M88.3,724.3L88.5,725.1L88.8,725.6L89.0,725.8L89.3,725.7L90.2,724.7L91.0,724.4" stroke="rgb(50,209,126)" stroke-width="1.0" fill="none"/>
<path d="M88.3,724.3L88.5,725.1L88.8,725.6L89.0,725.7L90.0,724.8L90.7,724.5" stroke="rgb(46,208,124)" stroke-width="1.0" fill="none"/>
<path d="M88.3,724.3L88.5,725.1L88.8,725.5L89.0,725.6L90.0,724.8L90.7,724.4" stroke="rgb(41,207,121)" stroke-width="1.0" fill="none"/>
<path d="M88.3,724.3L88.5,725.1L88.8,725.5L89.0,725.6L90.0,724.7L90.7,724.4" stroke="rgb(37,207,118)" stroke-width="1.0" fill="none"/>
<path d="M88.3,724.3L88.5,725.1L88.8,725.5L89.0,725.5L90.0,724.7L90.5,724.5" stroke="rgb(33,206,116)" stroke-width="1.0" fill="none"/>
<path d="M88.3,724.3L88.5,725.1L88.8,725.4L89.0,725.5L90.0,724.6L90.5,724.4" stroke="rgb(29,205,113)" stroke-width="1.0" fill="none"/>
<path d="M88.3,724.3L88.5,725.1L88.8,725.4L89.0,725.4L89.7,724.8L90.5,724.4" stroke="rgb(25,204,111)" stroke-width="1.0" fill="none"/>
<path d="M88.3,724.3L88.5,725.1L88.8,725.4L89.0,725.4L89.7,724.7L90.5,724.4" stroke="rgb(21,203,108)" stroke-width="1.0" fill="none"/>
<path d="M88.3,724.3L88.5,725.1L88.8,725.4L89.0,725.3L89.7,724.7L90.2,724.5" stroke="rgb(16,202,105)" stroke-width="1.0" fill="none"/>
<path d="M88.3,724.3L88.5,725.1L88.8,725.3L89.0,725.3L89.7,724.7L90.2,724.4" stroke="rgb(12,201,103)" stroke-width="1.0" fill="none"/>
<path d="M88.3,724.3L88.5,725.0L88.8,725.3L90.2,724.4" stroke="rgb(8,200,100)" stroke-width="1.0" fill="none"/>
<path d="M90.7,749.67L249.4,749.67" stroke="rgb(155,233,192)" stroke-width="1.3" fill="none"/>
<path d="M90.2,724.31L249.4,724.31" stroke="rgb(8,200,100)" stroke-width="1.3" fill="none"/>
<path d="M265.8,758.9L268.2,757.7L270.4,756.8L272.1,756.3L273.8,756.1L275.9,756.5L281.3,758.2L283.4,758.6L285.6,758.8" stroke="rgb(255,255,255)" stroke-width="1.0" fill="none"/>
<path d="M265.8,758.5L268.2,757.3L270.1,756.5L271.8,756.1L273.5,755.9L275.7,756.2L279.6,757.7L281.3,758.2L283.4,758.6L285.6,758.8" stroke="rgb(251,254,252)" stroke-width="1.0" fill="none"/>
<path d="M265.8,758.1L268.2,757.0L270.4,756.2L272.1,755.8L273.5,755.7L275.7,756.1L279.3,757.6L281.3,758.2L283.4,758.6L286.3,758.8" stroke="rgb(247,253,250)" stroke-width="1.0" fill="none"/>
<path d="M265.8,757.7L268.2,756.6L270.1,755.9L271.8,755.5L273.3,755.4L275.5,755.9L279.3,757.5L281.3,758.1L283.4,758.6L286.3,758.8" stroke="rgb(242,252,247)" stroke-width="1.0" fill="none"/>
<path d="M265.8,757.3L268.2,756.2L270.1,755.6L271.8,755.2L273.3,755.2L275.5,755.7L279.3,757.4L281.3,758.1L283.4,758.5L286.3,758.8" stroke="rgb(238,251,244)" stroke-width="1.0" fill="none"/>
<path d="M265.8,756.9L268.2,755.9L270.1,755.3L271.8,755.0L273.3,755.0L275.5,755.5L279.1,757.3L281.0,758.0L283.4,758.5L286.3,758.8" stroke="rgb(234,250,242)" stroke-width="1.0" fill="none"/>
<path d="M265.8,756.5L268.0,755.6L269.9,755.0L271.6,754.7L273.0,754.7L274.0,754.9L275.2,755.3L279.1,757.2L281.0,758.0L283.4,758.5L286.3,758.8" stroke="rgb(230,249,239)" stroke-width="1.0" fill="none"/>
<path d="M265.8,756.1L268.0,755.2L269.9,754.7L271.6,754.4L273.0,754.5L274.0,754.7L275.2,755.1L279.1,757.2L281.0,758.0L283.4,758.5L286.3,758.8" stroke="rgb(226,248,237)" stroke-width="1.0" fill="none"/>
<path d="M265.8,755.7L268.0,754.9L269.9,754.4L271.6,754.1L273.0,754.2L274.0,754.4L275.2,754.9L278.8,757.0L280.8,757.9L283.4,758.5L286.3,758.8" stroke="rgb(222,248,234)" stroke-width="1.0" fill="none"/>
<path d="M265.8,755.2L268.0,754.5L269.9,754.0L271.4,753.9L272.8,753.9L273.8,754.2L275.0,754.6L278.8,756.9L280.8,757.8L283.4,758.5L286.3,758.8" stroke="rgb(217,247,231)" stroke-width="1.0" fill="none"/>
<path d="M265.8,754.8L268.0,754.1L269.9,753.7L271.4,753.6L272.8,753.7L273.8,753.9L275.0,754.5L278.8,756.9L280.8,757.8L283.4,758.5L286.3,758.8" stroke="rgb(213,246,229)" stroke-width="1.0" fill="none"/>
<path d="M265.8,754.4L268.0,753.8L269.9,753.4L271.4,753.3L272.8,753.4L273.8,753.7L275.0,754.3L278.8,756.8L280.8,757.8L283.4,758.5L286.3,758.8" stroke="rgb(209,245,226)" stroke-width="1.0" fill="none"/>
<path d="M265.8,754.0L268.0,753.4L269.9,753.0L271.4,753.0L272.8,753.2L274.7,754.0L278.8,756.7L280.8,757.7L283.4,758.5L286.3,758.8" stroke="rgb(205,244,223)" stroke-width="1.0" fill="none"/>
<path d="M265.8,753.6L268.0,753.0L269.7,752.7L271.1,752.7L272.6,752.9L273.5,753.2L274.7,753.8L278.6,756.5L280.5,757.6L282.7,758.3L286.3,758.8" stroke="rgb(201,243,221)" stroke-width="1.0" fill="none"/>
<path d="M265.8,753.2L268.0,752.7L269.7,752.4L271.1,752.4L272.6,752.6L273.5,753.0L274.7,753.6L278.6,756.5L280.5,757.6L282.7,758.3L286.3,758.8" stroke="rgb(196,242,218)" stroke-width="1.0" fill="none"/>
<path d="M265.8,752.8L268.0,752.3L269.7,752.1L271.1,752.1L272.6,752.4L273.5,752.7L274.7,753.4L278.6,756.4L280.5,757.5L282.7,758.3L286.3,758.8" stroke="rgb(192,241,216)" stroke-width="1.0" fill="none"/>
<path d="M265.8,752.4L268.0,751.9L269.7,751.8L271.1,751.8L272.6,752.1L273.5,752.5L274.7,753.2L278.6,756.3L280.5,757.5L282.7,758.3L286.3,758.8" stroke="rgb(188,240,213)" stroke-width="1.0" fill="none"/>
<path d="M265.8,752.0L268.0,751.6L269.7,751.4L271.1,751.5L272.3,751.8L273.3,752.1L274.5,752.9L278.6,756.3L280.5,757.5L282.0,758.1L283.4,758.4L287.1,758.8" stroke="rgb(184,239,210)" stroke-width="1.0" fill="none"/>
<path d="M265.8,751.6L268.0,751.2L269.7,751.1L271.1,751.2L272.3,751.5L273.3,751.9L274.5,752.7L278.6,756.2L280.5,757.4L282.0,758.0L283.4,758.4L287.1,758.8" stroke="rgb(180,238,208)" stroke-width="1.0" fill="none"/>
<path d="M265.8,751.2L268.0,750.8L269.7,750.8L271.1,750.9L272.3,751.2L273.3,751.7L274.5,752.5L278.6,756.1L280.5,757.4L282.0,758.0L283.4,758.4L287.1,758.8" stroke="rgb(175,237,205)" stroke-width="1.0" fill="none"/>
<path d="M265.8,750.7L267.7,750.5L269.4,750.4L270.9,750.6L272.1,750.9L273.3,751.4L274.3,752.1L278.6,756.1L280.5,757.4L282.0,758.0L283.4,758.4L287.1,758.8" stroke="rgb(171,236,202)" stroke-width="1.0" fill="none"/>
<path d="M265.8,750.3L267.7,750.1L269.4,750.1L270.9,750.3L272.1,750.6L273.3,751.2L274.3,751.9L278.4,755.8L280.5,757.3L282.0,758.0L283.4,758.4L287.1,758.8" stroke="rgb(167,235,200)" stroke-width="1.0" fill="none"/>
<path d="M265.8,749.9L267.7,749.7L269.4,749.7L270.9,749.9L272.1,750.3L273.3,751.0L274.3,751.7L278.4,755.7L280.5,757.3L282.0,758.0L283.4,758.4L287.1,758.8" stroke="rgb(163,234,197)" stroke-width="1.0" fill="none"/>
<path d="M265.8,749.5L267.7,749.4L269.4,749.4L270.9,749.6L272.1,750.1L273.3,750.7L274.3,751.5L278.4,755.6L280.5,757.3L282.0,757.9L283.4,758.4L287.1,758.8" stroke="rgb(159,234,195)" stroke-width="1.0" fill="none"/>
<path d="M265.8,749.1L267.7,749.0L269.4,749.1L270.9,749.3L272.1,749.8L273.3,750.5L274.3,751.2L278.4,755.5L280.5,757.2L282.0,757.9L283.4,758.3L287.1,758.8" stroke="rgb(155,233,192)" stroke-width="1.0" fill="none"/>
<path d="M265.8,748.7L267.7,748.6L269.4,748.7L270.9,749.0L272.1,749.5L273.3,750.2L274.3,751.0L278.4,755.4L279.6,756.5L280.5,757.1L282.0,757.9L283.4,758.3L287.1,758.8" stroke="rgb(150,232,189)" stroke-width="1.0" fill="none"/>
<path d="M265.8,748.3L267.7,748.2L269.4,748.4L270.9,748.7L272.1,749.1L273.3,749.9L274.3,750.7L278.6,755.5L280.5,757.0L282.0,757.8L283.4,758.3L284.9,758.6L287.1,758.8" stroke="rgb(146,231,187)" stroke-width="1.0" fill="none"/>
<path d="M265.8,747.9L269.4,748.0L270.9,748.3L272.1,748.7L273.3,749.5L274.5,750.5L278.6,755.1L279.8,756.3L280.8,757.0L282.0,757.7L283.4,758.2L285.6,758.6L287.8,758.8" stroke="rgb(142,230,184)" stroke-width="1.0" fill="none"/>
<path d="M265.8,747.5L269.7,747.6L271.1,747.9L272.6,748.5L273.8,749.2L275.0,750.2L279.1,755.0L280.3,756.2L281.3,757.0L282.7,757.8L284.2,758.3L285.6,758.5L287.8,758.8" stroke="rgb(138,229,181)" stroke-width="1.0" fill="none"/>
<path d="M265.8,747.1L268.5,747.1L270.4,747.2L272.1,747.5L273.5,748.1L274.7,748.9L275.9,749.9L280.3,755.1L281.5,756.3L282.7,757.2L284.2,757.9L285.6,758.3L289.2,758.8" stroke="rgb(134,228,179)" stroke-width="1.0" fill="none"/>
<path d="M265.8,746.7L269.4,746.6L271.8,746.7L273.8,747.0L275.5,747.6L276.9,748.5L278.1,749.5L279.3,750.8L282.7,755.1L284.2,756.5L284.9,757.0L286.3,757.8L287.8,758.3L289.2,758.6L291.4,758.8" stroke="rgb(129,227,176)" stroke-width="1.0" fill="none"/>
<path d="M265.8,746.3L271.8,746.2L275.5,746.2L278.1,746.5L280.1,747.1L281.7,748.0L283.4,749.5L287.8,754.9L289.2,756.4L290.0,756.9L291.4,757.8L292.9,758.3L294.3,758.5L296.5,758.8" stroke="rgb(125,226,174)" stroke-width="1.0" fill="none"/>
<path d="M265.8,745.8L284.2,745.8L287.8,746.0L290.0,746.4L292.1,747.3L293.6,748.4L295.0,749.9L298.7,754.7L300.1,756.2L300.8,756.8L302.3,757.7L303.7,758.2L305.9,758.6L308.1,758.8" stroke="rgb(121,225,171)" stroke-width="1.0" fill="none"/>
<path d="M265.8,745.5L288.5,745.5L292.9,745.4L295.8,745.2L297.9,744.7L300.1,743.9L301.6,743.1L305.9,740.3L308.1,739.3L311.0,738.5L314.6,738.1" stroke="rgb(117,224,168)" stroke-width="1.0" fill="none"/>
<path d="M265.8,745.2L277.4,745.3L280.3,745.1L282.7,744.7L284.9,744.0L286.3,743.3L291.4,740.2L293.6,739.2L296.5,738.5L300.1,738.1" stroke="rgb(113,223,166)" stroke-width="1.0" fill="none"/>
<path d="M265.8,744.9L272.3,744.9L274.5,744.7L276.4,744.4L278.1,743.8L279.6,743.2L284.2,740.4L286.3,739.3L289.2,738.5L293.6,738.1" stroke="rgb(108,222,163)" stroke-width="1.0" fill="none"/>
<path d="M265.8,744.6L270.4,744.6L272.1,744.4L273.8,744.0L276.4,743.0L281.3,740.2L283.4,739.2L286.3,738.5L290.0,738.1" stroke="rgb(104,221,160)" stroke-width="1.0" fill="none"/>
<path d="M265.8,744.3L269.7,744.3L272.6,743.8L275.2,742.8L279.8,740.2L282.0,739.2L284.9,738.5L288.5,738.1" stroke="rgb(100,221,158)" stroke-width="1.0" fill="none"/>
<path d="M265.8,744.1L269.4,744.0L272.1,743.5L274.5,742.6L279.1,740.1L281.3,739.2L284.2,738.5L287.8,738.1" stroke="rgb(96,220,155)" stroke-width="1.0" fill="none"/>
<path d="M265.8,743.8L269.2,743.7L271.8,743.3L274.3,742.5L278.8,740.0L281.0,739.1L284.2,738.4L287.8,738.1" stroke="rgb(92,219,153)" stroke-width="1.0" fill="none"/>
<path d="M265.8,743.5L269.4,743.5L272.1,743.0L274.3,742.3L278.6,740.0L280.8,739.1L283.4,738.5L287.1,738.1" stroke="rgb(88,218,150)" stroke-width="1.0" fill="none"/>
<path d="M265.8,743.2L269.4,743.2L272.1,742.8L274.3,742.1L278.6,740.0L280.8,739.1L283.4,738.5L287.1,738.1" stroke="rgb(83,217,147)" stroke-width="1.0" fill="none"/>
<path d="M265.8,742.9L269.4,743.0L272.1,742.6L274.3,741.9L278.6,739.9L280.8,739.1L283.4,738.5L287.1,738.1" stroke="rgb(79,216,145)" stroke-width="1.0" fill="none"/>
<path d="M265.8,742.6L269.4,742.7L272.1,742.4L274.3,741.8L278.8,739.7L281.0,739.0L283.4,738.5L287.1,738.1" stroke="rgb(75,215,142)" stroke-width="1.0" fill="none"/>
<path d="M265.8,742.3L269.2,742.5L272.1,742.2L274.5,741.6L278.8,739.7L281.0,738.9L283.4,738.4L287.1,738.1" stroke="rgb(71,214,139)" stroke-width="1.0" fill="none"/>
<path d="M265.8,742.0L269.4,742.3L272.3,742.0L274.5,741.4L278.8,739.6L281.0,738.9L283.4,738.4L287.1,738.1" stroke="rgb(67,213,137)" stroke-width="1.0" fill="none"/>
<path d="M265.8,741.7L269.4,742.0L272.3,741.8L274.7,741.2L278.8,739.6L281.0,738.9L283.4,738.4L287.1,738.1" stroke="rgb(62,212,134)" stroke-width="1.0" fill="none"/>
<path d="M265.8,741.5L269.4,741.8L272.3,741.7L274.7,741.1L278.8,739.5L281.0,738.9L283.4,738.4L287.1,738.1" stroke="rgb(58,211,132)" stroke-width="1.0" fill="none"/>
<path d="M265.8,741.2L269.7,741.6L272.6,741.4L274.7,740.9L279.1,739.4L281.0,738.8L283.4,738.4L286.3,738.2" stroke="rgb(54,210,129)" stroke-width="1.0" fill="none"/>
<path d="M265.8,740.9L269.7,741.3L272.6,741.3L275.0,740.7L279.1,739.3L281.0,738.8L283.4,738.4L286.3,738.2" stroke="rgb(50,209,126)" stroke-width="1.0" fill="none"/>
<path d="M265.8,740.6L269.7,741.1L272.8,741.1L275.0,740.6L281.0,738.8L283.4,738.4L286.3,738.1" stroke="rgb(46,208,124)" stroke-width="1.0" fill="none"/>
<path d="M265.8,740.3L269.7,740.9L272.8,740.9L275.2,740.4L281.3,738.7L283.4,738.4L286.3,738.1" stroke="rgb(41,207,121)" stroke-width="1.0" fill="none"/>
<path d="M265.8,740.0L269.9,740.7L273.0,740.7L275.2,740.3L281.3,738.7L283.4,738.4L286.3,738.1" stroke="rgb(37,207,118)" stroke-width="1.0" fill="none"/>
<path d="M265.8,739.7L269.9,740.5L273.0,740.5L275.2,740.2L281.5,738.6L286.3,738.1" stroke="rgb(33,206,116)" stroke-width="1.0" fill="none"/>
<path d="M265.8,739.4L269.9,740.2L273.0,740.4L275.5,740.0L281.5,738.6L286.3,738.1" stroke="rgb(29,205,113)" stroke-width="1.0" fill="none"/>
<path d="M265.8,739.1L269.9,740.0L271.6,740.2L273.3,740.2L275.7,739.9L281.5,738.6L286.3,738.1" stroke="rgb(25,204,111)" stroke-width="1.0" fill="none"/>
<path d="M265.8,738.9L269.9,739.8L271.6,740.0L273.3,740.0L275.7,739.8L281.7,738.5L286.3,738.1" stroke="rgb(21,203,108)" stroke-width="1.0" fill="none"/>
<path d="M265.8,738.6L270.1,739.6L271.8,739.8L273.5,739.9L275.9,739.6L282.0,738.5L286.3,738.1" stroke="rgb(16,202,105)" stroke-width="1.0" fill="none"/>
<path d="M265.8,738.3L270.1,739.4L273.5,739.7L275.9,739.5L282.0,738.5L285.6,738.2" stroke="rgb(12,201,103)" stroke-width="1.0" fill="none"/>
<path d="M265.8,728.9L266.3,732.5L267.0,735.6L267.5,736.8L268.0,737.6L268.7,738.3L269.4,738.7L271.6,739.4L274.5,739.5L276.4,739.3L281.7,738.5L285.6,738.1" stroke="rgb(8,200,100)" stroke-width="1.0" fill="none"/>
<path d="M285.6,758.92L426.9,758.92" stroke="rgb(121,225,171)" stroke-width="1.3" fill="none"/>
<path d="M285.6,737.99L426.9,737.99" stroke="rgb(8,200,100)" stroke-width="1.3" fill="none"/>
<path d="M442.5,740.8L442.9,741.5L444.1,745.1L444.9,746.5L445.7,747.3L446.5,747.8L448.1,748.4L452.6,749.1L456.6,749.5L462.6,749.9L494.9,751.5L503.0,752.0L511.0,752.8L515.0,753.4L519.1,754.3L523.1,755.3L535.2,758.9L539.2,759.7L543.2,760.4L547.3,760.8L551.3,761.1L559.4,761.3L603.7,761.3L603.7,761.3L442.5,761.3Z" stroke="rgb(8,200,100)" stroke-width="1.0" fill="rgb(8,200,100)"/>
<path d="M442.5,740.8L442.9,741.6L444.1,745.3L444.9,746.7L445.7,747.5L446.5,748.0L448.1,748.5L452.6,749.2L456.6,749.6L462.6,750.0L494.9,751.6L503.0,752.1L511.0,752.9L515.0,753.6L519.1,754.5L535.2,759.1L539.2,759.9L543.2,760.5L547.3,760.9L551.3,761.2L559.4,761.3L603.7,761.3L603.7,761.3L442.5,761.3Z" stroke="rgb(12,201,103)" stroke-width="1.0" fill="rgb(12,201,103)"/>
<path d="M442.5,740.8L442.7,741.1L444.1,745.4L444.9,746.8L445.7,747.6L446.5,748.1L448.1,748.6L452.6,749.3L456.6,749.7L462.6,750.1L494.9,751.7L503.0,752.3L511.0,753.1L515.0,753.8L519.1,754.7L531.2,758.3L535.2,759.3L539.2,760.1L543.2,760.6L547.3,761.0L555.3,761.3L603.7,761.3L603.7,761.3L442.5,761.3Z" stroke="rgb(16,202,105)" stroke-width="1.0" fill="rgb(16,202,105)"/>
<path d="M442.5,740.8L444.1,745.6L444.9,746.9L445.7,747.7L446.5,748.2L448.1,748.7L452.6,749.4L456.6,749.8L462.6,750.2L494.9,751.8L503.0,752.4L511.0,753.3L515.0,754.0L519.1,755.0L531.2,758.6L535.2,759.5L539.2,760.3L547.3,761.1L555.3,761.3L603.7,761.3L603.7,761.3L442.5,761.3Z" stroke="rgb(21,203,108)" stroke-width="1.0" fill="rgb(21,203,108)"/>
<path d="M442.5,740.8L444.1,745.7L444.9,747.1L445.7,747.9L446.5,748.3L448.1,748.8L452.6,749.5L456.6,749.9L462.6,750.3L494.9,751.9L507.0,752.9L511.0,753.4L515.0,754.3L519.1,755.3L531.2,758.9L535.2,759.7L539.2,760.4L543.2,760.9L547.3,761.1L555.3,761.3L603.7,761.3L603.7,761.3L442.5,761.3Z" stroke="rgb(25,204,111)" stroke-width="1.0" fill="rgb(25,204,111)"/>
<path d="M442.5,740.8L444.1,745.8L444.5,746.7L445.3,747.7L446.5,748.5L447.3,748.7L449.4,749.2L452.6,749.7L456.6,750.0L462.6,750.4L494.9,752.0L507.0,753.1L511.0,753.6L515.0,754.5L519.1,755.5L531.2,759.1L535.2,759.9L539.2,760.6L543.2,760.9L551.3,761.3L603.7,761.3L603.7,761.3L442.5,761.3Z" stroke="rgb(29,205,113)" stroke-width="1.0" fill="rgb(29,205,113)"/>
<path d="M442.5,740.8L444.1,746.0L444.5,746.8L445.3,747.8L446.5,748.6L447.3,748.9L449.4,749.3L452.6,749.8L456.6,750.2L462.6,750.5L490.9,751.9L498.9,752.4L507.0,753.2L511.0,753.8L515.0,754.7L519.1,755.8L527.1,758.3L531.2,759.3L535.2,760.1L539.2,760.7L543.2,761.0L551.3,761.3L603.7,761.3L603.7,761.3L442.5,761.3Z" stroke="rgb(33,206,116)" stroke-width="1.0" fill="rgb(33,206,116)"/>
<path d="M442.5,740.8L444.1,746.1L444.5,747.0L445.3,747.9L446.5,748.7L447.3,749.0L449.4,749.4L452.6,749.9L456.6,750.3L462.6,750.6L490.9,752.0L498.9,752.6L507.0,753.4L511.0,754.0L515.0,755.0L527.1,758.6L531.2,759.6L535.2,760.3L543.2,761.1L551.3,761.3L603.7,761.3L603.7,761.3L442.5,761.3Z" stroke="rgb(37,207,118)" stroke-width="1.0" fill="rgb(37,207,118)"/>
<path d="M442.5,740.8L443.7,745.2L444.1,746.3L444.5,747.1L445.3,748.1L446.5,748.8L447.3,749.1L449.4,749.5L452.6,750.0L456.6,750.4L462.6,750.7L490.9,752.1L498.9,752.7L507.0,753.5L511.0,754.3L515.0,755.3L527.1,758.9L531.2,759.8L535.2,760.5L539.2,760.9L543.2,761.2L551.3,761.3L603.7,761.3L603.7,761.3L442.5,761.3Z" stroke="rgb(41,207,121)" stroke-width="1.0" fill="rgb(41,207,121)"/>
<path d="M442.5,740.8L443.3,744.0L444.1,746.4L444.5,747.2L445.3,748.2L446.5,749.0L447.3,749.2L449.4,749.6L452.6,750.1L462.6,750.8L490.9,752.2L498.9,752.8L507.0,753.7L511.0,754.5L515.0,755.5L527.1,759.2L531.2,760.0L535.2,760.6L539.2,761.0L547.3,761.3L603.7,761.3L603.7,761.3L442.5,761.3Z" stroke="rgb(46,208,124)" stroke-width="1.0" fill="rgb(46,208,124)"/>
<path d="M442.5,740.8L443.3,744.1L444.1,746.6L444.5,747.4L445.3,748.4L446.5,749.1L447.3,749.3L449.4,749.8L452.6,750.2L462.6,750.9L490.9,752.3L503.0,753.4L507.0,753.9L511.0,754.8L515.0,755.8L523.1,758.3L527.1,759.4L531.2,760.2L535.2,760.7L539.2,761.1L547.3,761.3L603.7,761.3L603.7,761.3L442.5,761.3Z" stroke="rgb(50,209,126)" stroke-width="1.0" fill="rgb(50,209,126)"/>
<path d="M442.5,740.8L443.7,745.7L444.5,747.5L444.9,748.1L445.7,748.8L446.5,749.2L448.1,749.7L452.6,750.3L456.6,750.7L486.8,752.2L494.9,752.8L503.0,753.5L507.0,754.1L511.0,755.0L515.0,756.1L523.1,758.6L527.1,759.6L531.2,760.4L535.2,760.8L543.2,761.3L603.7,761.3L603.7,761.3L442.5,761.3Z" stroke="rgb(54,210,129)" stroke-width="1.0" fill="rgb(54,210,129)"/>
<path d="M442.5,740.8L443.7,745.8L444.5,747.7L444.9,748.2L445.7,749.0L446.5,749.3L448.1,749.8L452.6,750.5L456.6,750.8L486.8,752.3L494.9,752.9L503.0,753.7L507.0,754.3L511.0,755.3L523.1,758.9L527.1,759.9L531.2,760.5L535.2,761.0L543.2,761.3L603.7,761.3L603.7,761.3L442.5,761.3Z" stroke="rgb(58,211,132)" stroke-width="1.0" fill="rgb(58,211,132)"/>
<path d="M442.5,740.8L443.7,746.0L444.5,747.9L444.9,748.4L445.7,749.1L446.5,749.5L448.1,749.9L452.6,750.6L456.6,750.9L486.8,752.5L494.9,753.0L503.0,753.8L507.0,754.6L511.0,755.6L523.1,759.2L527.1,760.1L531.2,760.7L535.2,761.0L543.2,761.3L603.7,761.3L603.7,761.3L442.5,761.3Z" stroke="rgb(62,212,134)" stroke-width="1.0" fill="rgb(62,212,134)"/>
<path d="M442.5,740.8L443.7,746.1L444.5,748.0L444.9,748.5L445.7,749.3L446.5,749.6L448.1,750.0L452.6,750.7L456.6,751.0L486.8,752.6L494.9,753.2L503.0,754.0L507.0,754.8L511.0,755.9L519.1,758.4L523.1,759.5L527.1,760.3L531.2,760.8L535.2,761.1L543.2,761.3L603.7,761.3L603.7,761.3L442.5,761.3Z" stroke="rgb(67,213,137)" stroke-width="1.0" fill="rgb(67,213,137)"/>
<path d="M442.5,740.8L443.7,746.3L444.5,748.2L444.9,748.7L445.7,749.4L447.3,750.0L450.6,750.6L456.6,751.2L486.8,752.7L498.9,753.7L503.0,754.2L507.0,755.1L511.0,756.2L519.1,758.7L523.1,759.7L527.1,760.5L531.2,760.9L539.2,761.3L603.7,761.3L603.7,761.3L442.5,761.3Z" stroke="rgb(71,214,139)" stroke-width="1.0" fill="rgb(71,214,139)"/>
<path d="M442.5,740.8L443.7,746.4L444.5,748.3L444.9,748.9L445.7,749.5L447.3,750.1L450.6,750.7L456.6,751.3L486.8,752.8L498.9,753.9L503.0,754.5L507.0,755.4L519.1,759.0L523.1,760.0L527.1,760.6L531.2,761.0L539.2,761.3L603.7,761.3L603.7,761.3L442.5,761.3Z" stroke="rgb(75,215,142)" stroke-width="1.0" fill="rgb(75,215,142)"/>
<path d="M442.5,740.8L443.3,745.0L444.1,747.7L444.5,748.5L445.3,749.4L445.7,749.7L447.3,750.3L450.6,750.8L456.6,751.4L486.8,753.0L494.9,753.6L498.9,754.0L503.0,754.7L507.0,755.7L519.1,759.3L523.1,760.2L527.1,760.8L531.2,761.1L539.2,761.3L603.7,761.3L603.7,761.3L442.5,761.3Z" stroke="rgb(79,216,145)" stroke-width="1.0" fill="rgb(79,216,145)"/>
<path d="M442.5,740.8L443.3,745.2L444.1,747.9L444.5,748.6L445.3,749.6L446.5,750.2L447.3,750.4L450.6,750.9L454.6,751.4L486.8,753.1L494.9,753.7L498.9,754.2L503.0,755.0L507.0,756.0L515.0,758.5L519.1,759.6L523.1,760.4L527.1,760.9L535.2,761.3L603.7,761.3L603.7,761.3L442.5,761.3Z" stroke="rgb(83,217,147)" stroke-width="1.0" fill="rgb(83,217,147)"/>
<path d="M442.5,740.8L443.3,745.3L444.1,748.0L444.5,748.8L445.3,749.7L446.5,750.3L447.3,750.5L450.6,751.1L454.6,751.5L486.8,753.2L494.9,753.9L498.9,754.4L503.0,755.2L507.0,756.3L515.0,758.9L519.1,759.9L523.1,760.6L527.1,761.0L535.2,761.3L603.7,761.3L603.7,761.3L442.5,761.3Z" stroke="rgb(88,218,150)" stroke-width="1.0" fill="rgb(88,218,150)"/>
<path d="M442.5,740.8L443.3,745.5L444.1,748.2L444.5,749.0L445.3,749.9L446.5,750.4L447.3,750.7L450.6,751.2L454.6,751.6L482.8,753.1L494.9,754.1L498.9,754.6L503.0,755.5L515.0,759.2L519.1,760.1L523.1,760.7L527.1,761.1L535.2,761.3L603.7,761.3L603.7,761.3L442.5,761.3Z" stroke="rgb(92,219,153)" stroke-width="1.0" fill="rgb(92,219,153)"/>
<path d="M442.5,740.8L443.3,745.6L444.1,748.4L444.5,749.1L445.3,750.0L446.5,750.6L447.3,750.8L450.6,751.3L454.6,751.7L482.8,753.2L494.9,754.2L498.9,754.9L503.0,755.8L515.0,759.5L519.1,760.3L523.1,760.9L527.1,761.2L531.2,761.3L603.7,761.3L603.7,761.3L442.5,761.3Z" stroke="rgb(96,220,155)" stroke-width="1.0" fill="rgb(96,220,155)"/>
<path d="M442.5,740.8L443.3,745.7L444.1,748.5L444.5,749.3L445.3,750.2L446.5,750.7L447.3,750.9L450.6,751.5L454.6,751.9L482.8,753.4L490.9,754.0L494.9,754.4L498.9,755.1L503.0,756.1L511.0,758.7L515.0,759.8L519.1,760.5L523.1,761.0L531.2,761.3L603.7,761.3L603.7,761.3L442.5,761.3Z" stroke="rgb(100,221,158)" stroke-width="1.0" fill="rgb(100,221,158)"/>
<path d="M442.5,740.8L443.3,745.9L444.1,748.7L444.9,750.0L445.7,750.6L446.5,750.9L449.4,751.4L454.6,752.0L482.8,753.5L490.9,754.1L494.9,754.6L498.9,755.4L503.0,756.5L511.0,759.0L515.0,760.0L519.1,760.7L523.1,761.1L531.2,761.3L603.7,761.3L603.7,761.3L442.5,761.3Z" stroke="rgb(104,221,160)" stroke-width="1.0" fill="rgb(104,221,160)"/>
<path d="M442.5,740.8L443.3,746.0L444.1,748.9L444.9,750.2L445.7,750.7L446.5,751.0L450.6,751.8L454.6,752.1L482.8,753.6L490.9,754.3L494.9,754.8L498.9,755.7L503.0,756.8L511.0,759.4L515.0,760.3L519.1,760.8L523.1,761.2L527.1,761.3L603.7,761.3L603.7,761.3L442.5,761.3Z" stroke="rgb(108,222,163)" stroke-width="1.0" fill="rgb(108,222,163)"/>
<path d="M442.5,740.8L443.3,746.2L444.1,749.1L444.9,750.3L445.7,750.9L446.5,751.2L450.6,751.9L454.6,752.3L478.8,753.5L490.9,754.5L494.9,755.1L498.9,756.0L511.0,759.7L515.0,760.5L519.1,761.0L527.1,761.3L603.7,761.3L603.7,761.3L442.5,761.3Z" stroke="rgb(113,223,166)" stroke-width="1.0" fill="rgb(113,223,166)"/>
<path d="M442.5,740.8L443.3,746.4L444.1,749.3L444.9,750.5L445.7,751.0L446.5,751.3L450.6,752.0L454.6,752.4L478.8,753.7L486.8,754.3L490.9,754.7L494.9,755.3L498.9,756.3L507.0,758.9L511.0,760.0L515.0,760.7L519.1,761.1L527.1,761.3L603.7,761.3L603.7,761.3L442.5,761.3Z" stroke="rgb(117,224,168)" stroke-width="1.0" fill="rgb(117,224,168)"/>
<path d="M442.5,740.8L443.3,746.5L444.1,749.4L444.9,750.7L445.7,751.2L446.5,751.5L450.6,752.2L454.6,752.5L478.8,753.8L486.8,754.4L490.9,754.9L494.9,755.6L498.9,756.7L507.0,759.3L511.0,760.2L515.0,760.8L519.1,761.2L523.1,761.3L603.7,761.3L603.7,761.3L442.5,761.3Z" stroke="rgb(121,225,171)" stroke-width="1.0" fill="rgb(121,225,171)"/>
<path d="M442.5,740.8L443.3,746.7L444.1,749.6L444.9,750.9L445.7,751.4L446.5,751.7L449.4,752.2L452.6,752.5L478.8,754.0L486.8,754.6L490.9,755.1L494.9,755.9L507.0,759.6L511.0,760.5L515.0,761.0L523.1,761.3L603.7,761.3L603.7,761.3L442.5,761.3Z" stroke="rgb(125,226,174)" stroke-width="1.0" fill="rgb(125,226,174)"/>
<path d="M442.5,740.8L443.3,746.8L443.7,748.6L444.1,749.8L444.9,751.0L445.7,751.5L446.5,751.8L449.4,752.3L452.6,752.7L478.8,754.1L486.8,754.8L490.9,755.3L494.9,756.3L503.0,758.8L507.0,759.9L511.0,760.7L515.0,761.1L523.1,761.3L603.7,761.3L603.7,761.3L442.5,761.3Z" stroke="rgb(129,227,176)" stroke-width="1.0" fill="rgb(129,227,176)"/>
<path d="M442.5,740.8L443.3,747.0L443.7,748.8L444.1,750.0L444.9,751.2L445.7,751.7L446.5,752.0L449.4,752.5L452.6,752.8L474.7,754.0L482.8,754.6L486.8,755.0L490.9,755.6L494.9,756.6L503.0,759.2L507.0,760.2L511.0,760.9L515.0,761.2L519.1,761.3L603.7,761.3L603.7,761.3L442.5,761.3Z" stroke="rgb(134,228,179)" stroke-width="1.0" fill="rgb(134,228,179)"/>
<path d="M442.5,740.8L443.3,747.2L443.7,749.0L444.1,750.2L444.9,751.4L445.7,751.9L446.5,752.1L449.4,752.6L452.6,753.0L474.7,754.2L482.8,754.8L486.8,755.2L490.9,755.9L494.9,757.0L503.0,759.6L507.0,760.5L511.0,761.0L515.0,761.3L519.1,761.3L603.7,761.3L603.7,761.3L442.5,761.3Z" stroke="rgb(138,229,181)" stroke-width="1.0" fill="rgb(138,229,181)"/>
<path d="M442.5,740.8L443.3,747.3L443.7,749.2L444.1,750.4L444.9,751.6L445.7,752.1L446.5,752.3L449.4,752.8L452.6,753.1L474.7,754.3L482.8,755.0L486.8,755.4L490.9,756.3L503.0,760.0L507.0,760.7L511.0,761.1L519.1,761.3L603.7,761.3L603.7,761.3L442.5,761.3Z" stroke="rgb(142,230,184)" stroke-width="1.0" fill="rgb(142,230,184)"/>
<path d="M442.5,740.8L443.3,747.5L443.7,749.4L444.1,750.6L444.9,751.8L445.7,752.2L446.5,752.5L449.4,753.0L452.6,753.3L474.7,754.5L482.8,755.1L486.8,755.7L490.9,756.6L498.9,759.2L503.0,760.3L507.0,760.9L511.0,761.2L515.0,761.3L603.7,761.3L603.7,761.3L442.5,761.3Z" stroke="rgb(146,231,187)" stroke-width="1.0" fill="rgb(146,231,187)"/>
<path d="M442.5,740.8L443.1,746.4L443.7,749.6L444.1,750.8L444.5,751.5L444.9,752.0L445.7,752.4L448.1,753.0L452.6,753.4L474.7,754.7L482.8,755.4L486.8,756.0L490.9,757.0L498.9,759.6L503.0,760.5L507.0,761.0L511.0,761.3L515.0,761.3L603.7,761.3L603.7,761.3L442.5,761.3Z" stroke="rgb(150,232,189)" stroke-width="1.0" fill="rgb(150,232,189)"/>
<path d="M442.5,740.8L443.1,746.5L443.7,749.8L444.1,751.0L444.5,751.7L444.9,752.1L445.7,752.6L448.1,753.1L452.6,753.6L474.7,754.8L482.8,755.6L486.8,756.3L490.9,757.4L498.9,760.0L503.0,760.8L507.0,761.2L511.0,761.3L603.7,761.3L603.7,761.3L442.5,761.3Z" stroke="rgb(155,233,192)" stroke-width="1.0" fill="rgb(155,233,192)"/>
<path d="M442.5,740.8L443.1,746.7L443.7,750.0L444.1,751.2L444.5,751.9L444.9,752.3L445.7,752.8L447.3,753.2L450.6,753.6L474.7,755.0L482.8,755.8L486.8,756.7L494.9,759.3L498.9,760.3L503.0,761.0L507.0,761.2L511.0,761.3L603.7,761.3L603.7,761.3L442.5,761.3Z" stroke="rgb(159,234,195)" stroke-width="1.0" fill="rgb(159,234,195)"/>
<path d="M442.5,740.8L443.1,746.9L443.7,750.2L444.1,751.4L444.5,752.1L444.9,752.5L445.7,753.0L447.3,753.4L450.6,753.8L474.7,755.2L482.8,756.1L486.8,757.1L494.9,759.7L498.9,760.6L503.0,761.1L507.0,761.3L511.0,761.3L603.7,761.3L603.7,761.3L442.5,761.3Z" stroke="rgb(163,234,197)" stroke-width="1.0" fill="rgb(163,234,197)"/>
<path d="M442.5,740.8L443.1,747.1L443.7,750.4L444.1,751.6L444.5,752.3L444.9,752.7L445.7,753.2L447.3,753.5L450.6,753.9L470.7,755.1L478.8,755.8L482.8,756.4L486.8,757.5L494.9,760.1L498.9,760.9L503.0,761.2L507.0,761.3L603.7,761.3L603.7,761.3L442.5,761.3Z" stroke="rgb(167,235,200)" stroke-width="1.0" fill="rgb(167,235,200)"/>
<path d="M442.5,740.8L443.1,747.2L443.7,750.7L444.1,751.8L444.5,752.5L444.9,752.9L445.7,753.4L447.3,753.7L450.6,754.1L470.7,755.3L478.8,756.0L482.8,756.8L486.8,758.0L490.9,759.4L494.9,760.4L498.9,761.0L503.0,761.3L507.0,761.3L603.7,761.3L603.7,761.3L442.5,761.3Z" stroke="rgb(171,236,202)" stroke-width="1.0" fill="rgb(171,236,202)"/>
<path d="M442.5,740.8L443.1,747.4L443.7,750.9L444.1,752.1L444.5,752.8L444.9,753.1L445.7,753.6L447.3,753.9L450.6,754.3L470.7,755.5L478.8,756.3L482.8,757.2L490.9,759.9L494.9,760.7L498.9,761.2L503.0,761.3L603.7,761.3L603.7,761.3L442.5,761.3Z" stroke="rgb(175,237,205)" stroke-width="1.0" fill="rgb(175,237,205)"/>
<path d="M442.5,740.8L443.1,747.6L443.7,751.1L444.1,752.3L444.5,753.0L444.9,753.4L445.7,753.8L447.3,754.1L450.6,754.5L470.7,755.7L474.7,756.0L478.8,756.6L482.8,757.6L490.9,760.3L494.9,761.0L498.9,761.3L503.0,761.3L603.7,761.3L603.7,761.3L442.5,761.3Z" stroke="rgb(180,238,208)" stroke-width="1.0" fill="rgb(180,238,208)"/>
<path d="M442.5,740.8L443.1,747.8L443.7,751.3L444.1,752.5L444.5,753.2L444.9,753.6L445.7,754.0L447.3,754.3L450.6,754.7L466.7,755.6L474.7,756.3L478.8,757.0L482.8,758.2L486.8,759.6L490.9,760.6L494.9,761.1L498.9,761.3L503.0,761.3L603.7,761.3L603.7,761.3L442.5,761.3Z" stroke="rgb(184,239,210)" stroke-width="1.0" fill="rgb(184,239,210)"/>
<path d="M442.5,740.8L443.1,748.0L443.7,751.6L444.1,752.8L444.5,753.4L445.3,754.0L446.5,754.4L449.4,754.8L466.7,755.8L474.7,756.6L478.8,757.4L486.8,760.1L490.9,760.9L494.9,761.3L498.9,761.3L603.7,761.3L603.7,761.3L442.5,761.3Z" stroke="rgb(188,240,213)" stroke-width="1.0" fill="rgb(188,240,213)"/>
<path d="M442.5,740.8L443.1,748.2L443.7,751.8L444.1,753.0L444.5,753.7L445.3,754.3L446.5,754.6L449.4,755.0L466.7,756.0L470.7,756.4L474.7,756.9L478.8,757.9L482.8,759.3L486.8,760.5L490.9,761.1L494.9,761.3L498.9,761.3L603.7,761.3L603.7,761.3L442.5,761.3Z" stroke="rgb(192,241,216)" stroke-width="1.0" fill="rgb(192,241,216)"/>
<path d="M442.5,740.8L443.1,748.4L443.7,752.1L444.1,753.3L444.5,753.9L445.3,754.5L446.5,754.9L449.4,755.2L462.6,756.0L470.7,756.6L474.7,757.3L478.8,758.5L482.8,759.9L486.8,760.9L490.9,761.2L494.9,761.3L603.7,761.3L603.7,761.3L442.5,761.3Z" stroke="rgb(196,242,218)" stroke-width="1.0" fill="rgb(196,242,218)"/>
<path d="M442.5,740.8L443.1,748.6L443.7,752.3L444.1,753.5L444.5,754.2L445.3,754.8L446.5,755.1L449.4,755.4L462.6,756.2L470.7,756.9L474.7,757.7L482.8,760.4L486.8,761.1L490.9,761.3L494.9,761.3L603.7,761.3L603.7,761.3L442.5,761.3Z" stroke="rgb(201,243,221)" stroke-width="1.0" fill="rgb(201,243,221)"/>
<path d="M442.5,740.8L443.1,748.8L443.7,752.6L444.1,753.8L444.5,754.4L445.3,755.0L446.5,755.3L449.4,755.7L462.6,756.5L466.7,756.8L470.7,757.3L474.7,758.3L478.8,759.8L482.8,760.8L486.8,761.3L490.9,761.3L603.7,761.3L603.7,761.3L442.5,761.3Z" stroke="rgb(205,244,223)" stroke-width="1.0" fill="rgb(205,244,223)"/>
<path d="M442.5,740.8L443.1,749.1L443.7,752.9L444.1,754.0L444.5,754.7L445.3,755.3L446.5,755.6L448.1,755.8L462.6,756.7L466.7,757.1L470.7,757.7L478.8,760.4L482.8,761.1L486.8,761.3L603.7,761.3L603.7,761.3L442.5,761.3Z" stroke="rgb(209,245,226)" stroke-width="1.0" fill="rgb(209,245,226)"/>
<path d="M442.5,740.8L442.9,747.1L443.3,751.0L443.7,753.2L444.1,754.3L444.5,755.0L444.9,755.3L445.7,755.7L448.1,756.1L462.6,757.0L466.7,757.4L470.7,758.2L474.7,759.7L478.8,760.8L482.8,761.3L486.8,761.3L603.7,761.3L603.7,761.3L442.5,761.3Z" stroke="rgb(213,246,229)" stroke-width="1.0" fill="rgb(213,246,229)"/>
<path d="M442.5,740.8L442.9,747.3L443.3,751.3L443.7,753.5L444.1,754.6L444.5,755.3L444.9,755.6L445.7,756.0L447.3,756.3L462.6,757.3L466.7,757.8L470.7,758.9L474.7,760.4L478.8,761.1L482.8,761.3L603.7,761.3L603.7,761.3L442.5,761.3Z" stroke="rgb(217,247,231)" stroke-width="1.0" fill="rgb(217,247,231)"/>
<path d="M442.5,740.8L442.9,747.5L443.3,751.6L443.7,753.8L444.1,754.9L444.5,755.6L444.9,755.9L445.7,756.3L447.3,756.6L462.6,757.6L466.7,758.3L470.7,759.7L474.7,760.9L478.8,761.3L482.8,761.3L603.7,761.3L603.7,761.3L442.5,761.3Z" stroke="rgb(222,248,234)" stroke-width="1.0" fill="rgb(222,248,234)"/>
<path d="M442.5,740.8L442.9,747.7L443.3,751.9L443.7,754.1L444.1,755.3L444.5,755.9L444.9,756.3L445.7,756.6L447.3,756.9L458.6,757.6L462.6,758.0L466.7,759.0L470.7,760.5L474.7,761.2L478.8,761.3L603.7,761.3L603.7,761.3L442.5,761.3Z" stroke="rgb(226,248,237)" stroke-width="1.0" fill="rgb(226,248,237)"/>
<path d="M442.5,740.8L442.9,748.0L443.3,752.2L443.7,754.4L444.1,755.6L444.5,756.2L444.9,756.6L445.7,757.0L447.3,757.2L458.6,758.0L462.6,758.5L466.7,759.9L470.7,761.1L474.7,761.3L603.7,761.3L603.7,761.3L442.5,761.3Z" stroke="rgb(230,249,239)" stroke-width="1.0" fill="rgb(230,249,239)"/>
<path d="M442.5,740.8L442.9,748.3L443.3,752.5L443.7,754.8L444.1,756.0L444.5,756.6L444.9,757.0L445.7,757.3L447.3,757.6L458.6,758.4L462.6,759.3L466.7,760.8L470.7,761.3L603.7,761.3L603.7,761.3L442.5,761.3Z" stroke="rgb(234,250,242)" stroke-width="1.0" fill="rgb(234,250,242)"/>
<path d="M442.5,740.8L442.9,748.5L443.3,752.9L443.7,755.2L444.1,756.4L444.5,757.1L444.9,757.4L445.7,757.7L446.5,757.9L454.6,758.4L458.6,759.0L462.6,760.4L466.7,761.3L603.7,761.3L603.7,761.3L442.5,761.3Z" stroke="rgb(238,251,244)" stroke-width="1.0" fill="rgb(238,251,244)"/>
<path d="M442.5,740.8L442.9,748.9L443.3,753.3L443.7,755.7L444.1,756.9L444.5,757.5L445.3,758.1L446.5,758.3L452.6,758.8L456.6,759.3L462.6,761.2L466.7,761.3L603.7,761.3L603.7,761.3L442.5,761.3Z" stroke="rgb(242,252,247)" stroke-width="1.0" fill="rgb(242,252,247)"/>
<path d="M442.5,740.8L442.9,749.3L443.3,753.8L443.7,756.2L444.1,757.4L444.5,758.1L444.9,758.5L445.7,758.8L452.6,759.4L454.6,759.8L456.6,760.6L458.6,761.2L462.6,761.3L603.7,761.3L603.7,761.3L442.5,761.3Z" stroke="rgb(247,253,250)" stroke-width="1.0" fill="rgb(247,253,250)"/>
<path d="M442.5,740.8L443.1,752.5L443.7,756.9L444.1,758.2L444.5,758.8L445.3,759.4L450.6,760.0L452.6,760.7L454.6,761.3L603.7,761.3L603.7,761.3L442.5,761.3Z" stroke="rgb(251,254,252)" stroke-width="1.0" fill="rgb(251,254,252)"/>
<path d="M442.5,740.8L443.1,753.8L443.7,758.6L444.1,759.9L444.5,760.6L444.9,761.0L445.7,761.2L449.4,761.3L603.7,761.3L603.7,761.3L442.5,761.3Z" stroke="rgb(255,255,255)" stroke-width="1.0" fill="rgb(255,255,255)"/>
<path d="M442.5,740.8L442.9,741.5L444.1,745.1L444.9,746.5L445.7,747.3L446.5,747.8L448.1,748.4L452.6,749.1L456.6,749.5L462.6,749.9L494.9,751.5L503.0,752.0L511.0,752.8L515.0,753.4L519.1,754.3L523.1,755.3L535.2,758.9L539.2,759.7L543.2,760.4L547.3,760.8L551.3,761.1L559.4,761.3L603.7,761.3" stroke="rgb(8,200,100)" stroke-width="1.4" fill="none"/>
<path d="M266.60,599.37L267.40,606.82L268.60,610.64L426.30,611.05" stroke="rgb(222,24,64)" stroke-width="1.6" fill="none"/>
<path d="M443.30,598.76L446.50,614.47L603.10,615.48" stroke="rgb(222,24,64)" stroke-width="1.6" fill="none"/>
<line x1="319.8" y1="490.5" x2="400.1" y2="490.5" stroke="rgb(222,24,64)" stroke-width="1.5"/>
<line x1="319.8" y1="498.1" x2="400.1" y2="498.1" stroke="rgb(240,151,169)" stroke-width="1.5"/>
<rect x="319.8" y="476.7" width="80.30" height="80.50" fill="none" stroke="#222" stroke-width="1.4"/>
<rect x="400.4" y="595.5" width="20.90" height="21.20" fill="none" stroke="#222" stroke-width="1.4"/>
<line x1="400.1" y1="476.7" x2="421.3" y2="595.5" stroke="#111" stroke-width="1.3" stroke-dasharray="7.9 8.8"/>
<line x1="319.8" y1="557.2" x2="400.4" y2="616.7" stroke="#111" stroke-width="1.3" stroke-dasharray="7.9 8.8" stroke-dashoffset="8.75"/>
<text x="288.64" y="487.70" font-size="14.0" font-weight="normal" font-style="normal">0.05</text>
<text x="306.66" y="556.00" font-size="14.0" font-weight="normal" font-style="normal">0</text>
<text x="305.47" y="573.40" font-size="14.0" font-weight="normal" font-style="normal" >300</text>
<text x="381.08" y="573.40" font-size="14.0" font-weight="normal" font-style="normal" >400</text>
<line x1="497.5" y1="528.9" x2="577.9" y2="528.9" stroke="rgb(225,47,83)" stroke-width="1.5"/>
<rect x="497.5" y="478.2" width="80.40" height="80.40" fill="none" stroke="#222" stroke-width="1.4"/>
<rect x="577.8" y="595.5" width="21.20" height="21.40" fill="none" stroke="#222" stroke-width="1.4"/>
<line x1="577.9" y1="478.2" x2="599.0" y2="595.5" stroke="#111" stroke-width="1.3" stroke-dasharray="7.9 8.8"/>
<line x1="497.5" y1="558.6" x2="577.8" y2="616.9" stroke="#111" stroke-width="1.3" stroke-dasharray="7.9 8.8" stroke-dashoffset="8.75"/>
<text x="466.34" y="489.20" font-size="14.0" font-weight="normal" font-style="normal">0.05</text>
<text x="483.76" y="560.00" font-size="14.0" font-weight="normal" font-style="normal">0</text>
<text x="483.47" y="574.80" font-size="14.0" font-weight="normal" font-style="normal" >300</text>
<text x="559.08" y="574.80" font-size="14.0" font-weight="normal" font-style="normal" >400</text>
<rect x="87.9" y="93.3" width="160.90" height="160.70" fill="none" stroke="#2a2a2a" stroke-width="1.35"/>
<path d="M168.35,93.3v6.6M168.35,254.0v-6.6M87.9,173.65h6.6M248.8,173.65h-6.6" stroke="#2a2a2a" stroke-width="1.3"/>
<rect x="265.8" y="93.3" width="160.50" height="160.70" fill="none" stroke="#2a2a2a" stroke-width="1.35"/>
<path d="M346.05,93.3v6.6M346.05,254.0v-6.6M265.8,173.65h6.6M426.3,173.65h-6.6" stroke="#2a2a2a" stroke-width="1.3"/>
<rect x="442.1" y="93.3" width="161.10" height="160.70" fill="none" stroke="#2a2a2a" stroke-width="1.35"/>
<path d="M522.65,93.3v6.6M522.65,254.0v-6.6M442.1,173.65h6.6M603.2,173.65h-6.6" stroke="#2a2a2a" stroke-width="1.3"/>
<rect x="88.9" y="277.8" width="159.90" height="160.90" fill="none" stroke="#2a2a2a" stroke-width="1.35"/>
<path d="M168.85,277.8v6.6M168.85,438.7v-6.6M88.9,358.25h6.6M248.8,358.25h-6.6" stroke="#2a2a2a" stroke-width="1.3"/>
<rect x="266.7" y="277.8" width="159.20" height="160.90" fill="none" stroke="#2a2a2a" stroke-width="1.35"/>
<path d="M346.30,277.8v6.6M346.30,438.7v-6.6M266.7,358.25h6.6M425.9,358.25h-6.6" stroke="#2a2a2a" stroke-width="1.3"/>
<rect x="443.3" y="277.8" width="159.60" height="160.90" fill="none" stroke="#2a2a2a" stroke-width="1.35"/>
<path d="M523.10,277.8v6.6M523.10,438.7v-6.6M443.3,358.25h6.6M602.9,358.25h-6.6" stroke="#2a2a2a" stroke-width="1.3"/>
<rect x="88.9" y="457.8" width="159.70" height="161.10" fill="none" stroke="#2a2a2a" stroke-width="1.35"/>
<path d="M168.75,457.8v6.6M168.75,618.9v-6.6M88.9,538.35h6.6M248.6,538.35h-6.6" stroke="#2a2a2a" stroke-width="1.3"/>
<rect x="266.6" y="457.8" width="159.70" height="161.10" fill="none" stroke="#2a2a2a" stroke-width="1.35"/>
<path d="M346.45,457.8v6.6M346.45,618.9v-6.6M266.6,538.35h6.6M426.3,538.35h-6.6" stroke="#2a2a2a" stroke-width="1.3"/>
<rect x="443.3" y="457.8" width="159.80" height="161.10" fill="none" stroke="#2a2a2a" stroke-width="1.35"/>
<path d="M523.20,457.8v6.6M523.20,618.9v-6.6M443.3,538.35h6.6M603.1,538.35h-6.6" stroke="#2a2a2a" stroke-width="1.3"/>
<rect x="88.3" y="642.4" width="161.10" height="161.00" fill="none" stroke="#2a2a2a" stroke-width="1.35"/>
<path d="M168.85,642.4v6.6M168.85,803.4v-6.6M88.3,722.90h6.6M249.4,722.90h-6.6" stroke="#2a2a2a" stroke-width="1.3"/>
<rect x="265.8" y="642.4" width="161.10" height="161.00" fill="none" stroke="#2a2a2a" stroke-width="1.35"/>
<path d="M346.35,642.4v6.6M346.35,803.4v-6.6M265.8,722.90h6.6M426.9,722.90h-6.6" stroke="#2a2a2a" stroke-width="1.3"/>
<rect x="442.5" y="642.4" width="161.20" height="161.00" fill="none" stroke="#2a2a2a" stroke-width="1.35"/>
<path d="M523.10,642.4v6.6M523.10,803.4v-6.6M442.5,722.90h6.6M603.7,722.90h-6.6" stroke="#2a2a2a" stroke-width="1.3"/>
<text x="37.40" y="93.20" font-size="24" font-weight="bold" font-style="normal" >a</text>
<text x="37.32" y="270.10" font-size="24" font-weight="bold" font-style="normal" >b</text>
<text x="37.16" y="451.80" font-size="24" font-weight="bold" font-style="normal" >c</text>
<text x="37.12" y="637.50" font-size="24" font-weight="bold" font-style="normal" >d</text>
<text x="250.46" y="93.20" font-size="24" font-weight="bold" font-style="normal" >e</text>
<text x="253.19" y="269.60" font-size="24" font-weight="bold" font-style="normal" >f</text>
<text x="250.92" y="452.20" font-size="24" font-weight="bold" font-style="normal" >g</text>
<text x="250.62" y="636.90" font-size="24" font-weight="bold" font-style="normal" >h</text>
<text x="431.32" y="92.90" font-size="24" font-weight="bold" font-style="normal" >i</text>
<text x="430.07" y="270.00" font-size="24" font-weight="bold" font-style="normal" >j</text>
<text x="428.22" y="451.70" font-size="24" font-weight="bold" font-style="normal" >k</text>
<text x="431.52" y="636.90" font-size="24" font-weight="bold" font-style="normal" >l</text>
<text x="61.98" y="103.60" font-size="16.8" font-weight="normal" font-style="normal">0.8</text>
<text x="61.14" y="179.80" font-size="16.8" font-weight="normal" font-style="normal">0.4</text>
<text x="75.31" y="255.80" font-size="16.8" font-weight="normal" font-style="normal">0</text>
<text x="61.08" y="284.10" font-size="16.8" font-weight="normal" font-style="normal">0.8</text>
<text x="60.24" y="360.30" font-size="16.8" font-weight="normal" font-style="normal">0.4</text>
<text x="74.71" y="433.80" font-size="16.8" font-weight="normal" font-style="normal">0</text>
<text x="61.58" y="470.50" font-size="16.8" font-weight="normal" font-style="normal">0.8</text>
<text x="61.14" y="544.20" font-size="16.8" font-weight="normal" font-style="normal">0.4</text>
<text x="74.71" y="620.30" font-size="16.8" font-weight="normal" font-style="normal">0</text>
<text x="61.98" y="649.70" font-size="16.8" font-weight="normal" font-style="normal">0.8</text>
<text x="61.84" y="725.90" font-size="16.8" font-weight="normal" font-style="normal">0.4</text>
<text x="75.61" y="804.60" font-size="16.8" font-weight="normal" font-style="normal">0</text>
<text transform="translate(52.90,230.51) rotate(-90)" font-size="19.6" font-weight="normal">H sector frac.</text>
<text transform="translate(55.70,414.91) rotate(-90)" font-size="19.6" font-weight="normal">R sector frac.</text>
<text transform="translate(55.70,593.51) rotate(-90)" font-size="19.6" font-weight="normal">E sector frac.</text>
<text transform="translate(56.70,774.52) rotate(-90)" font-size="19.6" font-weight="normal">Z sector frac.</text>
<text x="86.74" y="821.60" font-size="16.8" font-weight="normal" font-style="normal" >0</text>
<text x="155.66" y="821.60" font-size="16.8" font-weight="normal" font-style="normal" >200</text>
<text x="227.41" y="821.60" font-size="16.8" font-weight="normal" font-style="normal" >400</text>
<text x="264.64" y="821.60" font-size="16.8" font-weight="normal" font-style="normal" >0</text>
<text x="333.76" y="821.60" font-size="16.8" font-weight="normal" font-style="normal" >200</text>
<text x="405.41" y="821.60" font-size="16.8" font-weight="normal" font-style="normal" >400</text>
<text x="441.24" y="821.60" font-size="16.8" font-weight="normal" font-style="normal" >0</text>
<text x="509.76" y="821.60" font-size="16.8" font-weight="normal" font-style="normal" >200</text>
<text x="583.91" y="821.60" font-size="16.8" font-weight="normal" font-style="normal" >400</text>
<text x="142.86" y="848.60" font-size="19.6" font-weight="normal" font-style="normal" >Time (hr)</text>
<text x="321.76" y="848.50" font-size="19.6" font-weight="normal" font-style="normal" >Time (hr)</text>
<text x="489.36" y="848.50" font-size="19.6" font-weight="normal" font-style="normal" >Time (hr)</text>
<linearGradient id="cb0" x1="0" y1="0" x2="0" y2="1"><stop offset="0" stop-color="rgb(65,105,225)"/><stop offset="1" stop-color="#fff"/></linearGradient>
<rect x="609.4" y="96.8" width="12.80" height="153.30" fill="url(#cb0)" stroke="#2a2a2a" stroke-width="1.4"/>
<text x="628.66" y="110.00" font-size="16.8" font-weight="normal" font-style="normal" >2000</text>
<text x="629.14" y="248.90" font-size="16.8" font-weight="normal" font-style="normal" >0</text>
<linearGradient id="cb1" x1="0" y1="0" x2="0" y2="1"><stop offset="0" stop-color="rgb(248,145,40)"/><stop offset="1" stop-color="#fff"/></linearGradient>
<rect x="609.8" y="282.6" width="12.40" height="152.90" fill="url(#cb1)" stroke="#2a2a2a" stroke-width="1.4"/>
<text x="627.26" y="295.30" font-size="16.8" font-weight="normal" font-style="normal" >2000</text>
<text x="627.44" y="434.20" font-size="16.8" font-weight="normal" font-style="normal" >0</text>
<linearGradient id="cb2" x1="0" y1="0" x2="0" y2="1"><stop offset="0" stop-color="rgb(222,24,64)"/><stop offset="1" stop-color="#fff"/></linearGradient>
<rect x="609.6" y="459.0" width="12.70" height="153.20" fill="url(#cb2)" stroke="#2a2a2a" stroke-width="1.4"/>
<text x="628.66" y="472.10" font-size="16.8" font-weight="normal" font-style="normal" >2000</text>
<text x="629.14" y="610.70" font-size="16.8" font-weight="normal" font-style="normal" >0</text>
<linearGradient id="cb3" x1="0" y1="0" x2="0" y2="1"><stop offset="0" stop-color="rgb(8,200,100)"/><stop offset="1" stop-color="#fff"/></linearGradient>
<rect x="610.0" y="645.8" width="12.60" height="153.00" fill="url(#cb3)" stroke="#2a2a2a" stroke-width="1.4"/>
<text x="630.26" y="658.40" font-size="16.8" font-weight="normal" font-style="normal" >2000</text>
<text x="630.44" y="797.30" font-size="16.8" font-weight="normal" font-style="normal" >0</text>
<text x="597.89" y="62.70" font-size="19.6" font-weight="normal" font-style="normal" >initial</text>
<text x="595.70" y="82.80" font-size="19.6" font-weight="normal" font-style="normal" >[</text>
<text x="601.50" y="82.80" font-size="19.6" font-weight="normal" font-style="italic" >P</text>
<text x="616.14" y="82.80" font-size="13.8" font-weight="normal" font-style="italic" >1</text>
<text x="621.65" y="82.80" font-size="19.6" font-weight="normal" font-style="normal" >] (nM)</text>
</svg>
</body></html>
